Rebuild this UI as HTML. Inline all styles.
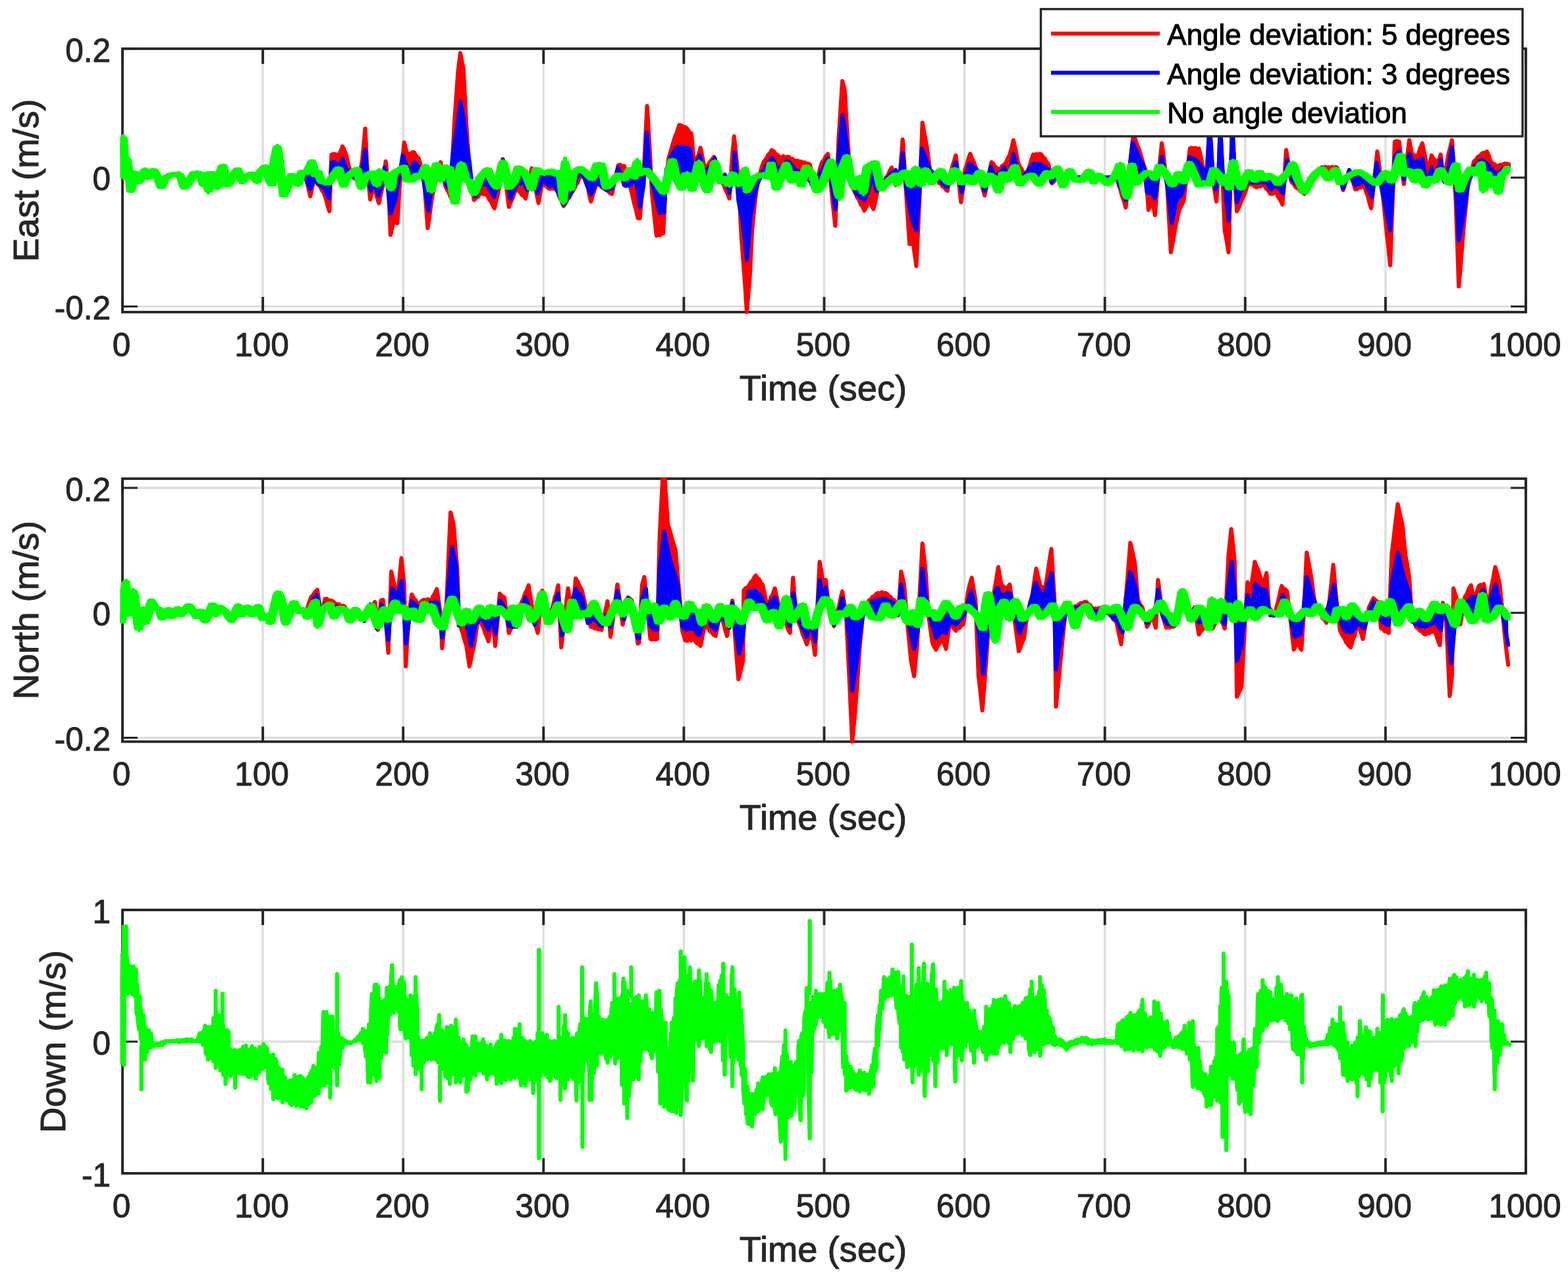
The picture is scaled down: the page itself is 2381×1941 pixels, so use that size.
<!DOCTYPE html><html><head><meta charset="utf-8"><title>Velocity error plot</title><style>html,body{margin:0;padding:0;background:#fff;overflow:hidden}svg{display:block}text{font-family:"Liberation Sans",Arial,Helvetica,sans-serif}</style></head><body>
<svg width="2381" height="1941" viewBox="0 0 2381 1941">
<rect width="2381" height="1941" fill="#fff"/>
<path d="M399.1 74V474M612.2 74V474M825.3 74V474M1038.4 74V474M1251.5 74V474M1464.6 74V474M1677.7 74V474M1890.8 74V474M2103.9 74V474M186 465.4H2317M186 269.7H2317" stroke="#dedede" stroke-width="3.4" fill="none"/>
<path d="M186 474v-22.9M186 74v22.9M399.1 474v-22.9M399.1 74v22.9M612.2 474v-22.9M612.2 74v22.9M825.3 474v-22.9M825.3 74v22.9M1038.4 474v-22.9M1038.4 74v22.9M1251.5 474v-22.9M1251.5 74v22.9M1464.6 474v-22.9M1464.6 74v22.9M1677.7 474v-22.9M1677.7 74v22.9M1890.8 474v-22.9M1890.8 74v22.9M2103.9 474v-22.9M2103.9 74v22.9M2317 474v-22.9M2317 74v22.9" stroke="#262626" stroke-width="3.85" fill="none"/>
<path d="M186 465.4h22.9M2317 465.4h-22.9M186 269.7h22.9M2317 269.7h-22.9M186 74h22.9M2317 74h-22.9" stroke="#262626" stroke-width="3" fill="none"/>
<rect x="186" y="74" width="2131" height="400" stroke="#262626" stroke-width="3.85" fill="none"/>
<clipPath id="c0"><rect x="182.4" y="70.4" width="2138.2" height="407.2"/></clipPath>
<g clip-path="url(#c0)" stroke-linejoin="round" stroke-linecap="round">
<path d="M461.7 270.2 465.4 273.9 468.3 285.4 471.1 298.2 473.9 285.7 476.7 272.1 479.2 274.2 481.7 279 484.2 281.5 486.7 284.3 489.2 289.6 491.7 292.7 494.6 300.9 497.4 312.3 500.2 320.7 502.1 270.2 503.4 234.7 506.9 233.9 510.5 234.5 514.3 236.4 517.1 230 519.9 222.5 522.7 227.4 525.5 234.5 529.3 251.4 531.8 258.8 534.3 263.2 536.8 270.2 539.3 271.4 541.8 270.3 544.3 272.1 547.1 259.1 550 243.9 554.6 195.3 557.5 255.2 562.2 302.9 566.9 281.5 569.7 289.7 572.5 300 575.3 308.5 580 287.1 581.5 281.4 585.7 245.2 589.6 281.4 593 356.7 597.6 336.7 600.5 336.8 603.4 339 606.9 281.4 610.3 250.1 613.8 216.4 618.4 235.3 621 233.6 623.6 234.1 626.2 231.2 628.8 231.4 632.2 237 635.7 240.6 638.4 249.2 641 261 643.7 269.9 646.6 307.5 649.5 346.4 652.4 326.5 655.3 304.4 658.7 287.2 662.2 272.2 665.6 260.4 669.1 246.4 672.5 263.1 676 281.4 678.7 288 681.4 292 684.1 299.1 686.9 245.3 689.8 189.2 692.7 148.3 695.6 108.6 699 80.5 703.6 104 708.2 189.2 712.9 258.3 716.3 281.6 719.8 303.7 722.6 300.4 725.5 299.3 728.4 294.9 731.3 292.9 734.4 295 737.4 295.1 740.5 297.5 743.1 303.4 745.7 306.1 748.3 312.2 750.9 316.4 753.6 304.1 756.3 293.7 758.9 281.4 763.5 241.7 766.6 265.1 769.7 290.6 772.8 314.1 775.6 306.5 778.5 300.8 781.4 292.4 784.3 286 787.1 289.7 789.8 291.6 792.6 296.1 795.3 297.3 798.1 301.4 801.2 286.9 804.3 270.3 807.3 255.6 809.9 269.5 812.5 281.4 815.1 295.7 817.7 308.3 820.6 291.9 823.5 276.8 826.5 281 829.6 282.4 832.7 286 835.6 286.8 838.4 285.5 841.3 286.7 844.2 286 847.1 291.5 850 300.5 852.8 305.4 855.7 312.9 858.5 309.1 861.2 303.3 864 300.4 866.8 294.3 869.5 290.6 872 286.6 874.5 280.7 876.9 277.6 879.4 270.7 881.9 268.4 884.4 261.7 886.8 257.9 889.4 270.7 892 281.4 894.6 295.2 897.2 306 900.3 295.5 903.3 287 906.4 276.8 909.2 277.9 911.9 282.3 914.7 282.7 917.5 286.8 920.2 288.3 923.3 289.7 926.4 293.5 929.4 294.5 932.5 279 935.6 266.3 938.7 251 941.7 250.2 944.8 252.3 947.9 252.1 950.8 261.1 953.6 273.4 956.5 282.1 959.4 292.9 962.5 306.8 965.5 317.4 968.6 331.4 971.5 331.4 974.4 301.7 977.3 269.9 979.9 214.7 982.6 161.1 986.5 223.8 990 292.9 993.4 326.3 996.9 357.9 999.5 356.1 1002.1 357.1 1004.6 354.5 1007.2 354.4 1010.7 281.4 1015.3 239.9 1018.8 228.9 1022.2 216.9 1025.3 207.1 1028.4 199.6 1031.4 189.9 1034.5 190.5 1037.6 192.8 1040.6 193.4 1043.7 195.6 1046.8 200.7 1049.9 203 1054.5 253.7 1057.5 243.4 1060.6 235.3 1063.7 224.5 1067.1 240.9 1070.6 258.3 1073.7 254.1 1076.7 247.9 1079.8 244 1084.4 238.3 1087.9 251.7 1091.3 262.9 1094 268.3 1096.7 276.7 1099.4 281.4 1102.1 289.3 1104.8 293.9 1107.5 301.4 1112.1 235.3 1114.8 207.2 1118.1 239.5 1121.3 269.9 1125.9 362 1128.8 399.4 1131.7 438.1 1134 474 1138.6 419.6 1142 350.5 1146.6 304.4 1151.2 269.9 1154.3 262.5 1157.4 251.9 1160.5 244.5 1163.3 241.5 1166.2 235.5 1169.1 232.9 1172 227.9 1174.9 229.6 1177.7 233.8 1180.6 235 1183.5 238.3 1186.4 239.4 1189.3 237.2 1192.1 239.4 1195 238.3 1197.8 238.4 1200.6 241.5 1203.3 241.2 1206.1 244 1208.8 244 1211.4 244.1 1214 246.4 1216.6 245.3 1219.2 247.6 1221.8 246.7 1224.4 248.9 1227 248.5 1229.6 249.8 1232.7 261.4 1235.7 270.1 1238.8 281.4 1241.9 270.7 1244.9 257.4 1248 246.8 1251.1 243.3 1254.2 237 1257.2 233.7 1261.8 281.4 1265.1 313.2 1268.3 342.9 1270.8 276.9 1273.4 212.2 1276.2 168.2 1279.1 123.1 1282.6 136.2 1287.2 212.2 1291.8 281.4 1295.3 286.3 1298.7 292.9 1301.5 299.4 1304.2 303 1307 310.1 1309.8 313.7 1312.5 319.9 1316 313.3 1319.4 304.4 1322.9 310.5 1326.4 317.5 1329.8 302.4 1333.3 286 1336.3 281.9 1339.4 281 1342.5 276.8 1345.4 270 1348.2 266.7 1351.1 259.3 1354 254.4 1357 268.8 1360 281.4 1363.1 275.1 1366.1 269.9 1370.7 211.8 1375.3 281.4 1378.2 326.8 1381.1 370.5 1384 370.1 1386.9 371.2 1391.5 404 1396.1 304.4 1400.7 186.4 1404.1 205.7 1407.6 223.8 1412.2 258.3 1415.3 262.3 1418.4 268.7 1421.4 272.2 1423.9 273.8 1426.4 278.2 1428.8 278.7 1431.3 283.5 1433.8 283.7 1436.2 288 1438.7 289.9 1441.6 273.2 1444.5 258.3 1447.9 247.7 1451.4 236 1454.1 259.1 1456.8 284.2 1459.4 307.2 1462.3 282.2 1465.2 258.3 1467.9 250.7 1470.6 241 1473.3 233.7 1475.9 240.9 1478.5 245.3 1481 252.8 1483.6 258.3 1486.5 267 1489.4 278.2 1492.3 286.1 1495.2 296.8 1497.8 284.7 1500.3 270.9 1502.9 260.1 1505.5 246.4 1508.1 248.4 1510.7 253 1513.3 254.8 1515.9 258.3 1518.8 256.6 1521.7 252.1 1524.5 250.7 1527.4 247.5 1530.3 240.3 1533.2 235.3 1536.1 224.7 1538.9 212.9 1542.4 228.8 1545.9 246.8 1548.7 253.4 1551.6 257.4 1554.5 264.6 1557.4 269.9 1560.3 260 1563.1 253.5 1566 243.1 1568.9 234.8 1571.4 235.6 1574 233.9 1576.5 235.7 1579 233.7 1581.6 234.8 1584.2 239.1 1586.8 241 1589.3 246.4 1591.9 248.7 1594.8 262.8 1597.7 278.4 1600.4 275.7 1603.1 270.4 1605.8 267.5 1608.4 268.3 1610.9 267.2 1613.5 269.2 1616.1 268.2 1618.7 270.1 1621.3 268.3 1623.9 270.6 1626.5 269.9 1629 269 1631.4 270.8 1633.9 269.2 1636.4 270.7 1638.8 268.9 1641.3 270.7 1643.8 269 1646.2 270.6 1648.7 269.2 1651.2 270.5 1653.7 269.2 1656.1 271 1658.6 269.3 1661.1 270.6 1663.5 269.3 1666 270.6 1668.5 268.9 1670.9 270.5 1673.4 268.7 1675.9 270.6 1678.3 269.3 1680.8 271 1683.3 269.1 1685.7 270.7 1688.2 268.8 1690.7 270.6 1693.2 268.8 1695.6 269.9 1698.4 279.5 1701.2 287.2 1703.9 297.7 1706.7 305 1709.4 315.2 1712.3 287.9 1715.2 258.1 1718.1 232.1 1721 203 1723.8 210.7 1726.7 220.6 1729.6 226.7 1732.5 236 1735.9 247.9 1739.4 258.3 1744 318.7 1747 311 1750 304.4 1753.8 326.8 1758.4 269.9 1761.3 244.9 1764.2 217.5 1766.9 238 1769.6 260.6 1772.3 281.4 1775.1 331.6 1778 383.2 1780.9 367.5 1783.8 350.5 1787.2 333.7 1790.7 318.2 1794.1 312.3 1797.6 304.4 1800.7 277.2 1803.7 252.8 1806.8 225.6 1809.6 224.5 1812.4 226.2 1815.1 224.6 1817.9 226.4 1820.6 225.6 1824.1 241.2 1827.6 258.3 1832.2 269.9 1836.8 189.2 1841.4 269.9 1844.3 289 1847.1 306 1850.6 258.3 1852.9 189.2 1856.4 269.9 1859.8 350.5 1862.7 365.9 1865.6 383.2 1869 258.3 1871.3 189.2 1874.8 269.9 1878.2 321 1881.3 314.7 1884.4 306.3 1887.5 299.8 1890.5 293.2 1893.6 283.4 1896.7 276.8 1899.8 280.1 1902.8 280.2 1905.9 283.7 1908.7 284.4 1911.4 282 1914.2 283.2 1917 280.9 1919.7 281.4 1922.8 286.7 1925.9 289.1 1928.9 294.5 1932 294.5 1935.1 292.6 1938.2 292.9 1941.2 299.6 1944.3 304 1947.4 310.6 1950.3 270 1953.1 227.9 1955.8 243.6 1958.5 261.6 1961.2 276.8 1964.3 278.9 1967.3 284.1 1970.4 286 1973 287.3 1975.6 291.2 1978.2 291.5 1980.8 294.5 1983.3 291.4 1985.9 285.6 1988.4 283 1990.9 277.8 1993.5 274.5 1996.2 271.5 1999 265.4 2001.8 263 2004.5 257.9 2007.3 254.4 2009.8 255.3 2012.4 253.3 2015 255 2017.5 253.8 2020.1 255.5 2022.6 253.5 2025.2 254.9 2027.8 253.8 2030.3 254.4 2033.4 266.4 2036.5 276.3 2039.5 288.7 2042.6 279.4 2045.7 268.1 2048.8 259 2051.8 269.1 2054.9 277.4 2058 287.6 2060.7 286.9 2063.5 284.2 2066.3 284.8 2069 282.1 2071.8 281.4 2074.4 290.9 2077 298.1 2079.6 308.5 2082.2 316.4 2085.2 287 2088.3 259.7 2091.4 230.2 2094.1 250 2096.8 273 2099.4 292.9 2102.3 319.4 2105.2 348.5 2108.1 374.4 2111 402.8 2114.4 309.5 2117.9 215.2 2121.3 214.2 2124.8 215.2 2128.2 248.1 2131.7 279.5 2134.5 256.7 2137.2 235.7 2140 212.9 2143.8 233 2147.2 235.6 2150.7 239.9 2153.8 233.6 2156.8 224.5 2159.9 217.5 2163 233.6 2166.1 246.9 2169.1 262.9 2173.7 236 2176.8 241 2179.9 243.9 2182.9 249.1 2187.6 234.8 2190.4 256 2193.3 276.1 2196.2 255 2199.1 235.3 2202 225.1 2204.8 212.9 2207.7 257.9 2210.6 304.4 2215.2 435.1 2218.7 394 2222.1 350.5 2225.6 314.9 2229 281.4 2232.1 269.9 2235.2 256.7 2238.2 245.2 2241.1 242.9 2244 238.3 2246.9 237.2 2249.8 233.7 2252.5 232 2255.1 232.5 2257.8 230.2 2260.5 235.4 2263.2 243.7 2265.9 249.1 2269 249.1 2272 251.7 2275.1 252.1 2278.2 250.3 2281.3 250.4 2284.3 248.7 2287.8 248.7 2291.2 249.8L2291.2 258.3 2287.8 257.8 2284.3 262.9 2281.3 264.5 2278.2 274.6 2275.1 293.4 2272 277.7 2269 273.4 2265.9 280.4 2263.2 277.6 2260.5 268.3 2257.8 267.6 2255.1 278.6 2252.5 289.5 2249.8 247.5 2246.9 253 2244 258.6 2241.1 264.1 2238.2 262 2235.2 257.7 2232.1 257.9 2229 262.7 2225.6 268.1 2222.1 275.6 2218.7 284.2 2215.2 281.6 2210.6 248.7 2207.7 258.3 2204.8 268 2202 277.6 2199.1 276.3 2196.2 272.3 2193.3 267.7 2190.4 262.2 2187.6 256.7 2182.9 266.4 2179.9 272.8 2176.8 274.7 2173.7 271.9 2169.1 274.2 2166.1 280.1 2163 279.8 2159.9 273.4 2156.8 267 2153.8 260.6 2150.7 267.5 2147.2 273.6 2143.8 266.3 2140 258.3 2137.2 260.6 2134.5 262.9 2131.7 265.2 2128.2 242.4 2124.8 241.7 2121.3 252 2117.9 262.3 2114.4 272.6 2111 272.4 2108.1 267.8 2105.2 263.2 2102.3 263.6 2099.4 267.4 2096.8 270.9 2094.1 274.5 2091.4 278 2088.3 278.1 2085.2 275.9 2082.2 273.5 2079.6 271.5 2077 269.4 2074.4 267.3 2071.8 265.2 2069 263.7 2066.3 262.2 2063.5 260.7 2060.7 261 2058 262.2 2054.9 263.6 2051.8 264.9 2048.8 266.8 2045.7 268.8 2042.6 271.3 2039.5 274.1 2036.5 277 2033.4 273.6 2030.3 263.9 2027.8 257.1 2025.2 260.6 2022.6 264.1 2020.1 267.7 2017.5 271.2 2015 269.8 2012.4 265 2009.8 260.3 2007.3 255.6 2004.5 258.1 2001.8 260.5 1999 263 1996.2 265.5 1993.5 269.5 1990.9 273.5 1988.4 277.6 1985.9 282.5 1983.3 287.4 1980.8 292.2 1978.2 287.2 1975.6 282.2 1973 277.2 1970.4 272.2 1967.3 261.2 1964.3 250.2 1961.2 252.1 1958.5 257.5 1955.8 262 1953.1 264.5 1950.3 267.2 1947.4 269.9 1944.3 274.2 1941.2 278.5 1938.2 275.8 1935.1 271.6 1932 269.6 1928.9 267.5 1925.9 266.6 1922.8 269.4 1919.7 272.2 1917 267.8 1914.2 263.5 1911.4 264 1908.7 269.2 1905.9 274.5 1902.8 269.7 1899.8 264.9 1896.7 260.2 1893.6 265.5 1890.5 270.8 1887.5 279.3 1884.4 284.9 1881.3 278.5 1878.2 272.2 1874.8 255.3 1871.3 252.5 1869 269.5 1865.6 265.2 1862.7 270.3 1859.8 275.4 1856.4 277.1 1852.9 270 1850.6 265.2 1847.1 261.6 1844.3 258.5 1841.4 261.5 1836.8 280.7 1832.2 278.7 1827.6 276.8 1824.1 279.3 1820.6 281.8 1817.9 275.2 1815.1 268.6 1812.4 262.2 1809.6 256.1 1806.8 250 1803.7 254.6 1800.7 265.9 1797.6 277.2 1794.1 270.9 1790.7 264.6 1787.2 267.3 1783.8 274.6 1780.9 280.6 1778 277.6 1775.1 272.4 1772.3 267.1 1769.6 262.5 1766.9 259.3 1764.2 256.2 1761.3 252.8 1758.4 258.6 1753.8 271.5 1750 265.2 1747 263.8 1744 262.4 1739.4 263.5 1735.9 266.7 1732.5 269.9 1729.6 273.3 1726.7 276.8 1723.8 276.6 1721 261.7 1718.1 254 1715.2 275 1712.3 296.1 1709.4 292.7 1706.7 283.6 1703.9 266.6 1701.2 249.2 1698.4 255.7 1695.6 262.2 1693.2 267.7 1690.7 270.3 1688.2 272.9 1685.7 275.4 1683.3 278 1680.8 278.5 1678.3 276 1675.9 273.4 1673.4 270.9 1670.9 268.3 1668.5 265.8 1666 268.7 1663.5 272.9 1661.1 277.2 1658.6 270.7 1656.1 264.2 1653.7 259.7 1651.2 263 1648.7 266.3 1646.2 269.6 1643.8 272.9 1641.3 274.5 1638.8 274.5 1636.4 274.5 1633.9 274.5 1631.4 270.9 1629 266.5 1626.5 262 1623.9 258.6 1621.3 264.8 1618.7 271.1 1616.1 277.4 1613.5 282 1610.9 272.8 1608.4 263.6 1605.8 254.4 1603.1 258 1600.4 261.6 1597.7 265.2 1594.8 269.1 1591.9 265.6 1589.3 261.8 1586.8 266.2 1584.2 270.5 1581.6 274.9 1579 279.1 1576.5 278.5 1574 275.1 1571.4 271.7 1568.9 268.3 1566 265.5 1563.1 267 1560.3 268.4 1557.4 269.9 1554.5 273.2 1551.6 276.6 1548.7 280 1545.9 271.2 1542.4 256.9 1538.9 256.6 1536.1 262.2 1533.2 267.8 1530.3 273.3 1527.4 270.9 1524.5 266.3 1521.7 268.2 1518.8 279.6 1515.9 291.1 1513.3 283.1 1510.7 275.2 1508.1 269.3 1505.5 267.5 1502.9 265.8 1500.3 269.7 1497.8 276.3 1495.2 283 1492.3 273.5 1489.4 264 1486.5 262.9 1483.6 267.5 1481 271.6 1478.5 275.6 1475.9 277 1473.3 273 1470.6 268.8 1467.9 269.8 1465.2 273 1462.3 276.3 1459.4 275.1 1456.8 267.4 1454.1 262.9 1451.4 259.6 1447.9 260.3 1444.5 271.2 1441.6 277.9 1438.7 275.3 1436.2 273 1433.8 269.1 1431.3 264 1428.8 258.9 1426.4 260.6 1423.9 264.1 1421.4 267.5 1418.4 272.4 1415.3 277.2 1412.2 273 1407.6 262.1 1404.1 260.9 1400.7 273.5 1396.1 274 1391.5 258.3 1386.9 268.7 1384 280.6 1381.1 276.5 1378.2 268.3 1375.3 260.2 1370.7 263.6 1366.1 270.4 1363.1 277.2 1360 265.2 1357 267.9 1354 270.6 1351.1 273.2 1348.2 275.7 1345.4 278.8 1342.5 282.2 1339.4 285.8 1336.3 280.7 1333.3 267 1329.8 251.5 1326.4 247.8 1322.9 250 1319.4 252.2 1316 254.4 1312.5 284.5 1309.8 287.2 1307 274.5 1304.2 271.8 1301.5 278.9 1298.7 286 1295.3 279.1 1291.8 272.2 1287.2 244.1 1282.6 246.2 1279.1 255.3 1276.2 280.5 1273.4 296.9 1270.8 284.6 1268.3 272.4 1265.1 258.2 1261.8 244 1257.2 256.5 1254.2 264.8 1251.1 273.1 1248 281.4 1244.9 285.1 1241.9 288.7 1238.8 285.9 1235.7 272.1 1232.7 263.5 1229.6 259.9 1227 256.9 1224.4 253.9 1221.8 261.6 1219.2 272.3 1216.6 281.2 1214 275.1 1211.4 269 1208.8 262.9 1206.1 268.2 1203.3 273.4 1200.6 271.4 1197.8 262 1195 252.6 1192.1 253.2 1189.3 260.8 1186.4 268.3 1183.5 275.4 1180.6 282.3 1177.7 281 1174.9 267.5 1172 254.1 1169.1 259.3 1166.2 269.4 1163.3 268.2 1160.5 267.1 1157.4 265.9 1154.3 265.9 1151.2 267.1 1146.6 268.9 1142 274.3 1138.6 280.9 1134 289.7 1131.7 257.2 1128.8 263.9 1125.9 270.6 1121.3 281.4 1118.1 274.9 1114.8 268.5 1112.1 262.9 1107.5 281.8 1104.8 277.2 1102.1 272.5 1099.4 271 1096.7 273.7 1094 276.4 1091.3 267.7 1087.9 254.2 1084.4 249.8 1079.8 268.1 1076.7 280.4 1073.7 290.2 1070.6 283 1067.1 274.9 1063.7 258.7 1060.6 248.4 1057.5 261.3 1054.5 274.2 1049.9 282.9 1046.8 267.2 1043.7 265.2 1040.6 265.2 1037.6 276.5 1034.5 285.7 1031.4 279.3 1028.4 273 1025.3 262.7 1022.2 248.3 1018.8 250.9 1015.3 262.9 1010.7 283.2 1007.2 291.7 1004.6 288 1002.1 284.2 999.5 280.5 996.9 276.8 993.4 272.4 990 268.1 986.5 264 982.6 259.8 979.9 258.4 977.3 260.2 974.4 262.2 971.5 264.2 968.6 253.1 965.5 257.9 962.5 266.9 959.4 261.1 956.5 257.7 953.6 262.5 950.8 267.3 947.9 272.2 944.8 269.9 941.7 267.5 938.7 265.2 935.6 269.1 932.5 272.9 929.4 276.8 926.4 279.6 923.3 282.4 920.2 285.3 917.5 271.1 914.7 256.9 911.9 249.8 909.2 249.8 906.4 249.8 903.3 259.7 900.3 269.7 897.2 269.9 894.6 267.3 892 264.7 889.4 262.2 886.8 260.2 884.4 258.2 881.9 256.2 879.4 256.6 876.9 258.2 874.5 259.8 872 261.4 869.5 262.9 866.8 286.4 864 279.3 861.2 272.2 858.5 246.4 855.7 308.3 852.8 279 850 262 847.1 263.6 844.2 265.2 841.3 262.7 838.4 260.1 835.6 260.5 832.7 262.9 829.6 262.9 826.5 262.9 823.5 262.9 820.6 261 817.7 259.1 815.1 257.3 812.5 264.4 809.9 276 807.3 287.6 804.3 279.7 801.2 271.8 798.1 265.2 795.3 260.3 792.6 258.5 789.8 256.6 787.1 254.7 784.3 264.4 781.4 275.1 778.5 278.5 775.6 281.9 772.8 285.3 769.7 268.9 766.6 255.5 763.5 245.2 758.9 265.2 756.3 276.9 753.6 284.1 750.9 279.9 748.3 275.8 745.7 270 743.1 263.4 740.5 256.7 737.4 260.2 734.4 263.7 731.3 267.2 728.4 271.4 725.5 279.1 722.6 286.8 719.8 294.5 716.3 284.5 712.9 274.5 708.2 274.5 703.6 258.3 699 253.1 695.6 269.9 692.7 293.9 689.8 302 686.9 286.2 684.1 266.4 681.4 255.5 678.7 254.6 676 253.7 672.5 261.7 669.1 274.5 665.6 259 662.2 252 658.7 261.9 655.3 291.1 652.4 278.9 649.5 266.7 646.6 254.5 643.7 258 641 264.9 638.4 269.2 635.7 267.1 632.2 266.6 628.8 270.5 626.2 273.5 623.6 274.3 621 274 618.4 273.8 613.8 253.3 610.3 255.4 606.9 257.6 603.4 259.7 600.5 261.3 597.6 262.9 593 284.5 589.6 275.3 585.7 264.8 581.5 267.5 580 272.1 575.3 264.2 572.5 282.2 569.7 274.6 566.9 267 562.2 263.3 557.5 265.5 554.6 268.9 550 281.1 547.1 281 544.3 266.2 541.8 256.8 539.3 258.8 536.8 260.8 534.3 262.8 531.8 264.8 529.3 266.8 525.5 272.9 522.7 279.9 519.9 275.5 517.1 265.4 514.3 255.4 510.5 260.5 506.9 265.5 503.4 271 502.1 273.4 500.2 276.8 497.4 278 494.6 277.4 491.7 276.7 489.2 276.1 486.7 272.3 484.2 265.3 481.7 261.1 479.2 265.4 476.7 257.9 473.9 245 471.1 250.9 468.3 256.8 465.4 262.7 461.7 261.7Z" fill="#ff0000"/>
<path d="M461.7 270.2 465.4 273.9 468.3 285.4 471.1 298.2 473.9 285.7 476.7 272.1 479.2 274.2 481.7 279 484.2 281.5 486.7 284.3 489.2 289.6 491.7 292.7 494.6 300.9 497.4 312.3 500.2 320.7 502.1 270.2 503.4 234.7 506.9 233.9 510.5 234.5 514.3 236.4 517.1 230 519.9 222.5 522.7 227.4 525.5 234.5 529.3 251.4 531.8 258.8 534.3 263.2 536.8 270.2 539.3 271.4 541.8 270.3 544.3 272.1 547.1 259.1 550 243.9 554.6 195.3 557.5 255.2 562.2 302.9 566.9 281.5 569.7 289.7 572.5 300 575.3 308.5 580 287.1 581.5 281.4 585.7 245.2 589.6 281.4 593 356.7 597.6 336.7 600.5 336.8 603.4 339 606.9 281.4 610.3 250.1 613.8 216.4 618.4 235.3 621 233.6 623.6 234.1 626.2 231.2 628.8 231.4 632.2 237 635.7 240.6 638.4 249.2 641 261 643.7 269.9 646.6 307.5 649.5 346.4 652.4 326.5 655.3 304.4 658.7 287.2 662.2 272.2 665.6 260.4 669.1 246.4 672.5 263.1 676 281.4 678.7 288 681.4 292 684.1 299.1 686.9 245.3 689.8 189.2 692.7 148.3 695.6 108.6 699 80.5 703.6 104 708.2 189.2 712.9 258.3 716.3 281.6 719.8 303.7 722.6 300.4 725.5 299.3 728.4 294.9 731.3 292.9 734.4 295 737.4 295.1 740.5 297.5 743.1 303.4 745.7 306.1 748.3 312.2 750.9 316.4 753.6 304.1 756.3 293.7 758.9 281.4 763.5 241.7 766.6 265.1 769.7 290.6 772.8 314.1 775.6 306.5 778.5 300.8 781.4 292.4 784.3 286 787.1 289.7 789.8 291.6 792.6 296.1 795.3 297.3 798.1 301.4 801.2 286.9 804.3 270.3 807.3 255.6 809.9 269.5 812.5 281.4 815.1 295.7 817.7 308.3 820.6 291.9 823.5 276.8 826.5 281 829.6 282.4 832.7 286 835.6 286.8 838.4 285.5 841.3 286.7 844.2 286 847.1 291.5 850 300.5 852.8 305.4 855.7 312.9 858.5 309.1 861.2 303.3 864 300.4 866.8 294.3 869.5 290.6 872 286.6 874.5 280.7 876.9 277.6 879.4 270.7 881.9 268.4 884.4 261.7 886.8 257.9 889.4 270.7 892 281.4 894.6 295.2 897.2 306 900.3 295.5 903.3 287 906.4 276.8 909.2 277.9 911.9 282.3 914.7 282.7 917.5 286.8 920.2 288.3 923.3 289.7 926.4 293.5 929.4 294.5 932.5 279 935.6 266.3 938.7 251 941.7 250.2 944.8 252.3 947.9 252.1 950.8 261.1 953.6 273.4 956.5 282.1 959.4 292.9 962.5 306.8 965.5 317.4 968.6 331.4 971.5 331.4 974.4 301.7 977.3 269.9 979.9 214.7 982.6 161.1 986.5 223.8 990 292.9 993.4 326.3 996.9 357.9 999.5 356.1 1002.1 357.1 1004.6 354.5 1007.2 354.4 1010.7 281.4 1015.3 239.9 1018.8 228.9 1022.2 216.9 1025.3 207.1 1028.4 199.6 1031.4 189.9 1034.5 190.5 1037.6 192.8 1040.6 193.4 1043.7 195.6 1046.8 200.7 1049.9 203 1054.5 253.7 1057.5 243.4 1060.6 235.3 1063.7 224.5 1067.1 240.9 1070.6 258.3 1073.7 254.1 1076.7 247.9 1079.8 244 1084.4 238.3 1087.9 251.7 1091.3 262.9 1094 268.3 1096.7 276.7 1099.4 281.4 1102.1 289.3 1104.8 293.9 1107.5 301.4 1112.1 235.3 1114.8 207.2 1118.1 239.5 1121.3 269.9 1125.9 362 1128.8 399.4 1131.7 438.1 1134 474 1138.6 419.6 1142 350.5 1146.6 304.4 1151.2 269.9 1154.3 262.5 1157.4 251.9 1160.5 244.5 1163.3 241.5 1166.2 235.5 1169.1 232.9 1172 227.9 1174.9 229.6 1177.7 233.8 1180.6 235 1183.5 238.3 1186.4 239.4 1189.3 237.2 1192.1 239.4 1195 238.3 1197.8 238.4 1200.6 241.5 1203.3 241.2 1206.1 244 1208.8 244 1211.4 244.1 1214 246.4 1216.6 245.3 1219.2 247.6 1221.8 246.7 1224.4 248.9 1227 248.5 1229.6 249.8 1232.7 261.4 1235.7 270.1 1238.8 281.4 1241.9 270.7 1244.9 257.4 1248 246.8 1251.1 243.3 1254.2 237 1257.2 233.7 1261.8 281.4 1265.1 313.2 1268.3 342.9 1270.8 276.9 1273.4 212.2 1276.2 168.2 1279.1 123.1 1282.6 136.2 1287.2 212.2 1291.8 281.4 1295.3 286.3 1298.7 292.9 1301.5 299.4 1304.2 303 1307 310.1 1309.8 313.7 1312.5 319.9 1316 313.3 1319.4 304.4 1322.9 310.5 1326.4 317.5 1329.8 302.4 1333.3 286 1336.3 281.9 1339.4 281 1342.5 276.8 1345.4 270 1348.2 266.7 1351.1 259.3 1354 254.4 1357 268.8 1360 281.4 1363.1 275.1 1366.1 269.9 1370.7 211.8 1375.3 281.4 1378.2 326.8 1381.1 370.5 1384 370.1 1386.9 371.2 1391.5 404 1396.1 304.4 1400.7 186.4 1404.1 205.7 1407.6 223.8 1412.2 258.3 1415.3 262.3 1418.4 268.7 1421.4 272.2 1423.9 273.8 1426.4 278.2 1428.8 278.7 1431.3 283.5 1433.8 283.7 1436.2 288 1438.7 289.9 1441.6 273.2 1444.5 258.3 1447.9 247.7 1451.4 236 1454.1 259.1 1456.8 284.2 1459.4 307.2 1462.3 282.2 1465.2 258.3 1467.9 250.7 1470.6 241 1473.3 233.7 1475.9 240.9 1478.5 245.3 1481 252.8 1483.6 258.3 1486.5 267 1489.4 278.2 1492.3 286.1 1495.2 296.8 1497.8 284.7 1500.3 270.9 1502.9 260.1 1505.5 246.4 1508.1 248.4 1510.7 253 1513.3 254.8 1515.9 258.3 1518.8 256.6 1521.7 252.1 1524.5 250.7 1527.4 247.5 1530.3 240.3 1533.2 235.3 1536.1 224.7 1538.9 212.9 1542.4 228.8 1545.9 246.8 1548.7 253.4 1551.6 257.4 1554.5 264.6 1557.4 269.9 1560.3 260 1563.1 253.5 1566 243.1 1568.9 234.8 1571.4 235.6 1574 233.9 1576.5 235.7 1579 233.7 1581.6 234.8 1584.2 239.1 1586.8 241 1589.3 246.4 1591.9 248.7 1594.8 262.8 1597.7 278.4 1600.4 275.7 1603.1 270.4 1605.8 267.5 1608.4 268.3 1610.9 267.2 1613.5 269.2 1616.1 268.2 1618.7 270.1 1621.3 268.3 1623.9 270.6 1626.5 269.9 1629 269 1631.4 270.8 1633.9 269.2 1636.4 270.7 1638.8 268.9 1641.3 270.7 1643.8 269 1646.2 270.6 1648.7 269.2 1651.2 270.5 1653.7 269.2 1656.1 271 1658.6 269.3 1661.1 270.6 1663.5 269.3 1666 270.6 1668.5 268.9 1670.9 270.5 1673.4 268.7 1675.9 270.6 1678.3 269.3 1680.8 271 1683.3 269.1 1685.7 270.7 1688.2 268.8 1690.7 270.6 1693.2 268.8 1695.6 269.9 1698.4 279.5 1701.2 287.2 1703.9 297.7 1706.7 305 1709.4 315.2 1712.3 287.9 1715.2 258.1 1718.1 232.1 1721 203 1723.8 210.7 1726.7 220.6 1729.6 226.7 1732.5 236 1735.9 247.9 1739.4 258.3 1744 318.7 1747 311 1750 304.4 1753.8 326.8 1758.4 269.9 1761.3 244.9 1764.2 217.5 1766.9 238 1769.6 260.6 1772.3 281.4 1775.1 331.6 1778 383.2 1780.9 367.5 1783.8 350.5 1787.2 333.7 1790.7 318.2 1794.1 312.3 1797.6 304.4 1800.7 277.2 1803.7 252.8 1806.8 225.6 1809.6 224.5 1812.4 226.2 1815.1 224.6 1817.9 226.4 1820.6 225.6 1824.1 241.2 1827.6 258.3 1832.2 269.9 1836.8 189.2 1841.4 269.9 1844.3 289 1847.1 306 1850.6 258.3 1852.9 189.2 1856.4 269.9 1859.8 350.5 1862.7 365.9 1865.6 383.2 1869 258.3 1871.3 189.2 1874.8 269.9 1878.2 321 1881.3 314.7 1884.4 306.3 1887.5 299.8 1890.5 293.2 1893.6 283.4 1896.7 276.8 1899.8 280.1 1902.8 280.2 1905.9 283.7 1908.7 284.4 1911.4 282 1914.2 283.2 1917 280.9 1919.7 281.4 1922.8 286.7 1925.9 289.1 1928.9 294.5 1932 294.5 1935.1 292.6 1938.2 292.9 1941.2 299.6 1944.3 304 1947.4 310.6 1950.3 270 1953.1 227.9 1955.8 243.6 1958.5 261.6 1961.2 276.8 1964.3 278.9 1967.3 284.1 1970.4 286 1973 287.3 1975.6 291.2 1978.2 291.5 1980.8 294.5 1983.3 291.4 1985.9 285.6 1988.4 283 1990.9 277.8 1993.5 274.5 1996.2 271.5 1999 265.4 2001.8 263 2004.5 257.9 2007.3 254.4 2009.8 255.3 2012.4 253.3 2015 255 2017.5 253.8 2020.1 255.5 2022.6 253.5 2025.2 254.9 2027.8 253.8 2030.3 254.4 2033.4 266.4 2036.5 276.3 2039.5 288.7 2042.6 279.4 2045.7 268.1 2048.8 259 2051.8 269.1 2054.9 277.4 2058 287.6 2060.7 286.9 2063.5 284.2 2066.3 284.8 2069 282.1 2071.8 281.4 2074.4 290.9 2077 298.1 2079.6 308.5 2082.2 316.4 2085.2 287 2088.3 259.7 2091.4 230.2 2094.1 250 2096.8 273 2099.4 292.9 2102.3 319.4 2105.2 348.5 2108.1 374.4 2111 402.8 2114.4 309.5 2117.9 215.2 2121.3 214.2 2124.8 215.2 2128.2 248.1 2131.7 279.5 2134.5 256.7 2137.2 235.7 2140 212.9 2143.8 233 2147.2 235.6 2150.7 239.9 2153.8 233.6 2156.8 224.5 2159.9 217.5 2163 233.6 2166.1 246.9 2169.1 262.9 2173.7 236 2176.8 241 2179.9 243.9 2182.9 249.1 2187.6 234.8 2190.4 256 2193.3 276.1 2196.2 255 2199.1 235.3 2202 225.1 2204.8 212.9 2207.7 257.9 2210.6 304.4 2215.2 435.1 2218.7 394 2222.1 350.5 2225.6 314.9 2229 281.4 2232.1 269.9 2235.2 256.7 2238.2 245.2 2241.1 242.9 2244 238.3 2246.9 237.2 2249.8 233.7 2252.5 232 2255.1 232.5 2257.8 230.2 2260.5 235.4 2263.2 243.7 2265.9 249.1 2269 249.1 2272 251.7 2275.1 252.1 2278.2 250.3 2281.3 250.4 2284.3 248.7 2287.8 248.7 2291.2 249.8" stroke="#ff0000" stroke-width="6.2" fill="none"/>
<path d="M461.7 270.2 465.4 273.9 468.3 279.7 471.1 286.9 473.9 279.6 476.7 270.2 479.2 272.6 481.7 277 484.2 279.6 486.7 280.6 489.2 284.3 491.7 285.2 494.2 289.5 496.7 296.3 499.2 301 502.1 270.2 503.4 246.9 506.9 246.4 510.5 247.7 513.3 250.2 516.2 251.4 519.9 241.3 522.7 247.7 525.5 255.2 528.4 260.1 531.2 262.7 534 264.5 536.8 268.3 539.6 270 542.4 270.2 545.3 267.3 548.1 266.4 551.4 247.9 554.6 227.2 557.5 260.8 560.3 274.8 563.1 289.7 566.9 273.9 569.4 282.5 571.9 288.8 574.4 297.2 577.2 288 580 277.7 583.8 254.4 588.4 281.4 593 324.5 596.5 313.4 600 304.4 604.6 276.8 608 257.5 611.5 236 616.1 249.1 619.5 255.2 623 262.9 625.9 255.7 628.8 246.4 631.4 247.9 634.1 252 636.8 253.7 640.3 264.4 643.7 276.8 647.2 299.4 650.6 319.9 655.3 281.4 658.7 271.5 662.2 262.9 664.9 266.6 667.7 267.9 670.5 272.1 673.2 273 676 276.8 679.4 283 682.9 287.6 687.5 235.3 691 211.7 694.4 189.2 699 154.2 703.6 177.7 708.2 216.9 712.9 246.8 717.5 288.3 722.1 298 725.1 292 728.2 282.8 731.3 276.8 734.4 279.4 737.4 279.2 740.5 281.4 743.6 288.5 746.7 292.4 749.7 299.1 752.8 290 755.9 278.9 758.9 269.9 763.5 242.9 767 256.9 770.5 269.9 775.1 301.4 778.1 292.9 781.2 287.7 784.3 279.1 787.2 277.4 790 278.9 792.9 276.5 795.8 276.8 800.4 288.7 803.5 282.4 806.6 273.7 809.6 267.5 813.1 280.9 816.5 293.4 820 282.2 823.5 272.2 826.5 276.1 829.6 277.6 832.7 281.4 835.7 282.6 838.8 280.4 841.9 281.4 844.7 287.7 847.4 292.2 850.2 299.4 852.9 303.6 855.7 310.6 858.6 307.2 861.5 300.7 864.4 298.1 867.2 292.9 870 285.5 872.8 280.1 875.5 271.2 878.3 266 881.1 258.3 884.5 264.6 888 272.2 891 280.9 894.1 286.8 897.2 295.2 900.3 290 903.3 281.8 906.4 276.8 909.2 280 911.9 280.8 914.7 284.8 917.5 284.8 920.2 288.3 923.3 288.6 926.4 285.8 929.4 286 932.5 276 935.6 264.4 938.7 254.4 941.7 264.4 944.8 271.8 947.9 281.4 951 282.5 954 280.7 957.1 281.4 960.6 276.4 964 269.9 968.6 288.3 971.5 314.1 974.4 297.1 977.3 281.4 981.9 201.4 986.5 258.3 989.4 273.1 992.3 286 995.3 297.5 998.4 311.6 1001.5 323.3 1004.9 322.2 1008.4 322.8 1011.8 258.3 1014.5 251.5 1017.2 242 1019.9 235.3 1023.4 231 1026.8 224.5 1029.7 223.4 1032.6 224.4 1035.5 222.5 1038.3 223.3 1041.4 225.2 1044.5 224.5 1047.6 226.1 1052.2 258.3 1054.8 253.7 1057.4 246.6 1059.9 242.8 1062.5 236 1065.4 248.8 1068.3 262.9 1071.4 260.9 1074.4 256.1 1077.5 253.7 1080.2 250.3 1082.9 244.1 1085.6 240.6 1088.3 253.8 1091 263.9 1093.6 276.8 1097.1 272.1 1100.6 265.2 1104 278.5 1107.5 293.4 1110.9 276.6 1114.4 258.3 1115.5 231.4 1118.4 266.8 1121.3 304.4 1124.7 322.3 1128.2 339 1131.1 366.2 1134 394.7 1136.8 361.8 1139.7 327.5 1143.2 309.3 1146.6 292.9 1151.2 276.8 1154.3 270.7 1157.4 262.3 1160.5 256 1163.3 252.4 1166.2 246.9 1169.1 244.1 1172 239.4 1175.1 244.9 1178.1 253.2 1181.2 258.3 1184 254.4 1186.7 253.2 1189.5 248.8 1192.3 247.6 1195 244 1197.8 245.9 1200.6 250.7 1203.3 251.9 1206.1 256.2 1208.8 258.3 1211.5 259.3 1214.2 262.3 1216.9 262.3 1219.6 265.4 1222.3 264.8 1225 267.5 1227.9 272.9 1230.7 275.8 1233.6 282.4 1236.5 286 1239.4 278.2 1242.3 273.3 1245.1 264.8 1248 258.3 1251.1 253.2 1254.2 245.9 1257.2 240.6 1260.3 262.9 1263.4 282.2 1266.5 304.4 1268.8 317.5 1273.4 235.3 1276.2 206.1 1279.1 174.9 1282 192.7 1284.9 212.2 1288.3 241.5 1291.8 269.9 1294.9 277.8 1297.9 287.5 1301 295.2 1303.9 296.2 1306.8 300 1309.7 301 1312.5 303.7 1315.3 297.3 1318.1 287.8 1320.8 282 1323.6 272.5 1326.4 265.9 1331 289.9 1334.4 286.8 1337.9 281.4 1340.6 277.1 1343.4 276 1346.2 271 1348.9 269.7 1351.7 265.2 1354.5 261.8 1357.2 261.4 1360 258.3 1363.1 263.5 1366.1 269.9 1370.7 232.5 1375.3 281.4 1378.4 299.4 1381.5 315.7 1384.6 333.7 1388 342.4 1391.5 349.8 1396.1 292.9 1399.5 225.6 1402.4 232.1 1405.3 239.9 1408.8 249.9 1412.2 258.3 1415.1 260.4 1418 265.1 1420.9 266 1423.7 269.9 1426.5 273.3 1429.3 275 1432 279.4 1434.8 280.3 1437.6 284.1 1441 278.1 1444.5 269.9 1447.9 257.2 1451.4 246.4 1454.5 262.7 1457.5 276.4 1460.6 292.2 1465.2 269.9 1468.7 260.3 1472.1 248.7 1475 249.9 1477.9 254 1480.8 255.3 1483.6 258.3 1486.5 267.4 1489.4 273.5 1492.3 282.9 1495.2 289.9 1498.2 277.2 1501.3 266.1 1504.4 253.3 1507.8 260.9 1511.3 269.9 1514.1 267.9 1516.8 263 1519.6 261.4 1522.4 256.3 1525.1 254.4 1528.6 262.9 1532 269.9 1535.5 251.2 1538.9 233.7 1542.4 249.5 1545.9 262.9 1549.3 265.6 1552.8 269.9 1555.5 266.9 1558.1 262.3 1560.8 259.8 1563.5 254.9 1566.2 252.7 1568.9 248.7 1571.8 248.2 1574.7 250.1 1577.5 248.6 1580.4 249.8 1583.3 252.6 1586.2 252.7 1589.1 255.8 1591.9 256.7 1596.5 276.8 1599.6 272.2 1602.7 269.7 1605.8 265.2 1608.4 265 1610.9 267.2 1613.5 265.9 1616.1 268.4 1618.7 267.5 1621.3 269.8 1623.9 268.3 1626.5 269.9 1629 270.7 1631.4 268.7 1633.9 270.9 1636.4 269.1 1638.8 271 1641.3 269.3 1643.8 270.4 1646.2 268.9 1648.7 270.9 1651.2 268.9 1653.7 271 1656.1 268.9 1658.6 270.7 1661.1 268.7 1663.5 270.9 1666 268.9 1668.5 270.6 1670.9 269.2 1673.4 270.9 1675.9 268.9 1678.3 270.9 1680.8 269.3 1683.3 270.8 1685.7 268.9 1688.2 270.6 1690.7 269 1693.2 271 1695.6 269.9 1698.4 275.7 1701.2 284.5 1703.9 289.5 1706.7 298 1709.4 303.7 1712 281.4 1714.6 261.1 1717.2 237.6 1719.8 216.4 1722.5 223.4 1725.2 228.4 1727.9 235.3 1731 242.5 1734 246.4 1737.1 253.7 1741.7 292.2 1744.5 293.5 1747.2 292.1 1750 292.9 1753.8 301.4 1758.4 269.9 1761.3 254.8 1764.2 238.3 1766.9 252 1769.6 267.9 1772.3 281.4 1775.7 309.2 1779.2 338.3 1782.6 322.3 1786.1 304.4 1789.2 299.9 1792.2 297.7 1795.3 292.9 1798.8 274.7 1802.2 258.3 1806.8 238.3 1809.7 241 1812.6 240.9 1815.5 244 1818.3 245.2 1821.4 248.9 1824.5 254.6 1827.6 258.3 1832.2 269.9 1836.8 189.2 1841.4 258.3 1846 287.6 1850.6 258.3 1852.9 189.2 1856.4 258.3 1859.8 281.4 1862.7 307.1 1865.6 334.8 1869 258.3 1871.3 189.2 1874.8 258.3 1878.2 307.2 1881.7 297.5 1885.2 286 1888.6 280.7 1892.1 276.8 1895.1 277.5 1898.2 276 1901.3 276.8 1904.1 277.3 1906.8 275.6 1909.6 277.8 1912.4 275.7 1915.1 276.8 1918.2 277.3 1921.3 276.1 1924.3 276.8 1928.9 287.6 1932 286.1 1935.1 282.5 1938.2 281.4 1940.7 285.2 1943.3 286.5 1945.9 291.2 1948.5 293.4 1951.4 267.6 1954.3 242.9 1957.7 258.1 1961.2 272.2 1964.3 274.7 1967.3 279 1970.4 281.4 1973.5 283.9 1976.6 289.7 1979.6 292.2 1982.4 288.2 1985.2 285.7 1987.9 280.9 1990.7 278.9 1993.5 274.5 1996.2 269.8 1999 267.5 2001.8 261.4 2004.5 259.2 2007.3 254.4 2010.4 258.8 2013.4 265.6 2016.5 269.9 2019.3 266.6 2022 265.2 2024.8 261.5 2027.6 260.3 2030.3 256.7 2033.4 265.7 2036.5 277.1 2039.5 286.4 2042.6 275.9 2045.7 268.3 2048.8 258.3 2051.8 265 2054.9 274.7 2058 281.4 2060.7 279.5 2063.5 279.5 2066.3 276.7 2069 276.3 2071.8 274.5 2074.7 280 2077.6 287.9 2080.4 292.3 2083.3 299.1 2086.8 274 2090.2 247.5 2093.7 263.6 2097.1 281.4 2099.9 295.9 2102.7 307.7 2105.4 323.4 2108.2 335.5 2111 349.8 2114.4 295 2117.9 238.3 2121.3 233.2 2124.8 229.1 2128.2 251.3 2131.7 272.2 2134.5 258.5 2137.2 247.4 2140 233.7 2143 240.5 2146.1 249.1 2148.8 248 2151.6 245.1 2154.4 244.7 2157.1 241.8 2159.9 240.6 2163.4 262.9 2166.8 283 2170.3 267.7 2173.7 254.4 2178.3 274.5 2181.4 264.5 2184.5 252.4 2187.6 242.9 2192.2 274.9 2195.6 267.2 2199.1 258.3 2202 240 2204.8 223.3 2207.7 253 2210.6 281.4 2215.2 364.8 2218.7 345.6 2222.1 327.5 2225.6 305.2 2229 281.4 2232.1 271.2 2235.2 263.8 2238.2 253.3 2241.1 250 2244 248.8 2246.9 244.9 2249.8 242.9 2253.2 246.3 2256.7 247.5 2259.8 250.2 2262.8 255.4 2265.9 258.3 2270.5 265.2 2273.6 261.8 2276.7 261.6 2279.7 258.3 2282.6 256 2285.5 256.7 2288.4 253.9 2291.2 253.3L2291.2 258.3 2288.4 257 2285.5 261.2 2282.6 263.8 2279.7 265.2 2276.7 284 2273.6 285.5 2270.5 269.9 2265.9 280.4 2262.8 276.3 2259.8 265.6 2256.7 272.3 2253.2 286.4 2249.8 247.5 2246.9 253 2244 258.6 2241.1 264.1 2238.2 262 2235.2 257.7 2232.1 257.9 2229 262.7 2225.6 268.1 2222.1 275.6 2218.7 284.2 2215.2 281.6 2210.6 248.7 2207.7 258.3 2204.8 268 2202 277.6 2199.1 276.3 2195.6 271.5 2192.2 265.5 2187.6 256.7 2184.5 263.2 2181.4 269.6 2178.3 276.1 2173.7 271.9 2170.3 272 2166.8 278.6 2163.4 280.6 2159.9 273.4 2157.1 267.6 2154.4 261.9 2151.6 264.1 2148.8 274.4 2146.1 271.2 2143 264.8 2140 258.3 2137.2 260.6 2134.5 262.9 2131.7 265.2 2128.2 242.4 2124.8 241.7 2121.3 252 2117.9 262.3 2114.4 272.6 2111 272.4 2108.2 268 2105.4 263.5 2102.7 263.1 2099.9 266.8 2097.1 270.4 2093.7 275 2090.2 279.5 2086.8 277 2083.3 274.5 2080.4 272.2 2077.6 269.9 2074.7 267.5 2071.8 265.2 2069 263.7 2066.3 262.2 2063.5 260.7 2060.7 261 2058 262.2 2054.9 263.6 2051.8 264.9 2048.8 266.8 2045.7 268.8 2042.6 271.3 2039.5 274.1 2036.5 277 2033.4 273.6 2030.3 263.9 2027.6 257.4 2024.8 261.2 2022 265 2019.3 268.8 2016.5 272.6 2013.4 266.9 2010.4 261.3 2007.3 255.6 2004.5 258.1 2001.8 260.5 1999 263 1996.2 265.5 1993.5 269.5 1990.7 273.9 1987.9 278.5 1985.2 283.8 1982.4 289.1 1979.6 290 1976.6 284 1973.5 278.1 1970.4 272.2 1967.3 261.2 1964.3 250.2 1961.2 252.1 1957.7 259 1954.3 263.5 1951.4 266.1 1948.5 268.8 1945.9 271.9 1943.3 275.5 1940.7 279.1 1938.2 275.8 1935.1 271.6 1932 269.6 1928.9 267.5 1924.3 268 1921.3 270.8 1918.2 269.8 1915.1 264.9 1912.4 262.2 1909.6 267.5 1906.8 272.7 1904.1 271.6 1901.3 267.3 1898.2 262.6 1895.1 262.8 1892.1 268.2 1888.6 275.7 1885.2 286.4 1881.7 279.3 1878.2 272.2 1874.8 255.3 1871.3 252.5 1869 269.5 1865.6 265.2 1862.7 270.3 1859.8 275.4 1856.4 277.1 1852.9 270 1850.6 265.2 1846 260.4 1841.4 261.5 1836.8 280.7 1832.2 278.7 1827.6 276.8 1824.5 279 1821.4 281.3 1818.3 276.3 1815.5 269.4 1812.6 262.7 1809.7 256.4 1806.8 250 1802.2 260.2 1798.8 273 1795.3 273 1792.2 267.4 1789.2 263.3 1786.1 269.7 1782.6 277 1779.2 279.7 1775.7 273.4 1772.3 267.1 1769.6 262.5 1766.9 259.3 1764.2 256.2 1761.3 252.8 1758.4 258.6 1753.8 271.5 1750 265.2 1747.2 263.9 1744.5 262.6 1741.7 261.3 1737.1 265.6 1734 268.4 1731 271.7 1727.9 275.4 1725.2 278.6 1722.5 269.6 1719.8 255.8 1717.2 260.3 1714.6 279.2 1712 298.2 1709.4 292.7 1706.7 283.6 1703.9 266.6 1701.2 249.2 1698.4 255.7 1695.6 262.2 1693.2 267.7 1690.7 270.3 1688.2 272.9 1685.7 275.4 1683.3 278 1680.8 278.5 1678.3 276 1675.9 273.4 1673.4 270.9 1670.9 268.3 1668.5 265.8 1666 268.7 1663.5 272.9 1661.1 277.2 1658.6 270.7 1656.1 264.2 1653.7 259.7 1651.2 263 1648.7 266.3 1646.2 269.6 1643.8 272.9 1641.3 274.5 1638.8 274.5 1636.4 274.5 1633.9 274.5 1631.4 270.9 1629 266.5 1626.5 262 1623.9 258.6 1621.3 264.8 1618.7 271.1 1616.1 277.4 1613.5 282 1610.9 272.8 1608.4 263.6 1605.8 254.4 1602.7 258.5 1599.6 262.6 1596.5 266.8 1591.9 265.6 1589.1 262.3 1586.2 267.1 1583.3 272 1580.4 276.8 1577.5 279.9 1574.7 276.1 1571.8 272.2 1568.9 268.3 1566.2 265.4 1563.5 266.8 1560.8 268.1 1558.1 269.5 1555.5 272.1 1552.8 275.3 1549.3 279.3 1545.9 271.2 1542.4 256.9 1538.9 256.6 1535.5 263.3 1532 270 1528.6 272.7 1525.1 267.2 1522.4 265.5 1519.6 276.4 1516.8 287.4 1514.1 285.4 1511.3 276.9 1507.8 269.1 1504.4 266.8 1501.3 267.2 1498.2 275.1 1495.2 283 1492.3 273.5 1489.4 264 1486.5 262.9 1483.6 267.5 1480.8 272 1477.9 276.6 1475 275.7 1472.1 271.2 1468.7 268.9 1465.2 273 1460.6 278.4 1457.5 269.6 1454.5 263.3 1451.4 259.6 1447.9 260.3 1444.5 271.2 1441 277.3 1437.6 274.2 1434.8 271.2 1432 265.5 1429.3 259.8 1426.5 260.5 1423.7 264.3 1420.9 268.5 1418 273 1415.1 277.5 1412.2 273 1408.8 264.8 1405.3 256.7 1402.4 267.2 1399.5 277.6 1396.1 274 1391.5 258.3 1388 263.9 1384.6 278.2 1381.5 277.6 1378.4 268.9 1375.3 260.2 1370.7 263.6 1366.1 270.4 1363.1 277.2 1360 265.2 1357.2 267.7 1354.5 270.2 1351.7 272.7 1348.9 275.1 1346.2 277.8 1343.4 281.1 1340.6 284.3 1337.9 287.6 1334.4 272.1 1331 256.7 1326.4 247.8 1323.6 249.6 1320.8 251.3 1318.1 253.1 1315.3 260.4 1312.5 284.5 1309.7 286.6 1306.8 273.5 1303.9 272.7 1301 280.1 1297.9 284.4 1294.9 278.3 1291.8 272.2 1288.3 251.1 1284.9 240.2 1282 247.7 1279.1 255.3 1276.2 280.5 1273.4 296.9 1268.8 274.5 1266.5 264.3 1263.4 250.8 1260.3 248.2 1257.2 256.5 1254.2 264.8 1251.1 273.1 1248 281.4 1245.1 284.8 1242.3 288.3 1239.4 288.5 1236.5 275.6 1233.6 264.6 1230.7 261.3 1227.9 257.9 1225 254.6 1222.3 259.6 1219.6 270.7 1216.9 281.8 1214.2 275.5 1211.5 269.2 1208.8 262.9 1206.1 268.2 1203.3 273.4 1200.6 271.4 1197.8 262 1195 252.6 1192.3 252.9 1189.5 260.2 1186.7 267.4 1184 274.3 1181.2 280.9 1178.1 282.8 1175.1 268.4 1172 254.1 1169.1 259.3 1166.2 269.4 1163.3 268.2 1160.5 267.1 1157.4 265.9 1154.3 265.9 1151.2 267.1 1146.6 268.9 1143.2 272.1 1139.7 278.7 1136.8 284.2 1134 289.7 1131.1 258.5 1128.2 265.2 1124.7 273.3 1121.3 281.4 1118.4 275.6 1115.5 269.9 1114.4 267.5 1110.9 267.7 1107.5 281.8 1104 275.8 1100.6 269.9 1097.1 273.3 1093.6 276.8 1091 266.2 1088.3 255.7 1085.6 245.2 1082.9 255.9 1080.2 266.6 1077.5 277.3 1074.4 289.5 1071.4 284.8 1068.3 277.6 1065.4 268.8 1062.5 251.9 1059.9 251.2 1057.4 262.1 1054.8 273 1052.2 283.9 1047.6 271.1 1044.5 265.2 1041.4 265.2 1038.3 273.7 1035.5 284.3 1032.6 281.7 1029.7 275.8 1026.8 269.9 1023.4 253.7 1019.9 246.9 1017.2 256.3 1014.5 266.3 1011.8 278.1 1008.4 293.4 1004.9 288.4 1001.5 283.4 998.4 279 995.3 274.8 992.3 271 989.4 267.4 986.5 264 981.9 259.1 977.3 260.2 974.4 262.2 971.5 264.2 968.6 253.1 964 269.9 960.6 263.3 957.1 256.7 954 261.9 951 267 947.9 272.2 944.8 269.9 941.7 267.5 938.7 265.2 935.6 269.1 932.5 272.9 929.4 276.8 926.4 279.6 923.3 282.4 920.2 285.3 917.5 271.1 914.7 256.9 911.9 249.8 909.2 249.8 906.4 249.8 903.3 259.7 900.3 269.7 897.2 269.9 894.1 266.8 891 263.7 888 261.1 884.5 258.3 881.1 255.6 878.3 257.3 875.5 259.1 872.8 260.9 870 262.6 867.2 287.6 864.4 280.2 861.5 272.8 858.6 247.9 855.7 308.3 852.9 280.1 850.2 261.8 847.4 263.4 844.7 265 841.9 263.2 838.8 260.4 835.7 260.3 832.7 262.9 829.6 262.9 826.5 262.9 823.5 262.9 820 260.6 816.5 258.3 813.1 261.9 809.6 277.3 806.6 285.6 803.5 277.7 800.4 269.9 795.8 260.6 792.9 258.7 790 256.7 787.2 254.8 784.3 264.4 781.2 275.4 778.1 279 775.1 282.6 770.5 273 767 256.8 763.5 245.2 758.9 265.2 755.9 278.6 752.8 282.9 749.7 278.1 746.7 272.5 743.6 264.6 740.5 256.7 737.4 260.2 734.4 263.7 731.3 267.2 728.2 271.9 725.1 280.1 722.1 288.3 717.5 287.8 712.9 274.5 708.2 274.5 703.6 258.3 699 253.1 694.4 279.5 691 308.3 687.5 289.4 682.9 256 679.4 254.8 676 253.7 673.2 259.2 670.5 269.4 667.7 268.3 664.9 255.9 662.2 252 658.7 261.9 655.3 291.1 650.6 271.6 647.2 257 643.7 258 640.3 266.9 636.8 268 634.1 265.9 631.4 267.4 628.8 270.5 625.9 273.8 623 274.2 619.5 273.9 616.1 263.5 611.5 254.7 608 256.9 604.6 259 600 261.6 596.5 271.2 593 284.5 588.4 272.2 583.8 264.5 580 272.1 577.2 261.6 574.4 270.2 571.9 280.5 569.4 273.8 566.9 267 563.1 262.8 560.3 264.2 557.5 265.5 554.6 268.9 551.4 277.4 548.1 286 545.3 271.1 542.4 256.3 539.6 258.5 536.8 260.8 534 263.1 531.2 265.3 528.4 267.6 525.5 272.9 522.7 279.9 519.9 275.5 516.2 262.1 513.3 256.6 510.5 260.5 506.9 265.5 503.4 271 502.1 273.4 499.2 278.5 496.7 277.9 494.2 277.3 491.7 276.7 489.2 276.1 486.7 272.3 484.2 265.3 481.7 261.1 479.2 265.4 476.7 257.9 473.9 245 471.1 250.9 468.3 256.8 465.4 262.7 461.7 261.7Z" fill="#0000ff"/>
<path d="M461.7 270.2 465.4 273.9 468.3 279.7 471.1 286.9 473.9 279.6 476.7 270.2 479.2 272.6 481.7 277 484.2 279.6 486.7 280.6 489.2 284.3 491.7 285.2 494.2 289.5 496.7 296.3 499.2 301 502.1 270.2 503.4 246.9 506.9 246.4 510.5 247.7 513.3 250.2 516.2 251.4 519.9 241.3 522.7 247.7 525.5 255.2 528.4 260.1 531.2 262.7 534 264.5 536.8 268.3 539.6 270 542.4 270.2 545.3 267.3 548.1 266.4 551.4 247.9 554.6 227.2 557.5 260.8 560.3 274.8 563.1 289.7 566.9 273.9 569.4 282.5 571.9 288.8 574.4 297.2 577.2 288 580 277.7 583.8 254.4 588.4 281.4 593 324.5 596.5 313.4 600 304.4 604.6 276.8 608 257.5 611.5 236 616.1 249.1 619.5 255.2 623 262.9 625.9 255.7 628.8 246.4 631.4 247.9 634.1 252 636.8 253.7 640.3 264.4 643.7 276.8 647.2 299.4 650.6 319.9 655.3 281.4 658.7 271.5 662.2 262.9 664.9 266.6 667.7 267.9 670.5 272.1 673.2 273 676 276.8 679.4 283 682.9 287.6 687.5 235.3 691 211.7 694.4 189.2 699 154.2 703.6 177.7 708.2 216.9 712.9 246.8 717.5 288.3 722.1 298 725.1 292 728.2 282.8 731.3 276.8 734.4 279.4 737.4 279.2 740.5 281.4 743.6 288.5 746.7 292.4 749.7 299.1 752.8 290 755.9 278.9 758.9 269.9 763.5 242.9 767 256.9 770.5 269.9 775.1 301.4 778.1 292.9 781.2 287.7 784.3 279.1 787.2 277.4 790 278.9 792.9 276.5 795.8 276.8 800.4 288.7 803.5 282.4 806.6 273.7 809.6 267.5 813.1 280.9 816.5 293.4 820 282.2 823.5 272.2 826.5 276.1 829.6 277.6 832.7 281.4 835.7 282.6 838.8 280.4 841.9 281.4 844.7 287.7 847.4 292.2 850.2 299.4 852.9 303.6 855.7 310.6 858.6 307.2 861.5 300.7 864.4 298.1 867.2 292.9 870 285.5 872.8 280.1 875.5 271.2 878.3 266 881.1 258.3 884.5 264.6 888 272.2 891 280.9 894.1 286.8 897.2 295.2 900.3 290 903.3 281.8 906.4 276.8 909.2 280 911.9 280.8 914.7 284.8 917.5 284.8 920.2 288.3 923.3 288.6 926.4 285.8 929.4 286 932.5 276 935.6 264.4 938.7 254.4 941.7 264.4 944.8 271.8 947.9 281.4 951 282.5 954 280.7 957.1 281.4 960.6 276.4 964 269.9 968.6 288.3 971.5 314.1 974.4 297.1 977.3 281.4 981.9 201.4 986.5 258.3 989.4 273.1 992.3 286 995.3 297.5 998.4 311.6 1001.5 323.3 1004.9 322.2 1008.4 322.8 1011.8 258.3 1014.5 251.5 1017.2 242 1019.9 235.3 1023.4 231 1026.8 224.5 1029.7 223.4 1032.6 224.4 1035.5 222.5 1038.3 223.3 1041.4 225.2 1044.5 224.5 1047.6 226.1 1052.2 258.3 1054.8 253.7 1057.4 246.6 1059.9 242.8 1062.5 236 1065.4 248.8 1068.3 262.9 1071.4 260.9 1074.4 256.1 1077.5 253.7 1080.2 250.3 1082.9 244.1 1085.6 240.6 1088.3 253.8 1091 263.9 1093.6 276.8 1097.1 272.1 1100.6 265.2 1104 278.5 1107.5 293.4 1110.9 276.6 1114.4 258.3 1115.5 231.4 1118.4 266.8 1121.3 304.4 1124.7 322.3 1128.2 339 1131.1 366.2 1134 394.7 1136.8 361.8 1139.7 327.5 1143.2 309.3 1146.6 292.9 1151.2 276.8 1154.3 270.7 1157.4 262.3 1160.5 256 1163.3 252.4 1166.2 246.9 1169.1 244.1 1172 239.4 1175.1 244.9 1178.1 253.2 1181.2 258.3 1184 254.4 1186.7 253.2 1189.5 248.8 1192.3 247.6 1195 244 1197.8 245.9 1200.6 250.7 1203.3 251.9 1206.1 256.2 1208.8 258.3 1211.5 259.3 1214.2 262.3 1216.9 262.3 1219.6 265.4 1222.3 264.8 1225 267.5 1227.9 272.9 1230.7 275.8 1233.6 282.4 1236.5 286 1239.4 278.2 1242.3 273.3 1245.1 264.8 1248 258.3 1251.1 253.2 1254.2 245.9 1257.2 240.6 1260.3 262.9 1263.4 282.2 1266.5 304.4 1268.8 317.5 1273.4 235.3 1276.2 206.1 1279.1 174.9 1282 192.7 1284.9 212.2 1288.3 241.5 1291.8 269.9 1294.9 277.8 1297.9 287.5 1301 295.2 1303.9 296.2 1306.8 300 1309.7 301 1312.5 303.7 1315.3 297.3 1318.1 287.8 1320.8 282 1323.6 272.5 1326.4 265.9 1331 289.9 1334.4 286.8 1337.9 281.4 1340.6 277.1 1343.4 276 1346.2 271 1348.9 269.7 1351.7 265.2 1354.5 261.8 1357.2 261.4 1360 258.3 1363.1 263.5 1366.1 269.9 1370.7 232.5 1375.3 281.4 1378.4 299.4 1381.5 315.7 1384.6 333.7 1388 342.4 1391.5 349.8 1396.1 292.9 1399.5 225.6 1402.4 232.1 1405.3 239.9 1408.8 249.9 1412.2 258.3 1415.1 260.4 1418 265.1 1420.9 266 1423.7 269.9 1426.5 273.3 1429.3 275 1432 279.4 1434.8 280.3 1437.6 284.1 1441 278.1 1444.5 269.9 1447.9 257.2 1451.4 246.4 1454.5 262.7 1457.5 276.4 1460.6 292.2 1465.2 269.9 1468.7 260.3 1472.1 248.7 1475 249.9 1477.9 254 1480.8 255.3 1483.6 258.3 1486.5 267.4 1489.4 273.5 1492.3 282.9 1495.2 289.9 1498.2 277.2 1501.3 266.1 1504.4 253.3 1507.8 260.9 1511.3 269.9 1514.1 267.9 1516.8 263 1519.6 261.4 1522.4 256.3 1525.1 254.4 1528.6 262.9 1532 269.9 1535.5 251.2 1538.9 233.7 1542.4 249.5 1545.9 262.9 1549.3 265.6 1552.8 269.9 1555.5 266.9 1558.1 262.3 1560.8 259.8 1563.5 254.9 1566.2 252.7 1568.9 248.7 1571.8 248.2 1574.7 250.1 1577.5 248.6 1580.4 249.8 1583.3 252.6 1586.2 252.7 1589.1 255.8 1591.9 256.7 1596.5 276.8 1599.6 272.2 1602.7 269.7 1605.8 265.2 1608.4 265 1610.9 267.2 1613.5 265.9 1616.1 268.4 1618.7 267.5 1621.3 269.8 1623.9 268.3 1626.5 269.9 1629 270.7 1631.4 268.7 1633.9 270.9 1636.4 269.1 1638.8 271 1641.3 269.3 1643.8 270.4 1646.2 268.9 1648.7 270.9 1651.2 268.9 1653.7 271 1656.1 268.9 1658.6 270.7 1661.1 268.7 1663.5 270.9 1666 268.9 1668.5 270.6 1670.9 269.2 1673.4 270.9 1675.9 268.9 1678.3 270.9 1680.8 269.3 1683.3 270.8 1685.7 268.9 1688.2 270.6 1690.7 269 1693.2 271 1695.6 269.9 1698.4 275.7 1701.2 284.5 1703.9 289.5 1706.7 298 1709.4 303.7 1712 281.4 1714.6 261.1 1717.2 237.6 1719.8 216.4 1722.5 223.4 1725.2 228.4 1727.9 235.3 1731 242.5 1734 246.4 1737.1 253.7 1741.7 292.2 1744.5 293.5 1747.2 292.1 1750 292.9 1753.8 301.4 1758.4 269.9 1761.3 254.8 1764.2 238.3 1766.9 252 1769.6 267.9 1772.3 281.4 1775.7 309.2 1779.2 338.3 1782.6 322.3 1786.1 304.4 1789.2 299.9 1792.2 297.7 1795.3 292.9 1798.8 274.7 1802.2 258.3 1806.8 238.3 1809.7 241 1812.6 240.9 1815.5 244 1818.3 245.2 1821.4 248.9 1824.5 254.6 1827.6 258.3 1832.2 269.9 1836.8 189.2 1841.4 258.3 1846 287.6 1850.6 258.3 1852.9 189.2 1856.4 258.3 1859.8 281.4 1862.7 307.1 1865.6 334.8 1869 258.3 1871.3 189.2 1874.8 258.3 1878.2 307.2 1881.7 297.5 1885.2 286 1888.6 280.7 1892.1 276.8 1895.1 277.5 1898.2 276 1901.3 276.8 1904.1 277.3 1906.8 275.6 1909.6 277.8 1912.4 275.7 1915.1 276.8 1918.2 277.3 1921.3 276.1 1924.3 276.8 1928.9 287.6 1932 286.1 1935.1 282.5 1938.2 281.4 1940.7 285.2 1943.3 286.5 1945.9 291.2 1948.5 293.4 1951.4 267.6 1954.3 242.9 1957.7 258.1 1961.2 272.2 1964.3 274.7 1967.3 279 1970.4 281.4 1973.5 283.9 1976.6 289.7 1979.6 292.2 1982.4 288.2 1985.2 285.7 1987.9 280.9 1990.7 278.9 1993.5 274.5 1996.2 269.8 1999 267.5 2001.8 261.4 2004.5 259.2 2007.3 254.4 2010.4 258.8 2013.4 265.6 2016.5 269.9 2019.3 266.6 2022 265.2 2024.8 261.5 2027.6 260.3 2030.3 256.7 2033.4 265.7 2036.5 277.1 2039.5 286.4 2042.6 275.9 2045.7 268.3 2048.8 258.3 2051.8 265 2054.9 274.7 2058 281.4 2060.7 279.5 2063.5 279.5 2066.3 276.7 2069 276.3 2071.8 274.5 2074.7 280 2077.6 287.9 2080.4 292.3 2083.3 299.1 2086.8 274 2090.2 247.5 2093.7 263.6 2097.1 281.4 2099.9 295.9 2102.7 307.7 2105.4 323.4 2108.2 335.5 2111 349.8 2114.4 295 2117.9 238.3 2121.3 233.2 2124.8 229.1 2128.2 251.3 2131.7 272.2 2134.5 258.5 2137.2 247.4 2140 233.7 2143 240.5 2146.1 249.1 2148.8 248 2151.6 245.1 2154.4 244.7 2157.1 241.8 2159.9 240.6 2163.4 262.9 2166.8 283 2170.3 267.7 2173.7 254.4 2178.3 274.5 2181.4 264.5 2184.5 252.4 2187.6 242.9 2192.2 274.9 2195.6 267.2 2199.1 258.3 2202 240 2204.8 223.3 2207.7 253 2210.6 281.4 2215.2 364.8 2218.7 345.6 2222.1 327.5 2225.6 305.2 2229 281.4 2232.1 271.2 2235.2 263.8 2238.2 253.3 2241.1 250 2244 248.8 2246.9 244.9 2249.8 242.9 2253.2 246.3 2256.7 247.5 2259.8 250.2 2262.8 255.4 2265.9 258.3 2270.5 265.2 2273.6 261.8 2276.7 261.6 2279.7 258.3 2282.6 256 2285.5 256.7 2288.4 253.9 2291.2 253.3" stroke="#0000ff" stroke-width="6.2" fill="none"/>
<path d="M182.8 210.4 184.8 210.4 186.8 210.4 188.8 210.4 190.8 210.4 192.8 242.2 194.8 242.2 196.8 242.2 198.8 254.9 200.8 262.8 202.8 262.8 204.8 262.8 206.8 262.8 208.8 262.8 210.8 267.3 212.8 264.6 214.8 260.4 216.8 258.4 218.8 258.4 220.8 258.4 222.8 258.4 224.8 258.8 226.8 260.8 228.8 258.5 230.8 258.5 232.8 258.5 234.8 258.5 236.8 258.5 238.8 260.9 240.8 263.9 242.8 269 244.8 274 246.8 271.3 248.8 269.3 250.8 268.1 252.8 266.9 254.8 265.7 256.8 265.3 258.8 264.9 260.8 264.5 262.8 264.1 264.8 263.9 266.8 263.9 268.8 263.9 270.8 263.9 272.8 264.1 274.8 265 276.8 265.9 278.8 269.5 280.8 276.1 282.8 276.6 284.8 273.1 286.8 269.5 288.8 266 290.8 262.9 292.8 262.8 294.8 262.8 296.8 262.7 298.8 262.7 300.8 262.7 302.8 262.7 304.8 262.7 306.8 264.6 308.8 269.8 310.8 264.2 312.8 264.2 314.8 264.2 316.8 264.2 318.8 263 320.8 263 322.8 263 324.8 263 326.8 263 328.8 269.2 330.8 260.9 332.8 254.3 334.8 252.4 336.8 252.4 338.8 252.4 340.8 252.4 342.8 252.4 344.8 261.1 346.8 274 348.8 269.1 350.8 264.4 352.8 262.1 354.8 259.9 356.8 257.7 358.8 257.7 360.8 257.7 362.8 257.7 364.8 257.7 366.8 261.9 368.8 267.8 370.8 267.1 372.8 265.9 374.8 265.2 376.8 264.5 378.8 263.8 380.8 263.8 382.8 263.8 384.8 263.8 386.8 263.8 388.8 266.9 390.8 261.2 392.8 259.2 394.8 257.2 396.8 255.2 398.8 253.2 400.8 253.2 402.8 253.2 404.8 253.2 406.8 253.2 408.8 257.6 410.8 261.4 412.8 243 414.8 233.4 416.8 223.9 418.8 223.9 420.8 223.9 422.8 223.9 424.8 223.9 426.8 233.5 428.8 249.5 430.8 265.7 432.8 281.9 434.8 277.3 436.8 271.6 438.8 265.9 440.8 265.9 442.8 265.9 444.8 265.9 446.8 265.9 448.8 268.8 450.8 272.1 452.8 264.9 454.8 261 456.8 261 458.8 261 460.8 261 462.8 259.8 464.8 255.6 466.8 251.5 468.8 247.3 470.8 245.2 472.8 245.2 474.8 245.2 476.8 245.2 478.8 249.2 480.8 258.3 482.8 260.9 484.8 260.9 486.8 261.4 488.8 267 490.8 272.6 492.8 276 494.8 276.5 496.8 275.6 498.8 272 500.8 268.4 502.8 265.6 504.8 262.9 506.8 260.1 508.8 257.4 510.8 256 512.8 256 514.8 256 516.8 256 518.8 257.3 520.8 264.4 522.8 269.8 524.8 267.2 526.8 265.6 528.8 264 530.8 262.4 532.8 260.8 534.8 259.2 536.8 257.6 538.8 256.8 540.8 256.8 542.8 256.8 544.8 256.8 546.8 258.3 548.8 268.8 550.8 268.4 552.8 265.8 554.8 264.9 556.8 263.9 558.8 263 560.8 262 562.8 262 564.8 262 566.8 262 568.8 262 570.8 266.9 572.8 260.3 574.8 260.3 576.8 260.3 578.8 260.3 580.8 260.3 582.8 263.2 584.8 263.2 586.8 263.2 588.8 263.2 590.8 267.9 592.8 268.9 594.8 262.3 596.8 261.1 598.8 260 600.8 258.9 602.8 257.6 604.8 256.4 606.8 255.1 608.8 253.9 610.8 253.4 612.8 253.4 614.8 253.4 616.8 253.4 618.8 257.9 620.8 266.8 622.8 272.7 624.8 270.4 626.8 268.2 628.8 265.9 630.8 265.6 632.8 265.6 634.8 265.6 636.8 265.5 638.8 260.4 640.8 255.2 642.8 252.7 644.8 252.7 646.8 252.7 648.8 252.7 650.8 255.4 652.8 263.9 654.8 261.6 656.8 255.9 658.8 250.1 660.8 250.1 662.8 250.1 664.8 250.1 666.8 250.1 668.8 255.4 670.8 253.3 672.8 253.3 674.8 253.3 676.8 253.3 678.8 253.3 680.8 253.9 682.8 254.6 684.8 255.3 686.8 256 688.8 273.3 690.8 276.2 692.8 263.8 694.8 254.1 696.8 249.3 698.8 249.3 700.8 249.3 702.8 249.3 704.8 249.5 706.8 255.8 708.8 262.4 710.8 269.4 712.8 274.5 714.8 274.5 716.8 274.5 718.8 280.1 720.8 281 722.8 275.7 724.8 270.3 726.8 267.8 728.8 265.5 730.8 263.2 732.8 260.9 734.8 258.6 736.8 257.5 738.8 257.5 740.8 257.5 742.8 257.5 744.8 257.5 746.8 262.6 748.8 267.8 750.8 272.9 752.8 274.5 754.8 265.8 756.8 257.1 758.8 248.4 760.8 246.1 762.8 246.1 764.8 246.1 766.8 246.1 768.8 249.4 770.8 256.1 772.8 264.2 774.8 274.9 776.8 275.8 778.8 270.8 780.8 262.1 782.8 254.6 784.8 254.6 786.8 254.6 788.8 254.6 790.8 254.6 792.8 255.9 794.8 257.3 796.8 258.6 798.8 260 800.8 262.7 802.8 266.7 804.8 270.9 806.8 272 808.8 263.1 810.8 257.1 812.8 257.1 814.8 257.1 816.8 257.1 818.8 257.1 820.8 258.5 822.8 259.8 824.8 261.2 826.8 262.5 828.8 262.8 830.8 261.1 832.8 259.4 834.8 259.4 836.8 259.4 838.8 259.4 840.8 259.4 842.8 260.4 844.8 262.2 846.8 261.5 848.8 261.5 850.8 261.5 852.8 261.5 854.8 246.5 856.8 246.5 858.8 246.5 860.8 246.5 862.8 250.7 864.8 270.7 866.8 262.1 868.8 260.8 870.8 259.6 872.8 258.3 874.8 257 876.8 255.7 878.8 255.7 880.8 255.7 882.8 255.7 884.8 255.7 886.8 257 888.8 258.6 890.8 260.2 892.8 261.8 894.8 263.5 896.8 265.5 898.8 261.4 900.8 254.9 902.8 249.8 904.8 249.8 906.8 249.8 908.8 249.8 910.8 249.8 912.8 249.8 914.8 249.8 916.8 249.8 918.8 257.5 920.8 267.8 922.8 278 924.8 277.3 926.8 275.1 928.8 272.6 930.8 270.1 932.8 267.6 934.8 265.4 936.8 265.4 938.8 265.4 940.8 265.4 942.8 265.4 944.8 266.9 946.8 267.2 948.8 263.9 950.8 260.5 952.8 257.2 954.8 257.2 956.8 257.2 958.8 257.2 960.8 257.2 962.8 248 964.8 246 966.8 246 968.8 246 970.8 246 972.8 254.8 974.8 259.2 976.8 258 978.8 258 980.8 258 982.8 258 984.8 258 986.8 260.1 988.8 262.2 990.8 264.4 992.8 266.7 994.8 269.2 996.8 271.7 998.8 274.2 1000.8 276.7 1002.8 279.6 1004.8 282.5 1006.8 282.7 1008.8 273.9 1010.8 265.1 1012.8 257.7 1014.8 250.7 1016.8 243.7 1018.8 243.7 1020.8 243.7 1022.8 243.7 1024.8 243.7 1026.8 251.1 1028.8 260.5 1030.8 269.8 1032.8 274 1034.8 272 1036.8 265.2 1038.8 265.2 1040.8 265.2 1042.8 265.2 1044.8 265.2 1046.8 265.2 1048.8 265.2 1050.8 267.3 1052.8 264.4 1054.8 256 1056.8 247.6 1058.8 247.6 1060.8 247.6 1062.8 247.6 1064.8 247.6 1066.8 253.6 1068.8 265.3 1070.8 274.1 1072.8 278.8 1074.8 272.1 1076.8 264.1 1078.8 256.2 1080.8 248.2 1082.8 246.1 1084.8 246.1 1086.8 246.1 1088.8 246.1 1090.8 250.1 1092.8 257.9 1094.8 265.7 1096.8 270.3 1098.8 270.3 1100.8 270.3 1102.8 270.3 1104.8 270.3 1106.8 268.1 1108.8 264 1110.8 264 1112.8 264 1114.8 264 1116.8 264.4 1118.8 268.4 1120.8 272.4 1122.8 268.5 1124.8 263.8 1126.8 259.1 1128.8 256.8 1130.8 256.8 1132.8 256.8 1134.8 256.8 1136.8 273.5 1138.8 272.8 1140.8 269.7 1142.8 268.9 1144.8 268.1 1146.8 267.3 1148.8 266.5 1150.8 265.7 1152.8 265.3 1154.8 265.3 1156.8 265.3 1158.8 265.3 1160.8 265.6 1162.8 266.4 1164.8 261 1166.8 248.7 1168.8 248.7 1170.8 248.7 1172.8 248.7 1174.8 248.7 1176.8 258 1178.8 267.3 1180.8 272.2 1182.8 267.2 1184.8 261.9 1186.8 256.7 1188.8 251.4 1190.8 248.8 1192.8 248.8 1194.8 248.8 1196.8 248.8 1198.8 251.9 1200.8 258.7 1202.8 265.5 1204.8 263 1206.8 263 1208.8 263 1210.8 263 1212.8 263 1214.8 267.6 1216.8 265.7 1218.8 257.4 1220.8 253.3 1222.8 253.3 1224.8 253.3 1226.8 253.3 1228.8 254.4 1230.8 256.7 1232.8 259 1234.8 261.3 1236.8 263.7 1238.8 268 1240.8 277 1242.8 282.8 1244.8 279.2 1246.8 273.8 1248.8 268.4 1250.8 263 1252.8 257.6 1254.8 252.2 1256.8 246.8 1258.8 244.1 1260.8 244.1 1262.8 244.1 1264.8 244.1 1266.8 248.3 1268.8 257.1 1270.8 265.9 1272.8 273.1 1274.8 256.1 1276.8 250.9 1278.8 245.6 1280.8 240.3 1282.8 237.7 1284.8 237.7 1286.8 237.7 1288.8 237.7 1290.8 241.9 1292.8 254 1294.8 266.2 1296.8 274.2 1298.8 275.4 1300.8 270.3 1302.8 269.1 1304.8 269.1 1306.8 269.1 1308.8 269.1 1310.8 264.6 1312.8 253.9 1314.8 252.6 1316.8 251.3 1318.8 250.1 1320.8 248.8 1322.8 247.5 1324.8 246.9 1326.8 246.9 1328.8 246.9 1330.8 246.9 1332.8 247 1334.8 256 1336.8 264.9 1338.8 273.9 1340.8 279.4 1342.8 277.1 1344.8 275.2 1346.8 273.4 1348.8 271.7 1350.8 269.9 1352.8 268.1 1354.8 266.3 1356.8 265.4 1358.8 265.4 1360.8 265.4 1362.8 265.4 1364.8 265 1366.8 263.5 1368.8 262 1370.8 260.6 1372.8 260.6 1374.8 260.6 1376.8 260.6 1378.8 260.6 1380.8 264.3 1382.8 268.9 1384.8 260.6 1386.8 256.1 1388.8 256.1 1390.8 256.1 1392.8 256.1 1394.8 256.1 1396.8 262.9 1398.8 265.7 1400.8 258.5 1402.8 257.9 1404.8 257.9 1406.8 257.9 1408.8 257.9 1410.8 260.3 1412.8 265 1414.8 269.7 1416.8 268.5 1418.8 265.6 1420.8 262.8 1422.8 260 1424.8 258.6 1426.8 258.6 1428.8 258.6 1430.8 258.6 1432.8 258.9 1434.8 263 1436.8 267.1 1438.8 271.3 1440.8 270.1 1442.8 263.8 1444.8 257.5 1446.8 257.5 1448.8 257.5 1450.8 257.5 1452.8 257.5 1454.8 258.9 1456.8 261.3 1458.8 263.8 1460.8 267.6 1462.8 271.1 1464.8 268.7 1466.8 267.6 1468.8 267.6 1470.8 267.6 1472.8 267.6 1474.8 269.1 1476.8 271.9 1478.8 268.8 1480.8 265.6 1482.8 262.4 1484.8 260.9 1486.8 260.9 1488.8 260.9 1490.8 260.9 1492.8 262 1494.8 268.6 1496.8 268.5 1498.8 265.7 1500.8 265.7 1502.8 265.7 1504.8 265.7 1506.8 265.7 1508.8 267.1 1510.8 268.4 1512.8 269.7 1514.8 275.5 1516.8 271.5 1518.8 263.6 1520.8 263.6 1522.8 263.6 1524.8 263.6 1526.8 263.6 1528.8 266.8 1530.8 264.6 1532.8 260.7 1534.8 256.8 1536.8 252.9 1538.8 252.9 1540.8 252.9 1542.8 252.9 1544.8 252.9 1546.8 258.6 1548.8 266.9 1550.8 272.9 1552.8 270.5 1554.8 269.1 1556.8 268.1 1558.8 267.1 1560.8 266.1 1562.8 265.5 1564.8 265.5 1566.8 265.5 1568.8 265.5 1570.8 265.5 1572.8 268.2 1574.8 270.9 1576.8 273.6 1578.8 272.8 1580.8 269.4 1582.8 266.1 1584.8 262.7 1586.8 261.7 1588.8 261.7 1590.8 261.7 1592.8 261.7 1594.8 263.5 1596.8 261 1598.8 258.4 1600.8 255.7 1602.8 254.6 1604.8 254.6 1606.8 254.6 1608.8 254.6 1610.8 258.2 1612.8 265.2 1614.8 270.9 1616.8 266 1618.8 261.2 1620.8 258.8 1622.8 258.8 1624.8 258.8 1626.8 258.8 1628.8 259 1630.8 262.6 1632.8 266.2 1634.8 269.8 1636.8 273.4 1638.8 274.2 1640.8 271.5 1642.8 268.8 1644.8 266.2 1646.8 263.5 1648.8 260.8 1650.8 259.5 1652.8 259.5 1654.8 259.5 1656.8 259.5 1658.8 260.8 1660.8 266.1 1662.8 267.2 1664.8 265.5 1666.8 265.5 1668.8 265.5 1670.8 265.5 1672.8 266.1 1674.8 268.2 1676.8 270.3 1678.8 272.3 1680.8 274.4 1682.8 274.3 1684.8 272.2 1686.8 270.1 1688.8 268.1 1690.8 264 1692.8 259.4 1694.8 254.7 1696.8 250 1698.8 250 1700.8 250 1702.8 250 1704.8 250 1706.8 258.8 1708.8 273 1710.8 277.9 1712.8 263.3 1714.8 250.6 1716.8 250.6 1718.8 250.6 1720.8 250.6 1722.8 250.6 1724.8 260.9 1726.8 271.2 1728.8 269.5 1730.8 267.7 1732.8 265.8 1734.8 264 1736.8 262.1 1738.8 261.4 1740.8 261.4 1742.8 261.4 1744.8 261.4 1746.8 261.9 1748.8 262.8 1750.8 263.7 1752.8 263.1 1754.8 257.5 1756.8 252.2 1758.8 252.2 1760.8 252.2 1762.8 252.2 1764.8 252.2 1766.8 254.6 1768.8 256.9 1770.8 259.3 1772.8 261.6 1774.8 264.5 1776.8 268.2 1778.8 271.8 1780.8 272.4 1782.8 268.2 1784.8 264 1786.8 263 1788.8 263 1790.8 263 1792.8 263 1794.8 264.8 1796.8 265.4 1798.8 258 1800.8 250.6 1802.8 247.8 1804.8 247.8 1806.8 247.8 1808.8 247.8 1810.8 250 1812.8 254.4 1814.8 258.8 1816.8 263.2 1818.8 267.8 1820.8 272.6 1822.8 277.3 1824.8 276.9 1826.8 276.9 1828.8 276.9 1830.8 276.9 1832.8 277.3 1834.8 272.2 1836.8 263.9 1838.8 257 1840.8 257 1842.8 257 1844.8 257 1846.8 257 1848.8 259.1 1850.8 261.2 1852.8 263.4 1854.8 265.7 1856.8 269.8 1858.8 270.1 1860.8 266.6 1862.8 266.6 1864.8 266.6 1866.8 256.3 1868.8 245.6 1870.8 245.6 1872.8 245.6 1874.8 245.6 1876.8 245.6 1878.8 255.4 1880.8 265.2 1882.8 273.3 1884.8 275.1 1886.8 270.3 1888.8 266.9 1890.8 263.4 1892.8 260.4 1894.8 260.4 1896.8 260.4 1898.8 260.4 1900.8 260.4 1902.8 263.5 1904.8 266.6 1906.8 265.1 1908.8 261.3 1910.8 261.3 1912.8 261.3 1914.8 261.3 1916.8 261.3 1918.8 264.5 1920.8 267.6 1922.8 266.1 1924.8 266.1 1926.8 266.1 1928.8 266.1 1930.8 266.1 1932.8 267.4 1934.8 268.8 1936.8 270.1 1938.8 271.5 1940.8 273.4 1942.8 270.6 1944.8 268.5 1946.8 266.7 1948.8 264.8 1950.8 263 1952.8 260.9 1954.8 256.9 1956.8 252.9 1958.8 248.9 1960.8 248.6 1962.8 248.6 1964.8 248.6 1966.8 248.6 1968.8 252.2 1970.8 259.3 1972.8 266.5 1974.8 272.9 1976.8 276.8 1978.8 280.7 1980.8 284.5 1982.8 280.7 1984.8 276.8 1986.8 273.7 1988.8 270.5 1990.8 267.4 1992.8 265 1994.8 263.2 1996.8 261.4 1998.8 259.6 2000.8 257.8 2002.8 256 2004.8 256 2006.8 256 2008.8 256 2010.8 256 2012.8 258.4 2014.8 262.1 2016.8 265.8 2018.8 263.9 2020.8 261.1 2022.8 258.4 2024.8 257 2026.8 257 2028.8 257 2030.8 257 2032.8 259.2 2034.8 265.5 2036.8 271.8 2038.8 271.1 2040.8 269.4 2042.8 268.1 2044.8 266.7 2046.8 265.4 2048.8 264.5 2050.8 263.6 2052.8 262.7 2054.8 261.8 2056.8 261 2058.8 260.3 2060.8 260.3 2062.8 260.3 2064.8 260.3 2066.8 260.3 2068.8 261.4 2070.8 262.5 2072.8 263.6 2074.8 264.7 2076.8 266.1 2078.8 267.7 2080.8 269.3 2082.8 270.9 2084.8 272.5 2086.8 274.1 2088.8 275.6 2090.8 273.5 2092.8 270.9 2094.8 268.2 2096.8 265.6 2098.8 263 2100.8 261.6 2102.8 261.6 2104.8 261.6 2106.8 261.6 2108.8 262.5 2110.8 265.7 2112.8 265.5 2114.8 259.5 2116.8 253.6 2118.8 247.6 2120.8 241.6 2122.8 235.7 2124.8 235.7 2126.8 235.7 2128.8 235.7 2130.8 235.7 2132.8 246.2 2134.8 259.3 2136.8 258.5 2138.8 258.5 2140.8 258.5 2142.8 258.5 2144.8 260.1 2146.8 264.3 2148.8 259.7 2150.8 259.7 2152.8 259.7 2154.8 259.7 2156.8 259.7 2158.8 262.8 2160.8 267 2162.8 271.1 2164.8 274.8 2166.8 271 2168.8 270.2 2170.8 270.2 2172.8 270.2 2174.8 270.2 2176.8 270.9 2178.8 266.7 2180.8 262.5 2182.8 258.3 2184.8 257.2 2186.8 257.2 2188.8 257.2 2190.8 257.2 2192.8 259.1 2194.8 262.9 2196.8 266.7 2198.8 270.3 2200.8 268 2202.8 261.3 2204.8 254.6 2206.8 250.2 2208.8 250.2 2210.8 250.2 2212.8 250.2 2214.8 250.2 2216.8 264.5 2218.8 273.8 2220.8 269.2 2222.8 266.1 2224.8 263 2226.8 259.9 2228.8 256.8 2230.8 255.8 2232.8 255.8 2234.8 255.8 2236.8 255.8 2238.8 257.2 2240.8 257 2242.8 253.2 2244.8 249.3 2246.8 248.4 2248.8 248.4 2250.8 248.4 2252.8 248.4 2254.8 263.6 2256.8 263.6 2258.8 263.6 2260.8 263.6 2262.8 263.6 2264.8 269.3 2266.8 271.4 2268.8 271.4 2270.8 271.4 2272.8 271.4 2274.8 270.8 2276.8 264.7 2278.8 263.7 2280.8 262.2 2282.8 259.3 2284.8 256.3 2286.8 254.8 2288.8 254.8 2290.8 254.8L2290.8 259.3 2288.8 262.2 2286.8 263.7 2284.8 264.7 2282.8 270.8 2280.8 283 2278.8 291.8 2276.8 291.8 2274.8 291.8 2272.8 291.8 2270.8 291.8 2268.8 282.8 2266.8 282.8 2264.8 282.8 2262.8 282.8 2260.8 282.8 2258.8 279.9 2256.8 288 2254.8 288 2252.8 288 2250.8 288 2248.8 288 2246.8 267.3 2244.8 264.7 2242.8 264.7 2240.8 264.7 2238.8 264.7 2236.8 264.7 2234.8 262.8 2232.8 263 2230.8 266.1 2228.8 269.2 2226.8 273.8 2224.8 278.8 2222.8 283.8 2220.8 288.8 2218.8 288.8 2216.8 288.8 2214.8 288.8 2212.8 288.8 2210.8 278.9 2208.8 268 2206.8 274.7 2204.8 278.7 2202.8 278.7 2200.8 278.7 2198.8 278.7 2196.8 278.7 2194.8 275.9 2192.8 273.1 2190.8 270.3 2188.8 266.7 2186.8 266.7 2184.8 270.9 2182.8 275.1 2180.8 275.6 2178.8 275.6 2176.8 275.6 2174.8 275.6 2172.8 274.8 2170.8 278.6 2168.8 282.4 2166.8 282.4 2164.8 282.4 2162.8 282.4 2160.8 282.4 2158.8 279.5 2156.8 275.3 2154.8 271.1 2152.8 274.5 2150.8 274.9 2148.8 274.9 2146.8 274.9 2144.8 274.9 2142.8 272.8 2140.8 268.5 2138.8 264.3 2136.8 264.3 2134.8 265.2 2132.8 265.2 2130.8 265.2 2128.8 265.2 2126.8 259.4 2124.8 253.6 2122.8 259.5 2120.8 265.5 2118.8 271.5 2116.8 275.3 2114.8 275.3 2112.8 275.3 2110.8 275.3 2108.8 275.3 2106.8 272.1 2104.8 268.9 2102.8 268.2 2100.8 270.9 2098.8 273.5 2096.8 276.1 2094.8 278.8 2092.8 279.2 2090.8 279.2 2088.8 279.2 2086.8 279.2 2084.8 278.5 2082.8 277 2080.8 275.6 2078.8 274.1 2076.8 272.5 2074.8 270.9 2072.8 269.3 2070.8 267.7 2068.8 266.1 2066.8 264.7 2064.8 263.6 2062.8 262.5 2060.8 262.7 2058.8 263.6 2056.8 264.5 2054.8 265.4 2052.8 266.7 2050.8 268.1 2048.8 269.4 2046.8 271.1 2044.8 272.9 2042.8 274.8 2040.8 276.6 2038.8 278 2036.8 278 2034.8 278 2032.8 278 2030.8 278 2028.8 271.8 2026.8 265.5 2024.8 266.7 2022.8 269.4 2020.8 272.2 2018.8 272.2 2016.8 272.2 2014.8 272.2 2012.8 272.2 2010.8 269.5 2008.8 265.8 2006.8 262.1 2004.8 261.4 2002.8 263.2 2000.8 265 1998.8 267.4 1996.8 270.5 1994.8 273.7 1992.8 276.8 1990.8 280.7 1988.8 284.5 1986.8 288.3 1984.8 292.1 1982.8 292.1 1980.8 292.1 1978.8 292.1 1976.8 292.1 1974.8 288.4 1972.8 284.5 1970.8 280.7 1968.8 276.8 1966.8 272.9 1964.8 266.5 1962.8 259.3 1960.8 260.9 1958.8 263 1956.8 264.8 1954.8 266.7 1952.8 268.5 1950.8 270.6 1948.8 273.4 1946.8 276.2 1944.8 279 1942.8 279 1940.8 279 1938.8 279 1936.8 279 1934.8 276.9 1932.8 273.7 1930.8 271.5 1928.8 270.1 1926.8 269.4 1924.8 271.2 1922.8 272.1 1920.8 272.1 1918.8 272.1 1916.8 272.1 1914.8 270.7 1912.8 268.9 1910.8 272.7 1908.8 274.3 1906.8 274.3 1904.8 274.3 1902.8 274.3 1900.8 272.8 1898.8 269.7 1896.8 266.9 1894.8 270.3 1892.8 275.1 1890.8 281.3 1888.8 285.7 1886.8 285.7 1884.8 285.7 1882.8 285.7 1880.8 285.7 1878.8 281.6 1876.8 277.5 1874.8 273.3 1872.8 271.1 1870.8 285.8 1868.8 285.8 1866.8 285.8 1864.8 285.8 1862.8 285.8 1860.8 279 1858.8 279 1856.8 279 1854.8 279 1852.8 278.1 1850.8 274 1848.8 269.8 1846.8 265.7 1844.8 263.9 1842.8 272.2 1840.8 280.5 1838.8 280.5 1836.8 280.5 1834.8 280.5 1832.8 280.5 1830.8 279.9 1828.8 279 1826.8 280.2 1824.8 281.7 1822.8 281.7 1820.8 281.7 1818.8 281.7 1816.8 281.7 1814.8 277.4 1812.8 272.6 1810.8 267.8 1808.8 263.2 1806.8 258.8 1804.8 265.4 1802.8 272.8 1800.8 276.4 1798.8 276.4 1796.8 276.4 1794.8 276.4 1792.8 275.8 1790.8 272.1 1788.8 272.4 1786.8 276.6 1784.8 280.8 1782.8 280.9 1780.8 280.9 1778.8 280.9 1776.8 280.9 1774.8 279.1 1772.8 275.4 1770.8 271.8 1768.8 268.2 1766.8 264.5 1764.8 261.6 1762.8 259.3 1760.8 263.1 1758.8 268.7 1756.8 271.5 1754.8 271.5 1752.8 271.5 1750.8 271.5 1748.8 269.8 1746.8 266.6 1744.8 264.7 1742.8 264 1740.8 265.8 1738.8 267.7 1736.8 269.5 1734.8 271.9 1732.8 274.3 1730.8 276.7 1728.8 279.1 1726.8 279.1 1724.8 279.1 1722.8 279.1 1720.8 279.1 1718.8 277.9 1716.8 292.5 1714.8 299.8 1712.8 299.8 1710.8 299.8 1708.8 299.8 1706.8 297.2 1704.8 290.6 1702.8 284.1 1700.8 273 1698.8 264 1696.8 268.1 1694.8 270.1 1692.8 272.2 1690.8 274.3 1688.8 276.4 1686.8 278.5 1684.8 279.5 1682.8 279.5 1680.8 279.5 1678.8 279.5 1676.8 278.5 1674.8 276.5 1672.8 274.4 1670.8 272.3 1668.8 270.7 1666.8 274.2 1664.8 276.6 1662.8 276.6 1660.8 276.6 1658.8 276.6 1656.8 276.6 1654.8 271.3 1652.8 266.2 1650.8 268.8 1648.8 271.5 1646.8 274.2 1644.8 274.5 1642.8 274.5 1640.8 274.5 1638.8 274.5 1636.8 274.5 1634.8 274.5 1632.8 274.5 1630.8 274.5 1628.8 273.4 1626.8 269.8 1624.8 266.2 1622.8 270.9 1620.8 275.7 1618.8 280.6 1616.8 283 1614.8 283 1612.8 283 1610.8 283 1608.8 279.4 1606.8 272.3 1604.8 265.2 1602.8 263.7 1600.8 266.4 1598.8 269.1 1596.8 269.1 1594.8 269.1 1592.8 269.1 1590.8 269.1 1588.8 269.4 1586.8 272.8 1584.8 276.1 1582.8 279.5 1580.8 280.3 1578.8 280.3 1576.8 280.3 1574.8 280.3 1572.8 278.9 1570.8 276.3 1568.8 273.6 1566.8 270.9 1564.8 268.2 1562.8 269.1 1560.8 270.5 1558.8 272.9 1556.8 275.2 1554.8 277.6 1552.8 279.9 1550.8 279.9 1548.8 279.9 1546.8 279.9 1544.8 279.9 1542.8 275.1 1540.8 266.9 1538.8 264.6 1536.8 268.5 1534.8 272.3 1532.8 274.3 1530.8 274.3 1528.8 274.3 1526.8 274.3 1524.8 273 1522.8 279.5 1520.8 287.4 1518.8 290.8 1516.8 290.8 1514.8 290.8 1512.8 290.8 1510.8 287.7 1508.8 281.6 1506.8 275.5 1504.8 269.7 1502.8 273.6 1500.8 278.7 1498.8 281.8 1496.8 281.8 1494.8 281.8 1492.8 281.8 1490.8 281.8 1488.8 275.2 1486.8 268.8 1484.8 271.9 1482.8 275.1 1480.8 278.2 1478.8 278.2 1476.8 278.2 1474.8 278.2 1472.8 278.2 1470.8 275.4 1468.8 273.4 1466.8 275.8 1464.8 278.1 1462.8 278.1 1460.8 278.1 1458.8 278.1 1456.8 278.1 1454.8 273.3 1452.8 267.6 1450.8 263.8 1448.8 270.1 1446.8 276.3 1444.8 278.1 1442.8 278.1 1440.8 278.1 1438.8 278.1 1436.8 277.2 1434.8 275.4 1432.8 273.6 1430.8 271.3 1428.8 267.1 1426.8 265.6 1424.8 268.5 1422.8 271.6 1420.8 274.8 1418.8 277.9 1416.8 277.9 1414.8 277.9 1412.8 277.9 1410.8 277.9 1408.8 274.4 1406.8 269.7 1404.8 273 1402.8 280.3 1400.8 280.3 1398.8 280.3 1396.8 280.3 1394.8 280.3 1392.8 276.5 1390.8 269.7 1388.8 277.2 1386.8 281.3 1384.8 281.3 1382.8 281.3 1380.8 281.3 1378.8 281.3 1376.8 275.7 1374.8 270 1372.8 265 1370.8 268.9 1368.8 273.3 1366.8 277.8 1364.8 280 1362.8 280 1360.8 280 1358.8 280 1356.8 273.5 1354.8 273.4 1352.8 275.2 1350.8 277.1 1348.8 279.4 1346.8 281.8 1344.8 284.1 1342.8 286.5 1340.8 287.3 1338.8 287.3 1336.8 287.3 1334.8 287.3 1332.8 282.8 1330.8 273.9 1328.8 264.9 1326.8 256 1324.8 251.3 1322.8 252.6 1320.8 253.9 1318.8 264.6 1316.8 282 1314.8 291.9 1312.8 291.9 1310.8 291.9 1308.8 291.9 1306.8 291.9 1304.8 282.8 1302.8 285.7 1300.8 285.7 1298.8 285.7 1296.8 285.7 1294.8 285.7 1292.8 282.2 1290.8 278.2 1288.8 274.2 1286.8 266.2 1284.8 254 1282.8 256.1 1280.8 273.1 1278.8 298.7 1276.8 299.2 1274.8 299.2 1272.8 299.2 1270.8 299.2 1268.8 294.3 1266.8 284.5 1264.8 274.8 1262.8 265.9 1260.8 257.6 1258.8 263 1256.8 268.4 1254.8 273.8 1252.8 279.2 1250.8 282.8 1248.8 285.2 1246.8 287.6 1244.8 290 1242.8 290.4 1240.8 290.4 1238.8 290.4 1236.8 290.4 1234.8 286 1232.8 277 1230.8 268 1228.8 263.7 1226.8 261.3 1224.8 265.7 1222.8 274 1220.8 281.6 1218.8 281.6 1216.8 281.6 1214.8 281.6 1212.8 281.6 1210.8 276.9 1208.8 272.2 1206.8 274.4 1204.8 275.7 1202.8 275.7 1200.8 275.7 1198.8 275.7 1196.8 272.3 1194.8 265.5 1192.8 261.9 1190.8 267.2 1188.8 272.2 1186.8 277 1184.8 281.8 1182.8 286.1 1180.8 286.1 1178.8 286.1 1176.8 286.1 1174.8 286.1 1172.8 276.7 1170.8 269.6 1168.8 269.6 1166.8 269.6 1164.8 269.6 1162.8 269.6 1160.8 268.8 1158.8 268 1156.8 267.2 1154.8 267.3 1152.8 268.1 1150.8 268.9 1148.8 269.7 1146.8 272.8 1144.8 276.6 1142.8 280.4 1140.8 284.3 1138.8 288.1 1136.8 290 1134.8 290 1132.8 290 1130.8 290 1128.8 273.5 1126.8 277.8 1124.8 280.4 1122.8 280.4 1120.8 280.4 1118.8 280.4 1116.8 280.4 1114.8 276.4 1112.8 276.3 1110.8 280.7 1108.8 280.7 1106.8 280.7 1104.8 280.7 1102.8 280.7 1100.8 277.2 1098.8 275.6 1096.8 276.6 1094.8 276.6 1092.8 276.6 1090.8 276.6 1088.8 273.5 1086.8 265.7 1084.8 264.1 1082.8 272.1 1080.8 280.1 1078.8 288 1076.8 290.5 1074.8 290.5 1072.8 290.5 1070.8 290.5 1068.8 288.1 1066.8 283.5 1064.8 278.8 1062.8 274.1 1060.8 265.3 1058.8 272.8 1056.8 281.2 1054.8 287.7 1052.8 287.7 1050.8 287.7 1048.8 287.7 1046.8 287.7 1044.8 277.5 1042.8 272 1040.8 279.3 1038.8 286.3 1036.8 286.3 1034.8 286.3 1032.8 286.3 1030.8 286.3 1028.8 282.2 1026.8 278.1 1024.8 274 1022.8 269.8 1020.8 260.5 1018.8 265.1 1016.8 273.9 1014.8 282.7 1012.8 291.5 1010.8 292.5 1008.8 292.5 1006.8 292.5 1004.8 292.5 1002.8 291.1 1000.8 288.2 998.8 285.3 996.8 282.5 994.8 279.6 992.8 276.7 990.8 274.2 988.8 271.7 986.8 269.2 984.8 266.7 982.8 264.4 980.8 262.2 978.8 261.9 976.8 263.3 974.8 264.7 972.8 264.7 970.8 264.7 968.8 264.7 966.8 269.5 964.8 269.5 962.8 269.5 960.8 269.5 958.8 267.6 956.8 263.9 954.8 267.2 952.8 270.6 950.8 272.1 948.8 272.1 946.8 272.1 944.8 272.1 942.8 271.4 940.8 269.9 938.8 270.1 936.8 272.6 934.8 275.1 932.8 277.3 930.8 279.2 928.8 281 926.8 282.9 924.8 284.7 922.8 284.7 920.8 284.7 918.8 284.7 916.8 284.7 914.8 278 912.8 267.8 910.8 257.5 908.8 254.9 906.8 261.4 904.8 267.9 902.8 271.5 900.8 271.5 898.8 271.5 896.8 271.5 894.8 271.5 892.8 269.5 890.8 267.5 888.8 265.5 886.8 263.5 884.8 261.8 882.8 260.2 880.8 258.6 878.8 259.6 876.8 260.8 874.8 262.1 872.8 270.7 870.8 286.5 868.8 286.5 866.8 286.5 864.8 286.5 862.8 286.5 860.8 281.4 858.8 305.3 856.8 305.3 854.8 305.3 852.8 305.3 850.8 299.2 848.8 278.8 846.8 264.9 844.8 264.9 842.8 264.9 840.8 264.9 838.8 264 836.8 262.8 834.8 262.9 832.8 262.9 830.8 262.9 828.8 262.9 826.8 262.9 824.8 262.9 822.8 262.9 820.8 262.9 818.8 262.5 816.8 263.1 814.8 272 812.8 280.9 810.8 286.3 808.8 286.3 806.8 286.3 804.8 286.3 802.8 286.3 800.8 281.2 798.8 276 796.8 270.9 794.8 266.7 792.8 262.7 790.8 260 788.8 262.1 786.8 270.8 784.8 275.8 782.8 278.2 780.8 280.5 778.8 282.9 776.8 285.2 774.8 285.2 772.8 285.2 770.8 285.2 768.8 285.2 766.8 274.9 764.8 264.2 762.8 265.8 760.8 274.5 758.8 283.2 756.8 284.5 754.8 284.5 752.8 284.5 750.8 284.5 748.8 282.9 746.8 279.8 744.8 276.7 742.8 272.9 740.8 267.8 738.8 263.2 736.8 265.5 734.8 267.8 732.8 270.3 730.8 275.7 728.8 281 726.8 286.4 724.8 291.7 722.8 294.4 720.8 294.4 718.8 294.4 716.8 294.4 714.8 291.7 712.8 285.9 710.8 280.1 708.8 274.5 706.8 274.5 704.8 274.5 702.8 269.4 700.8 263.8 698.8 276.2 696.8 292.9 694.8 307.5 692.8 307.5 690.8 307.5 688.8 307.5 686.8 307.5 684.8 296.5 682.8 285.6 680.8 273.3 678.8 256 676.8 260.7 674.8 268.1 672.8 273.3 670.8 273.3 668.8 273.3 666.8 273.3 664.8 273.3 662.8 264.3 660.8 273.5 658.8 289.2 656.8 289.2 654.8 289.2 652.8 289.2 650.8 289.2 648.8 280.8 646.8 272.3 644.8 265.5 642.8 269.6 640.8 269.6 638.8 269.6 636.8 269.6 634.8 269.6 632.8 270.4 630.8 272.7 628.8 274.4 626.8 274.4 624.8 274.4 622.8 274.4 620.8 274.4 618.8 274.2 616.8 274 614.8 273.8 612.8 266.8 610.8 257.9 608.8 258.9 606.8 260 604.8 261.1 602.8 262.3 600.8 268.9 598.8 283.1 596.8 286.6 594.8 286.6 592.8 286.6 590.8 286.6 588.8 283.9 586.8 278.6 584.8 273.2 582.8 271.4 580.8 271.4 578.8 271.4 576.8 280.1 574.8 280.4 572.8 280.4 570.8 280.4 568.8 280.4 566.8 277.7 564.8 272.3 562.8 266.9 560.8 265.8 558.8 268.4 556.8 273.6 554.8 278.8 552.8 284 550.8 284.6 548.8 284.6 546.8 284.6 544.8 284.6 542.8 279.3 540.8 268.8 538.8 262.4 536.8 264 534.8 265.6 532.8 267.2 530.8 269.8 528.8 274.7 526.8 279.7 524.8 282.1 522.8 282.1 520.8 282.1 518.8 282.1 516.8 278.7 514.8 271.6 512.8 264.4 510.8 265.6 508.8 268.4 506.8 272 504.8 275.6 502.8 278.3 500.8 278.3 498.8 278.3 496.8 278.3 494.8 278.3 492.8 277.9 490.8 277.4 488.8 276.9 486.8 276.5 484.8 276 482.8 272.6 480.8 267 478.8 266 476.8 266 474.8 266 472.8 258.3 470.8 259.8 468.8 262.5 466.8 262.5 464.8 262.5 462.8 262.5 460.8 264.9 458.8 272.1 456.8 279.4 454.8 280.5 452.8 280.5 450.8 280.5 448.8 280.5 446.8 278.8 444.8 275.5 442.8 277.3 440.8 283 438.8 288.3 436.8 292.7 434.8 297 432.8 297 430.8 297 428.8 297 426.8 297 424.8 281.9 422.8 265.7 420.8 249.5 418.8 261.4 416.8 280.2 414.8 280.2 412.8 280.2 410.8 280.2 408.8 280.2 406.8 276.8 404.8 272.8 402.8 265.2 400.8 259.2 398.8 261.2 396.8 266.9 394.8 274.7 392.8 275.7 390.8 275.7 388.8 275.7 386.8 275.7 384.8 274 382.8 270.6 380.8 267.2 378.8 267.1 376.8 269.8 374.8 272.5 372.8 275.2 370.8 276.5 368.8 276.5 366.8 276.5 364.8 276.5 362.8 273.7 360.8 267.8 358.8 264.4 356.8 269.1 354.8 274 352.8 278.6 350.8 279.6 348.8 280.7 346.8 281.2 344.8 281.2 342.8 281.2 340.8 281.2 338.8 277 336.8 271.8 334.8 282.8 332.8 284.7 330.8 284.7 328.8 284.7 326.8 284.7 324.8 281.6 322.8 280.4 320.8 289.5 318.8 289.5 316.8 289.5 314.8 289.5 312.8 289.5 310.8 281.4 308.8 281.4 306.8 281.4 304.8 280.2 302.8 275 300.8 269.8 298.8 264.6 296.8 266 294.8 269.5 292.8 273.1 290.8 276.6 288.8 279.9 286.8 281.8 284.8 283.8 282.8 284.7 280.8 284.7 278.8 284.7 276.8 284.7 274.8 282.7 272.8 276.1 270.8 269.5 268.8 265.9 266.8 265 264.8 265.3 262.8 265.7 260.8 266.9 258.8 268.1 256.8 269.3 254.8 271.3 252.8 275.6 250.8 279.8 248.8 284 246.8 284 244.8 284 242.8 284 240.8 284 238.8 279.1 236.8 274 234.8 269 232.8 263.9 230.8 266.9 228.8 269.9 226.8 269.9 224.8 269.9 222.8 269.9 220.8 269.9 218.8 268.7 216.8 272.8 214.8 276.2 212.8 276.2 210.8 276.2 208.8 276.2 206.8 276.2 204.8 279.8 202.8 289.7 200.8 289.7 198.8 289.7 196.8 289.7 194.8 289.7 192.8 272.6 190.8 267.8 188.8 267.8 186.8 267.8 184.8 267.8 182.8 232.6Z" fill="#00ff00" stroke="#00ff00" stroke-width="6.2"/>
<path d="M182.8 232.6 187.5 206.5 188.5 270.2 193.1 240.1 196 262.5 198.8 289.9 201.6 277.7 204.4 261.9 207.7 267.1 211 276.6 214.1 272.3 217.2 262.3 220.4 257.2 224.1 270.9 226.9 267.8 229.8 260.4 232.6 258.2 236.3 262.7 239.2 271 242 275.3 244.8 284.1 248.1 279.6 251.4 270.2 253.9 266.3 256.4 268.4 258.9 265.7 262 263.9 265.1 265.8 268.3 263.8 271.1 262.8 273.9 266.4 276.7 276.8 279.5 285 282.3 280.9 285.2 279.6 288.3 275.2 291.4 267.2 294.6 262.9 297.1 264.7 299.6 261.4 302.1 262.7 304.6 270.9 307.1 273.5 309.6 282.2 312.4 274.7 315.2 262.9 316.2 292.5 319.4 275.9 322.7 262.7 325.2 272.7 327.7 276.3 330.2 286 333.1 272.9 335.9 255.2 339.6 251.6 343.4 281.5 346.2 278.5 349 278.5 351.8 273.1 354.6 264.6 357.9 258.9 361.2 257.2 364.5 269.4 367.8 276.6 370.3 271.2 372.8 271.6 375.3 266.4 377.8 264.1 380.3 266.2 382.8 263.8 385.3 266.7 387.8 274.9 390.3 276.6 394.1 261.9 397.2 256.4 400.3 258.1 403.5 252.5 406.3 261.4 409.1 273.9 412.9 280.3 416.6 243.9 421.3 221.5 424.1 243.9 427.4 272.7 430.7 297.2 435.4 287.1 437.9 278.5 440.4 274.6 442.9 265.7 446 269.6 449.2 277.8 452.3 281.3 455.1 269.6 457.9 260.8 460.4 262.6 462.9 259.6 465.4 262.7 468.3 258 471.1 248.6 473.9 245 478.6 266.4 482.3 260 485.2 270.1 488 275.8 490.8 275.3 493.6 278.9 496.4 275.2 499.2 278.5 502.1 276 504.9 268.3 508 262.1 511.1 261.9 514.3 255.4 516.8 262.2 519.3 274.8 521.8 282.2 524.6 273.4 527.4 268.3 530.2 268 533.1 263.8 536.2 259.6 539.3 261.1 542.4 256.3 545.3 269.4 548.1 286 550.6 281.7 553.1 271.8 555.6 266.4 558.7 266.7 561.8 262.3 565 261.9 567.5 270.7 570 273 572.5 282.2 576.2 258.2 580 272.1 581.5 267.5 585 262.9 588 273 591.1 277.5 594.2 287.6 597.6 262.9 601.1 263 604.6 259 607.6 255.7 610.7 256.8 613.8 253.3 618.4 273.8 621.8 272.2 625.3 274.5 628 273.4 630.7 266.7 633.4 265.2 636.2 269.3 639.1 269.9 642.6 259.4 646 252.1 649.1 267 652.2 276 655.3 291.1 657.6 265.2 660.4 258.5 663.3 248.7 666.2 259.4 669.1 274.5 672 266.2 674.8 253.3 677.5 252.3 680.2 257.7 682.9 256 685.2 276.8 688.1 291 691 308.3 695.6 269.9 700.2 247.5 703.6 258.3 708.2 274.5 712.9 274.5 716.3 287 719.8 294.5 722.8 285 725.9 279.7 729 269.9 731.9 264.3 734.7 264.4 737.6 258 740.5 256.7 744 268 747.4 274.5 750.9 277.4 754.3 285.3 757.4 274 760.5 257 763.5 245.2 768.2 260.6 772.8 285.3 775.8 283.2 778.9 276 782 274.5 786.6 254.4 789.7 257.6 792.7 257.5 795.8 260.6 800.4 269.9 803.9 281.1 807.3 287.6 810.8 270.1 814.2 256.7 817.3 260.1 820.4 259.2 823.5 262.9 826.5 264.4 829.6 260.5 832.7 262.9 837.3 259 840.7 263.6 844.2 265.2 847.6 261.1 851.1 261.3 855.7 308.3 858 240.6 860.3 269.9 863.8 280.9 867.2 287.6 869.5 262.9 872.4 259.6 875.3 260.7 878.2 255.6 881.1 255.6 884.1 259.7 887.2 258.5 890.3 262.9 893.3 267.6 896.4 266.8 899.5 272.2 902.9 262.7 906.4 249.8 909.9 248.6 913.3 249.8 916.8 269.8 920.2 285.3 923.3 280 926.4 281.7 929.4 276.8 932.5 271 935.6 271.5 938.7 265.2 941.7 265.1 944.8 270.9 947.9 272.2 951 265.2 954 262.9 957.1 256.7 960.6 261.7 964 269.9 967.5 242.9 970 265.2 972.7 264.8 975.4 259.8 978.1 261.8 980.7 257.9 984.2 259.2 987.6 265.2 990.7 270.5 993.8 271.9 996.9 276.8 999.7 283.5 1002.6 282.8 1005.5 291.1 1008.4 293.4 1011.8 276.9 1015.3 262.9 1018.2 254 1021.1 242.9 1023.9 253.9 1026.8 269.9 1029.5 277.2 1032.2 278.5 1034.9 286.4 1037.8 278.1 1040.6 265.2 1043.5 263 1046.4 265.2 1051 288.7 1053.6 280.2 1056.2 265.5 1058.8 257.5 1061.4 245.2 1066 272.2 1068.7 276.7 1071.4 287 1074.1 291.1 1076.9 277.3 1079.8 270.3 1082.7 254.7 1085.6 245.2 1088.3 257.5 1091 264.9 1093.6 276.8 1097.1 275.4 1100.6 269.9 1104 273.8 1107.5 281.8 1112.1 262.9 1115.1 270.9 1118.2 273.1 1121.3 281.4 1124.1 277.5 1126.8 266 1129.6 263.2 1132.4 255.6 1133.3 291.1 1136 284.3 1138.8 282.4 1141.6 273 1144.3 269.9 1147.2 270.2 1150.1 265.1 1153 268.2 1155.9 265.2 1158.7 264.2 1161.6 268.7 1164.5 267.2 1167.4 269.9 1170.8 248.7 1173.5 262.3 1176.2 271.6 1178.9 286.4 1182.4 280 1185.8 269.9 1188.5 260.3 1191.2 257.7 1193.9 248.7 1196.6 256.2 1199.2 268.5 1201.9 276.1 1205.4 267.9 1208.8 262.9 1211.5 270.6 1214.2 274.3 1216.9 281.8 1220.4 269.6 1223.8 253.3 1226.4 254.7 1229 261 1231.6 260.1 1234.2 265.2 1237.1 279.6 1240 291.1 1242.6 286.1 1245.3 286.1 1248 281.4 1250.8 272.4 1253.5 268.5 1256.3 257.8 1259.1 253.2 1261.8 244 1265.3 258 1268.8 274.5 1271.6 290.6 1274.5 302.6 1278 258.3 1280.7 249.8 1283.3 246.7 1286 237.1 1288.9 252.9 1291.8 272.2 1295.3 281.1 1298.7 286 1302.2 275.3 1305.6 268.2 1308.5 283.7 1311.4 294.5 1316 254.4 1318.5 250.7 1321.1 253.2 1323.6 248.5 1326.1 249.2 1328.7 246.4 1331.7 257.9 1334.8 275.5 1337.9 287.6 1341 281.4 1344 282.4 1347.1 276.8 1349.7 272.1 1352.3 274.4 1354.8 267.3 1357.4 269.6 1360 265.2 1361.5 280.7 1365 270.5 1368.4 265.2 1371.9 264.4 1375.3 260.2 1378 266.3 1380.7 276.6 1383.4 283 1386.9 267.3 1390.3 254.4 1393 266 1395.7 270.6 1398.4 281.8 1401.8 270.4 1405.3 256.7 1408.4 262.9 1411.4 272.9 1414.5 278.4 1418 271.1 1421.4 267.5 1424.9 264.3 1428.3 257.9 1431.8 263.9 1435.3 272.2 1438.7 276.7 1442.2 278.4 1445.6 265.1 1449.1 256.7 1452.5 263.2 1456 265.2 1460.6 278.4 1463.7 272.5 1466.7 272.6 1469.8 267.5 1473.3 270.9 1476.7 278.4 1479.6 275.2 1482.5 267.8 1485.4 267.3 1488.2 260.2 1491.7 270.2 1495.2 283 1498.6 275.6 1502.1 265.2 1505.5 266.2 1509 269.9 1512.4 282.8 1515.9 291.1 1519.4 275.2 1522.8 263.6 1526.3 271 1529.7 274.5 1532.6 266.5 1535.5 265 1538.4 255.2 1541.2 252.1 1544.7 268.6 1548.2 280.7 1551.2 275.6 1554.3 274.9 1557.4 269.9 1560.4 266.4 1563.5 268.5 1566.6 265.2 1569.5 266.8 1572.4 275 1575.2 274.6 1578.1 280.7 1581 277.8 1583.9 269.6 1586.8 268.4 1589.6 261.3 1594.2 269.9 1597.1 263.4 1600 264.2 1602.9 256.1 1605.8 254.4 1608.4 265.3 1611.1 272.2 1613.8 283 1616.4 278.4 1619 268.5 1621.6 266.3 1624.2 257.9 1627.3 261.6 1630.3 270.8 1633.4 274.5 1636.5 273.3 1639.6 275.6 1642.6 274.5 1645.5 269.4 1648.4 268.3 1651.3 261.5 1654.1 259 1657.6 269.4 1661.1 277.2 1664.5 269.7 1668 265.2 1670.7 269.7 1673.5 268.6 1676.3 276.3 1679 274.1 1681.8 279.5 1684.7 278.7 1687.6 272.5 1690.4 272 1693.3 267.5 1696 258.7 1698.7 257.1 1701.4 248.7 1706 281.4 1708.9 288.4 1711.8 300.3 1715.2 276.4 1718.7 249.8 1721.5 263.3 1724.4 279.5 1727.1 277.5 1729.8 271.2 1732.5 269.9 1735.6 268.6 1738.6 262.4 1741.7 261.3 1744.5 263.9 1747.2 262.9 1750 265.2 1753.8 271.5 1757.3 263.4 1760.7 252.1 1763.8 253.2 1766.9 261.4 1770 262.9 1772.5 265.7 1775.1 273.5 1777.7 275.4 1780.3 281.8 1783.4 277 1786.5 266.9 1789.5 262.5 1792.2 269.1 1794.9 270 1797.6 277.2 1800.3 268.8 1803 255.2 1805.7 247.5 1808.4 254.5 1811 258.1 1813.7 265.2 1817.2 275.8 1820.6 281.8 1824.1 276.9 1827.6 276.8 1830.6 279.6 1833.7 278 1836.8 280.7 1839.7 271.2 1842.5 256.7 1845.2 257.6 1847.9 263.6 1850.6 265.2 1854.1 269.8 1857.5 279.5 1860.2 276.7 1862.9 268.5 1865.6 265.2 1866.7 286.4 1869.6 267.1 1872.5 244 1875.4 256.5 1878.2 272.2 1881.7 281.2 1885.2 286.4 1889.8 272.2 1893.2 264.5 1896.7 260.2 1899.8 266.6 1902.8 267.5 1905.9 274.5 1909.4 269.4 1912.8 261.3 1916.3 264.4 1919.7 272.2 1923.2 271.3 1926.6 265.9 1929.7 265.5 1932.8 271.4 1935.9 272.2 1940.5 279.5 1943.9 272.3 1947.4 269.9 1950.4 269.2 1953.5 262.8 1956.6 261.3 1960 256.9 1963.5 247.5 1967 258 1970.4 272.2 1973 278.5 1975.6 280.8 1978.2 289.8 1980.8 292.2 1983.5 284.8 1986.2 283.3 1988.8 276.8 1992.3 268.9 1995.8 265.9 1998.6 264.4 2001.5 258.6 2004.4 260.2 2007.3 255.6 2010.4 258.9 2013.4 269.4 2016.5 272.6 2019.4 266.5 2022.3 267 2025.1 258.9 2028 256.7 2031.5 270 2034.9 278.4 2038 273.8 2041.1 274.9 2044.1 269.9 2047.6 265.3 2051.1 265.2 2053.9 265.6 2056.8 260.4 2059.7 263.6 2062.6 260.2 2065.7 260.6 2068.7 265.5 2071.8 265.2 2074.7 265.8 2077.6 271.8 2080.4 271.1 2083.3 274.5 2086.8 279.1 2090.2 279.5 2093 274.2 2095.8 274.4 2098.5 267.2 2101.3 266 2104.1 261.3 2107.1 264.5 2110.2 273.2 2113.3 276.1 2116 265.6 2118.8 261.5 2121.6 248.9 2124.3 244.4 2127.1 234.8 2131.7 265.2 2134.5 261.7 2137.2 262.3 2140 258.3 2142.8 262.2 2145.6 272.4 2148.4 276.1 2153 259 2155.9 263.9 2158.8 273 2161.6 275.4 2164.5 283 2168 278.3 2171.4 269.9 2174.9 271.8 2178.3 276.1 2181.4 270.9 2184.5 261.1 2187.6 256.7 2191 264.9 2194.5 269.9 2197.9 272.1 2201.4 279.5 2204.5 271.1 2207.5 257.4 2210.6 248.7 2213.5 270.6 2216.4 289.9 2219 281.4 2221.7 278.4 2224.4 269.9 2227.5 263.7 2230.6 262.9 2233.6 255.6 2237.1 258.6 2240.6 265.2 2243.6 261.6 2246.7 251.3 2249.8 247.5 2252.1 291.1 2255.5 279.3 2259 262.9 2261.9 271.8 2264.7 283 2267.6 279 2270.5 269.9 2275.1 293.4 2279.7 265.2 2284.3 262.9 2287.2 256.7 2290.1 254.4 2291.2 258.3" stroke="#00ff00" stroke-width="6.2" fill="none"/>
</g>
<text x="184.5" y="540.6" font-size="49.5" fill="#262626" stroke="#262626" stroke-width="1.0" text-anchor="middle">0</text>
<text x="397.6" y="540.6" font-size="49.5" fill="#262626" stroke="#262626" stroke-width="1.0" text-anchor="middle">100</text>
<text x="610.7" y="540.6" font-size="49.5" fill="#262626" stroke="#262626" stroke-width="1.0" text-anchor="middle">200</text>
<text x="823.8" y="540.6" font-size="49.5" fill="#262626" stroke="#262626" stroke-width="1.0" text-anchor="middle">300</text>
<text x="1036.9" y="540.6" font-size="49.5" fill="#262626" stroke="#262626" stroke-width="1.0" text-anchor="middle">400</text>
<text x="1250" y="540.6" font-size="49.5" fill="#262626" stroke="#262626" stroke-width="1.0" text-anchor="middle">500</text>
<text x="1463.1" y="540.6" font-size="49.5" fill="#262626" stroke="#262626" stroke-width="1.0" text-anchor="middle">600</text>
<text x="1676.2" y="540.6" font-size="49.5" fill="#262626" stroke="#262626" stroke-width="1.0" text-anchor="middle">700</text>
<text x="1889.3" y="540.6" font-size="49.5" fill="#262626" stroke="#262626" stroke-width="1.0" text-anchor="middle">800</text>
<text x="2102.4" y="540.6" font-size="49.5" fill="#262626" stroke="#262626" stroke-width="1.0" text-anchor="middle">900</text>
<text x="2315.5" y="540.6" font-size="49.5" fill="#262626" stroke="#262626" stroke-width="1.0" text-anchor="middle">1000</text>
<text x="168" y="485" font-size="49.5" fill="#262626" stroke="#262626" stroke-width="1.0" text-anchor="end">-0.2</text>
<text x="168" y="289.3" font-size="49.5" fill="#262626" stroke="#262626" stroke-width="1.0" text-anchor="end">0</text>
<text x="168" y="93.6" font-size="49.5" fill="#262626" stroke="#262626" stroke-width="1.0" text-anchor="end">0.2</text>
<text x="1250" y="607.7" font-size="54.3" fill="#262626" stroke="#262626" stroke-width="1.0" text-anchor="middle">Time (sec)</text>
<text transform="translate(58 274) rotate(-90)" font-size="54.3" fill="#262626" stroke="#262626" stroke-width="1.0" text-anchor="middle">East (m/s)</text>
<path d="M399.1 727V1126.4M612.2 727V1126.4M825.3 727V1126.4M1038.4 727V1126.4M1251.5 727V1126.4M1464.6 727V1126.4M1677.7 727V1126.4M1890.8 727V1126.4M2103.9 727V1126.4M186 1120.5H2317M186 930.8H2317M186 741H2317" stroke="#dedede" stroke-width="3.4" fill="none"/>
<path d="M186 1126.4v-22.9M186 727v22.9M399.1 1126.4v-22.9M399.1 727v22.9M612.2 1126.4v-22.9M612.2 727v22.9M825.3 1126.4v-22.9M825.3 727v22.9M1038.4 1126.4v-22.9M1038.4 727v22.9M1251.5 1126.4v-22.9M1251.5 727v22.9M1464.6 1126.4v-22.9M1464.6 727v22.9M1677.7 1126.4v-22.9M1677.7 727v22.9M1890.8 1126.4v-22.9M1890.8 727v22.9M2103.9 1126.4v-22.9M2103.9 727v22.9M2317 1126.4v-22.9M2317 727v22.9" stroke="#262626" stroke-width="3.85" fill="none"/>
<path d="M186 1120.5h22.9M2317 1120.5h-22.9M186 930.8h22.9M2317 930.8h-22.9M186 741h22.9M2317 741h-22.9" stroke="#262626" stroke-width="3" fill="none"/>
<rect x="186" y="727" width="2131" height="399.4" stroke="#262626" stroke-width="3.85" fill="none"/>
<clipPath id="c1"><rect x="182.4" y="723.4" width="2138.2" height="406.6"/></clipPath>
<g clip-path="url(#c1)" stroke-linejoin="round" stroke-linecap="round">
<path d="M465.7 927.5 469.2 915.7 472.6 906.3 475.7 903.7 478.8 898.7 481.8 895.9 485.3 917.5 488.8 936.7 493.4 909.7 496.4 909.7 499.5 912.3 502.6 912 505.7 913.4 508.7 916.5 511.8 917.8 514.7 917.5 517.6 920.6 520.4 919.9 523.3 921.2 526.8 928.6 530.2 934.4 533 932.7 535.8 933.2 538.5 931.1 541.3 931.4 544.1 929.8 547.1 933.6 550.2 939.1 553.3 942.9 556 937 558.6 934.1 561.3 927.9 564 924.6 566.7 918.5 569.4 914.3 574 956.7 578.6 912 581.5 910.9 586.1 945.9 589.6 991.3 594.2 868.2 597.1 881.7 600 892.9 604.6 899.8 607.1 872.8 609.6 847.5 613.8 888.3 616.1 1012 620.7 934.4 625.3 902.8 628.4 908.9 631.4 911.9 634.5 918.2 637.6 916.3 640.7 912.4 643.7 910.9 646.6 911.8 649.5 910.1 652.4 912.1 655.3 911.3 657.9 905 660.6 900.8 663.3 894.7 666.2 913.7 669.1 934.4 671.4 984.4 674.8 948.9 678.3 911.3 681.2 843.7 684.1 778.4 688.7 796.1 691.5 831.5 694.4 865.2 696.7 934.4 699 951 702.1 959.9 705.2 971.7 708.2 980.5 712.9 1012 716.3 995.4 719.8 980.5 723.2 958.2 726.7 934.4 729.2 940 731.7 948.7 734.2 953.2 736.7 961.9 739.2 966.8 741.7 974 744.5 955.1 747.4 934.4 752 980.9 755.5 940.8 758.9 901.7 762.4 905.7 765.9 907.4 769.3 933.7 772.8 961.3 775.6 955.4 778.5 946.9 781.4 941.9 784.3 934.4 786.9 927.1 789.6 922.2 792.2 914 794.8 909.4 797.5 900.9 800.1 896.3 802.7 889 806.2 910.9 809.6 934.4 813.1 948.4 816.5 961.3 820 928.7 823.5 897 826.5 914 829.6 928.4 832.7 945.9 835.2 937.2 837.7 926.3 840.2 918.3 842.7 906.9 845.2 899.5 847.6 889 852.3 983.2 854.9 960.1 857.4 939.3 860 915.5 862.6 893.6 866.1 917.4 869.5 939 874.1 878.6 877.2 883.6 880.3 890.7 883.4 895.9 886.1 906.5 888.9 919.4 891.7 928.5 894.4 941.5 897.2 952.1 899.9 951.7 902.6 954.3 905.3 953.9 907.9 955.7 910.6 955.4 913.3 956.7 916.4 943.2 919.5 926.8 922.5 913.2 927.1 967.1 929.7 948.4 932.3 926.8 934.9 908.2 937.5 887.8 940.2 907 942.9 929.2 945.6 948.7 948.3 934.1 951 922.2 953.6 907.4 956.5 909.2 959.4 912 962.5 934.4 965.5 955.1 968.6 977.5 970.4 976.3 975 888.3 978.4 876.3 983 922.9 987.6 970.5 990.2 971.3 992.8 970 995.4 971.4 998 970.5 1001.5 819.2 1006.1 728.2 1009.5 728.2 1014.1 796.1 1017 805.5 1019.9 816.4 1022.8 826.6 1025.7 835.3 1028.5 866.9 1031.4 899.8 1036 957.4 1040.6 972.9 1043.5 973.2 1046.4 971 1049.3 972.8 1052.2 971.2 1055 972.5 1057.9 976.6 1060.8 977.6 1063.7 980.9 1067.1 964.4 1070.6 945.9 1073.3 949.1 1076 955.5 1078.7 959 1081.4 960.7 1084 964.4 1086.7 965.9 1090.2 946.7 1093.6 929.8 1096.2 939.4 1098.8 947 1101.4 957.6 1104 965.9 1106.7 947.3 1109.4 930.5 1112.1 912 1115.5 957 1119 1003.5 1121.3 1031.6 1124.7 1018.5 1128.2 1003.5 1129.4 897 1132 893.3 1134.7 892.8 1137.4 889 1140 884.5 1142.6 882.2 1145.2 877.2 1147.8 874 1150.4 878.4 1153 880.1 1155.6 885.7 1158.2 888.3 1161.6 904.8 1165.1 922.9 1167.9 916.7 1170.8 907.1 1173.7 902 1176.6 893.6 1180 908.7 1183.5 925.2 1186.2 932.2 1188.9 936.7 1191.6 944.2 1194.3 948.6 1196.9 956.2 1199.6 961.3 1204.2 877.5 1208.8 934.4 1213.5 947.5 1216.3 954.1 1219.2 963.8 1222.1 970.2 1225 978.6 1228.4 969 1231.9 957.4 1234.8 975.5 1237.6 994.7 1241.1 924.7 1244.6 853.3 1247.4 869.7 1250.3 888.3 1253.8 880.9 1256.7 905.9 1259.5 929.8 1263 939.3 1266.5 951 1269 941.2 1271.5 929.1 1274.1 920.4 1276.6 908 1279.1 898.2 1282 916.8 1284.9 934.4 1289.5 1026.5 1294.1 1126.4 1297.6 1090.2 1301 1049.6 1305.6 980.5 1310.2 934.4 1313.3 927.7 1316.4 918.4 1319.4 912 1322.2 910.6 1325 906.4 1327.7 906.1 1330.5 901.9 1333.3 900.5 1336.2 901.6 1339 899.5 1341.9 901.1 1344.8 900.5 1347.3 902.2 1349.9 905.7 1352.4 906.6 1354.9 910.9 1357.5 911.4 1360 914.3 1363.8 934.4 1368.4 868.2 1373 888.3 1376.5 932.1 1380 968.3 1383.4 1003.5 1388 1027 1392.6 980.5 1396.1 911.3 1400.7 825.6 1405.3 865.2 1409.9 934.4 1412.8 954.5 1415.7 975.8 1418.5 982.2 1421.4 986.7 1424.5 979.7 1427.6 976 1430.6 968.9 1433.5 976.7 1436.4 985.5 1439.3 966.3 1442.2 945.9 1445.2 949.1 1448.3 954.7 1451.4 957.9 1454.3 954.3 1457.1 953.8 1460 949.5 1462.9 948.2 1466.4 925.1 1469.8 899.8 1472.7 887.5 1475.6 877.5 1478.5 894.9 1481.3 911.3 1485.9 1026.5 1488.8 1051.7 1491.7 1078.8 1494.6 1041.9 1497.5 1003.5 1502.1 934.4 1505.5 917.1 1509 902.1 1512.4 882.9 1515.9 861.3 1520.5 888.3 1524 891 1527.4 894.7 1530.3 891.8 1533.2 887.8 1535.9 906.4 1538.6 927.4 1541.2 945.9 1544.1 966.9 1547 989 1549.7 982.8 1552.4 975 1555.1 968.9 1559.7 934.4 1563.1 923.6 1566.6 911.3 1570 886.9 1573.5 863.6 1577 878.8 1580.4 892.4 1583.9 891.7 1587.3 892.4 1590.4 873.6 1593.5 852.3 1596.5 833.7 1601.2 911.3 1603.5 1073.1 1606.9 1039 1610.4 1003.5 1613.8 968.4 1617.3 934.4 1620.4 932.1 1623.4 927.2 1626.5 925.2 1629.4 924.5 1632.3 920.8 1635.1 921 1638 918.2 1640.9 916.1 1643.8 916.9 1646.7 914.4 1649.5 914.3 1652.4 917.9 1655.3 918.8 1658.2 923.6 1661.1 925.2 1663.7 924.2 1666.4 925.6 1669.1 923.2 1671.8 924.1 1674.5 922.5 1677.2 922.9 1679.8 927.1 1682.5 928.5 1685.1 933.9 1687.7 935.1 1690.4 940.3 1693 942 1695.6 945.9 1699.1 962.8 1702.5 978.6 1706 944.2 1709.4 911.3 1712.9 868.6 1716.4 824.5 1719.8 839.3 1723.3 856 1727.9 911.3 1731.3 918 1734.8 922.9 1738.2 936.7 1741.7 952.1 1744.5 947.2 1747.2 939.3 1750 934.4 1752.5 944.8 1755 953.3 1758.4 880.9 1761.9 907.1 1765.3 934.4 1768.2 944.5 1771.1 953.3 1773.6 951.9 1776.2 953.2 1778.7 950.9 1781.2 952 1783.8 950.5 1786.7 940.1 1789.5 931.9 1792.4 920.1 1795.3 911.3 1798.1 916.8 1800.8 920 1803.6 925.8 1806.4 928.6 1809.1 934.4 1813.7 922.4 1817.2 943.9 1820.6 963.6 1823.5 958.3 1826.4 955.9 1829.3 949.4 1832.2 945.9 1835.2 949.7 1838.3 950.5 1841.4 954.4 1844.5 948.6 1847.5 940.1 1850.6 934.4 1853.7 941.6 1856.7 946.6 1859.8 954.4 1862.7 899.5 1865.6 842.2 1869.7 803.7 1872.3 828.1 1874.8 853.7 1877.1 980.5 1878.2 1058.1 1881.7 1050.9 1885.2 1042.7 1889.8 957.4 1894.4 884.4 1899 899.8 1902.2 875.6 1905.4 853.3 1907.9 860.5 1910.4 865.5 1912.8 872.9 1917.4 888.3 1920.3 880.2 1923.2 870.5 1926.6 922.9 1929.7 926.2 1932.8 931.2 1935.9 934.4 1938.4 922.2 1941 913.1 1943.6 900.3 1946.2 890.1 1948.9 894 1951.6 894.9 1954.3 898.2 1958.9 934.4 1961.8 961.3 1964.7 986.7 1967.5 980.5 1970.4 975.8 1973.3 982.3 1976.2 986.7 1979.6 934.4 1984.2 839.4 1987.7 857.3 1991.2 876.8 1995.8 911.3 1999.2 921.7 2002.7 929.8 2005.6 932.7 2008.4 938.9 2011.3 941.2 2014.2 945.9 2018.8 911.3 2021.7 885.4 2024.6 857.9 2029.2 911.3 2032.1 933.9 2034.9 957.4 2038 964.3 2041.1 968.7 2044.1 975.2 2047.6 980 2051.1 983.2 2053.9 973 2056.8 965.7 2059.7 954.6 2062.6 945.9 2066 958.8 2069.5 970.5 2072.6 953.7 2075.6 939.3 2078.7 922.9 2082.2 915.2 2085.6 908.6 2089.1 912 2092.5 914.3 2097.1 954.4 2100 955 2102.9 958.8 2105.8 958.8 2108.7 961.3 2113.3 842.2 2116.3 817.4 2119.4 790.5 2122.5 765.7 2125.9 781.8 2129.4 796.1 2134 842.2 2137 858.6 2140 876.8 2143.8 934.4 2147.2 944.3 2150.7 952.8 2153.5 954.4 2156.2 957.9 2159 958.5 2161.8 962.3 2164.5 963.6 2167.3 961.6 2170 961.7 2172.8 958.9 2175.6 959.5 2178.3 957.4 2181 964.3 2183.7 973.1 2186.4 979.8 2191 915.5 2195.6 934.4 2198.5 994.9 2201.4 1057 2204.8 1026.5 2207.1 893.6 2210 903.5 2212.9 911.3 2217.5 948.2 2221 926.8 2224.4 906.7 2227.5 901.9 2230.6 893.8 2233.6 889 2238.2 911.3 2241.7 901.6 2245.2 890.6 2247.8 888.3 2250.5 889.1 2253.2 887.1 2256.1 903.8 2259 922.9 2261.9 908 2264.7 891.5 2267.6 877.3 2270.5 861.3 2274 873.8 2277.4 888.3 2282 934.4 2286.6 980.5 2290.1 1009.7L2290.1 937.8 2286.6 933 2282 927.3 2277.4 922.5 2274 925.2 2270.5 931.1 2267.6 936 2264.7 939.5 2261.9 940.7 2259 941.9 2256.1 938.8 2253.2 918.2 2250.5 903.5 2247.8 916.2 2245.2 928.9 2241.7 937.5 2238.2 942.1 2233.6 940.7 2230.6 934.8 2227.5 928.8 2224.4 922.9 2221 917.4 2217.5 912 2212.9 934.3 2210 948.2 2207.1 944.9 2204.8 938.8 2201.4 929.8 2198.5 925.9 2195.6 922 2191 923.3 2186.4 928 2183.7 923.8 2181 919.6 2178.3 915.5 2175.6 921.2 2172.8 926.9 2170 932.7 2167.3 938.4 2164.5 940 2161.8 935.7 2159 931.5 2156.2 927.3 2153.5 928.6 2150.7 932.7 2147.2 937.8 2143.8 942.9 2140 918.9 2137 922.8 2134 926.8 2129.4 934.5 2125.9 941.6 2122.5 948.7 2119.4 938.6 2116.3 928.5 2113.3 918.4 2108.7 918.7 2105.8 928.5 2102.9 931 2100 922.7 2097.1 914.3 2092.5 925.3 2089.1 933.5 2085.6 941.7 2082.2 935.8 2078.7 929.8 2075.6 935.1 2072.6 940.4 2069.5 939.9 2066 937.1 2062.6 934.4 2059.7 929.2 2056.8 924 2053.9 918.8 2051.1 923.2 2047.6 931.3 2044.1 939.4 2041.1 928.8 2038 923.8 2034.9 924.4 2032.1 924.9 2029.2 929.9 2024.6 943.5 2021.7 942 2018.8 940.6 2014.2 938.3 2011.3 936.2 2008.4 931.7 2005.6 927.1 2002.7 922.6 1999.2 920.9 1995.8 926.7 1991.2 934.4 1987.7 931.2 1984.2 928 1979.6 928.5 1976.2 932.5 1973.3 935.8 1970.4 939.1 1967.5 941.3 1964.7 939 1961.8 936.7 1958.9 934.4 1954.3 921.6 1951.6 914.2 1948.9 917.3 1946.2 924.8 1943.6 932 1941 933.2 1938.4 931.5 1935.9 929.8 1932.8 929.8 1929.7 929.8 1926.6 929.8 1923.2 928.7 1920.3 926.1 1917.4 923.5 1912.8 930.4 1910.4 934 1907.9 937.6 1905.4 939.5 1902.2 931.5 1899 923.5 1894.4 930.8 1889.8 938.1 1885.2 933.9 1881.7 922.2 1878.2 920 1877.1 925.8 1874.8 937.2 1872.3 938.7 1869.7 930.9 1865.6 918.2 1862.7 924 1859.8 929.8 1856.7 919.7 1853.7 912.5 1850.6 925.6 1847.5 938.7 1844.5 935.4 1841.4 915.9 1838.3 928.2 1835.2 954.2 1832.2 943.5 1829.3 933.5 1826.4 926.4 1823.5 923.8 1820.6 921.2 1817.2 927.7 1813.7 934.2 1809.1 942.9 1806.4 934.9 1803.6 926.9 1800.8 917.5 1798.1 906.7 1795.3 895.9 1792.4 912.8 1789.5 929.8 1786.7 939.2 1783.8 948.7 1781.2 943.4 1778.7 938.2 1776.2 933.9 1773.6 932.2 1771.1 930.5 1768.2 925.6 1765.3 918.7 1761.9 915.2 1758.4 921.5 1755 927.7 1752.5 929 1750 927.5 1747.2 932.2 1744.5 937 1741.7 941.7 1738.2 937.3 1734.8 932.8 1731.3 928.6 1727.9 924.9 1723.3 920.1 1719.8 927.3 1716.4 938.4 1712.9 951.3 1709.4 950.3 1706 942.3 1702.5 934.4 1699.1 927.2 1695.6 920.1 1693 922.9 1690.4 925.6 1687.7 928.4 1685.1 928.5 1682.5 926.1 1679.8 923.7 1677.2 921.2 1674.5 928.3 1671.8 935.4 1669.1 939.3 1666.4 939.1 1663.7 938.8 1661.1 938.5 1658.2 937.1 1655.3 931 1652.4 925 1649.5 918.9 1646.7 921.6 1643.8 924.3 1640.9 926.9 1638 934.8 1635.1 944.1 1632.3 953.3 1629.4 941.5 1626.5 929.8 1623.4 922.1 1620.4 916.2 1617.3 921.6 1613.8 927.7 1610.4 932.5 1606.9 936.5 1603.5 940.6 1601.2 929.2 1596.5 920.8 1593.5 924.8 1590.4 928.8 1587.3 931.9 1583.9 935.1 1580.4 938.3 1577 931.5 1573.5 924.6 1570 921.3 1566.6 924.9 1563.1 928.6 1559.7 932.8 1555.1 938.8 1552.4 940.4 1549.7 930.7 1547 922.8 1544.1 916.8 1541.2 910.9 1538.6 921.2 1535.9 931.5 1533.2 941.7 1530.3 931.1 1527.4 920.5 1524 913.8 1520.5 919.2 1515.9 940.3 1512.4 966.4 1509 954.8 1505.5 927.6 1502.1 907.3 1497.5 911.3 1494.6 939 1491.7 952.9 1488.8 946.3 1485.9 939.7 1481.3 932.4 1478.5 929.9 1475.6 927.5 1472.7 924.8 1469.8 922.2 1466.4 920.4 1462.9 921.2 1460 922 1457.1 925 1454.3 931.7 1451.4 938.3 1448.3 932.5 1445.2 926.6 1442.2 922.1 1439.3 918.2 1436.4 914.3 1433.5 920.8 1430.6 927.2 1427.6 932.8 1424.5 937.6 1421.4 938.1 1418.5 931.9 1415.7 929.2 1412.8 931.8 1409.9 934.4 1405.3 916.6 1400.7 912 1396.1 930.3 1392.6 947.7 1388 934.7 1383.4 941.1 1380 945.6 1376.5 942.7 1373 930.3 1368.4 914.8 1363.8 921.2 1360 929.8 1357.5 932.9 1354.9 936 1352.4 933.8 1349.9 928.4 1347.3 923.1 1344.8 917.8 1341.9 924.9 1339 932 1336.2 939.2 1333.3 940.1 1330.5 939.6 1327.7 939 1325 938.5 1322.2 934.6 1319.4 929.2 1316.4 923.1 1313.3 917 1310.2 921.8 1305.6 934.4 1301 937.4 1297.6 935.8 1294.1 926.4 1289.5 923.7 1284.9 930.8 1282 934 1279.1 932.1 1276.6 930.4 1274.1 932.7 1271.5 937.2 1269 941.8 1266.5 946.4 1263 930.3 1259.5 914.3 1256.7 911.9 1253.8 909.5 1250.3 912.7 1247.4 917.9 1244.6 923.1 1241.1 934.1 1237.6 947.6 1234.8 951.9 1231.9 951.7 1228.4 951.3 1225 951 1222.1 934.4 1219.2 917.8 1216.3 922.4 1213.5 927 1208.8 934.4 1204.2 940.8 1199.6 933.3 1196.9 920.7 1194.3 908.1 1191.6 916.7 1188.9 928.9 1186.2 941.1 1183.5 953.3 1180 943.6 1176.6 933.9 1173.7 928.5 1170.8 933.7 1167.9 938.9 1165.1 944.1 1161.6 934.6 1158.2 925.2 1155.6 919.1 1153 920.5 1150.4 921.9 1147.8 923.3 1145.2 924.7 1142.6 921.9 1140 916.9 1137.4 912 1134.7 920 1132 928 1129.4 936.1 1128.2 939.5 1124.7 943.6 1121.3 935.3 1119 929.8 1115.5 925.5 1112.1 921.2 1109.4 938.6 1106.7 941.1 1104 923.4 1101.4 928.4 1098.8 933.3 1096.2 927.6 1093.6 918.9 1090.2 929.2 1086.7 939.5 1084 940.6 1081.4 936.6 1078.7 931.8 1076 925.8 1073.3 919.8 1070.6 928.8 1067.1 943.7 1063.7 938.1 1060.8 927.5 1057.9 927.5 1055 927.5 1052.2 924 1049.3 919.8 1046.4 915.5 1043.5 923.6 1040.6 931.8 1036 937 1031.4 934.4 1028.5 924.4 1025.7 914.3 1022.8 923.3 1019.9 932.3 1017 938.3 1014.1 932.6 1009.5 923.5 1006.1 928.4 1001.5 942.8 998 936.8 995.4 926.1 992.8 918.6 990.2 922.5 987.6 926.3 983 920.9 978.4 920.9 975 935.6 970.4 959 968.6 959 965.5 946 962.5 933 959.4 924.4 956.5 917.6 953.6 910.9 951 918.7 948.3 926.5 945.6 934.4 942.9 928.2 940.2 922 937.5 915.8 934.9 916.6 932.3 922.9 929.7 929.1 927.1 934.5 922.5 943.9 919.5 947.7 916.4 943.9 913.3 940.1 910.6 936.8 907.9 932.1 905.3 924.4 902.6 916.6 899.9 918.5 897.2 924.4 894.4 930.4 891.7 933.8 888.9 931.9 886.1 930.1 883.4 932.6 880.3 936.4 877.2 934.4 874.1 926.6 869.5 914.9 866.1 927.7 862.6 951.2 860 954.6 857.4 946.7 854.9 938.8 852.3 930.8 847.6 916.6 845.2 922.3 842.7 928 840.2 932.9 837.7 937.4 835.2 941.9 832.7 946.4 829.6 933.8 826.5 918.1 823.5 899.4 820 912.5 816.5 925.6 813.1 935.8 809.6 940.1 806.2 939.6 802.7 929.5 800.1 922.7 797.5 921.6 794.8 920.5 792.2 919.4 789.6 926.6 786.9 938.8 784.3 951 781.4 936.1 778.5 921.2 775.6 930.3 772.8 939.4 769.3 934.6 765.9 929.8 762.4 927 758.9 924.2 755.5 925.4 752 934.4 747.4 924.8 744.5 921.6 741.7 929.2 739.2 935.8 736.7 935.8 734.2 931.7 731.7 927.6 729.2 923.4 726.7 923.4 723.2 930 719.8 936.5 716.3 943 712.9 938.8 708.2 925.8 705.2 936 702.1 946.1 699 942.9 696.7 937.2 694.4 930.5 691.5 921.3 688.7 913.6 684.1 913.8 681.2 921.8 678.3 929.8 674.8 944.6 671.4 953.3 669.1 951 666.2 948.1 663.3 942.9 660.6 934.9 657.9 926.9 655.3 918.9 652.4 924.4 649.5 929.8 646.6 920.8 643.7 920 640.7 932.2 637.6 942.8 634.5 942.2 631.4 939.1 628.4 928.5 625.3 929.2 620.7 936 616.1 930.3 613.8 921.2 609.6 926.4 607.1 929.5 604.6 924.2 600 913.2 597.1 920.6 594.2 928 589.6 939.9 586.1 933.2 581.5 927.3 578.6 935.2 574 953.3 569.4 938 566.7 929.1 564 920.2 561.3 923.1 558.6 927.9 556 932.8 553.3 937.6 550.2 940.6 547.1 936.1 544.1 931.5 541.3 927.4 538.5 926.9 535.8 933.5 533 940.2 530.2 940.7 526.8 930.8 523.3 926.3 520.4 924.9 517.6 923.4 514.7 925.7 511.8 930.6 508.7 935.7 505.7 933.5 502.6 923.9 499.5 917.4 496.4 920.2 493.4 923.1 488.8 927.5 485.3 939.8 481.8 952.1 478.8 913.5 475.7 919.2 472.6 925.4 469.2 933.1 465.7 935.7Z" fill="#ff0000"/>
<path d="M465.7 927.5 469.2 915.7 472.6 906.3 475.7 903.7 478.8 898.7 481.8 895.9 485.3 917.5 488.8 936.7 493.4 909.7 496.4 909.7 499.5 912.3 502.6 912 505.7 913.4 508.7 916.5 511.8 917.8 514.7 917.5 517.6 920.6 520.4 919.9 523.3 921.2 526.8 928.6 530.2 934.4 533 932.7 535.8 933.2 538.5 931.1 541.3 931.4 544.1 929.8 547.1 933.6 550.2 939.1 553.3 942.9 556 937 558.6 934.1 561.3 927.9 564 924.6 566.7 918.5 569.4 914.3 574 956.7 578.6 912 581.5 910.9 586.1 945.9 589.6 991.3 594.2 868.2 597.1 881.7 600 892.9 604.6 899.8 607.1 872.8 609.6 847.5 613.8 888.3 616.1 1012 620.7 934.4 625.3 902.8 628.4 908.9 631.4 911.9 634.5 918.2 637.6 916.3 640.7 912.4 643.7 910.9 646.6 911.8 649.5 910.1 652.4 912.1 655.3 911.3 657.9 905 660.6 900.8 663.3 894.7 666.2 913.7 669.1 934.4 671.4 984.4 674.8 948.9 678.3 911.3 681.2 843.7 684.1 778.4 688.7 796.1 691.5 831.5 694.4 865.2 696.7 934.4 699 951 702.1 959.9 705.2 971.7 708.2 980.5 712.9 1012 716.3 995.4 719.8 980.5 723.2 958.2 726.7 934.4 729.2 940 731.7 948.7 734.2 953.2 736.7 961.9 739.2 966.8 741.7 974 744.5 955.1 747.4 934.4 752 980.9 755.5 940.8 758.9 901.7 762.4 905.7 765.9 907.4 769.3 933.7 772.8 961.3 775.6 955.4 778.5 946.9 781.4 941.9 784.3 934.4 786.9 927.1 789.6 922.2 792.2 914 794.8 909.4 797.5 900.9 800.1 896.3 802.7 889 806.2 910.9 809.6 934.4 813.1 948.4 816.5 961.3 820 928.7 823.5 897 826.5 914 829.6 928.4 832.7 945.9 835.2 937.2 837.7 926.3 840.2 918.3 842.7 906.9 845.2 899.5 847.6 889 852.3 983.2 854.9 960.1 857.4 939.3 860 915.5 862.6 893.6 866.1 917.4 869.5 939 874.1 878.6 877.2 883.6 880.3 890.7 883.4 895.9 886.1 906.5 888.9 919.4 891.7 928.5 894.4 941.5 897.2 952.1 899.9 951.7 902.6 954.3 905.3 953.9 907.9 955.7 910.6 955.4 913.3 956.7 916.4 943.2 919.5 926.8 922.5 913.2 927.1 967.1 929.7 948.4 932.3 926.8 934.9 908.2 937.5 887.8 940.2 907 942.9 929.2 945.6 948.7 948.3 934.1 951 922.2 953.6 907.4 956.5 909.2 959.4 912 962.5 934.4 965.5 955.1 968.6 977.5 970.4 976.3 975 888.3 978.4 876.3 983 922.9 987.6 970.5 990.2 971.3 992.8 970 995.4 971.4 998 970.5 1001.5 819.2 1006.1 728.2 1009.5 728.2 1014.1 796.1 1017 805.5 1019.9 816.4 1022.8 826.6 1025.7 835.3 1028.5 866.9 1031.4 899.8 1036 957.4 1040.6 972.9 1043.5 973.2 1046.4 971 1049.3 972.8 1052.2 971.2 1055 972.5 1057.9 976.6 1060.8 977.6 1063.7 980.9 1067.1 964.4 1070.6 945.9 1073.3 949.1 1076 955.5 1078.7 959 1081.4 960.7 1084 964.4 1086.7 965.9 1090.2 946.7 1093.6 929.8 1096.2 939.4 1098.8 947 1101.4 957.6 1104 965.9 1106.7 947.3 1109.4 930.5 1112.1 912 1115.5 957 1119 1003.5 1121.3 1031.6 1124.7 1018.5 1128.2 1003.5 1129.4 897 1132 893.3 1134.7 892.8 1137.4 889 1140 884.5 1142.6 882.2 1145.2 877.2 1147.8 874 1150.4 878.4 1153 880.1 1155.6 885.7 1158.2 888.3 1161.6 904.8 1165.1 922.9 1167.9 916.7 1170.8 907.1 1173.7 902 1176.6 893.6 1180 908.7 1183.5 925.2 1186.2 932.2 1188.9 936.7 1191.6 944.2 1194.3 948.6 1196.9 956.2 1199.6 961.3 1204.2 877.5 1208.8 934.4 1213.5 947.5 1216.3 954.1 1219.2 963.8 1222.1 970.2 1225 978.6 1228.4 969 1231.9 957.4 1234.8 975.5 1237.6 994.7 1241.1 924.7 1244.6 853.3 1247.4 869.7 1250.3 888.3 1253.8 880.9 1256.7 905.9 1259.5 929.8 1263 939.3 1266.5 951 1269 941.2 1271.5 929.1 1274.1 920.4 1276.6 908 1279.1 898.2 1282 916.8 1284.9 934.4 1289.5 1026.5 1294.1 1126.4 1297.6 1090.2 1301 1049.6 1305.6 980.5 1310.2 934.4 1313.3 927.7 1316.4 918.4 1319.4 912 1322.2 910.6 1325 906.4 1327.7 906.1 1330.5 901.9 1333.3 900.5 1336.2 901.6 1339 899.5 1341.9 901.1 1344.8 900.5 1347.3 902.2 1349.9 905.7 1352.4 906.6 1354.9 910.9 1357.5 911.4 1360 914.3 1363.8 934.4 1368.4 868.2 1373 888.3 1376.5 932.1 1380 968.3 1383.4 1003.5 1388 1027 1392.6 980.5 1396.1 911.3 1400.7 825.6 1405.3 865.2 1409.9 934.4 1412.8 954.5 1415.7 975.8 1418.5 982.2 1421.4 986.7 1424.5 979.7 1427.6 976 1430.6 968.9 1433.5 976.7 1436.4 985.5 1439.3 966.3 1442.2 945.9 1445.2 949.1 1448.3 954.7 1451.4 957.9 1454.3 954.3 1457.1 953.8 1460 949.5 1462.9 948.2 1466.4 925.1 1469.8 899.8 1472.7 887.5 1475.6 877.5 1478.5 894.9 1481.3 911.3 1485.9 1026.5 1488.8 1051.7 1491.7 1078.8 1494.6 1041.9 1497.5 1003.5 1502.1 934.4 1505.5 917.1 1509 902.1 1512.4 882.9 1515.9 861.3 1520.5 888.3 1524 891 1527.4 894.7 1530.3 891.8 1533.2 887.8 1535.9 906.4 1538.6 927.4 1541.2 945.9 1544.1 966.9 1547 989 1549.7 982.8 1552.4 975 1555.1 968.9 1559.7 934.4 1563.1 923.6 1566.6 911.3 1570 886.9 1573.5 863.6 1577 878.8 1580.4 892.4 1583.9 891.7 1587.3 892.4 1590.4 873.6 1593.5 852.3 1596.5 833.7 1601.2 911.3 1603.5 1073.1 1606.9 1039 1610.4 1003.5 1613.8 968.4 1617.3 934.4 1620.4 932.1 1623.4 927.2 1626.5 925.2 1629.4 924.5 1632.3 920.8 1635.1 921 1638 918.2 1640.9 916.1 1643.8 916.9 1646.7 914.4 1649.5 914.3 1652.4 917.9 1655.3 918.8 1658.2 923.6 1661.1 925.2 1663.7 924.2 1666.4 925.6 1669.1 923.2 1671.8 924.1 1674.5 922.5 1677.2 922.9 1679.8 927.1 1682.5 928.5 1685.1 933.9 1687.7 935.1 1690.4 940.3 1693 942 1695.6 945.9 1699.1 962.8 1702.5 978.6 1706 944.2 1709.4 911.3 1712.9 868.6 1716.4 824.5 1719.8 839.3 1723.3 856 1727.9 911.3 1731.3 918 1734.8 922.9 1738.2 936.7 1741.7 952.1 1744.5 947.2 1747.2 939.3 1750 934.4 1752.5 944.8 1755 953.3 1758.4 880.9 1761.9 907.1 1765.3 934.4 1768.2 944.5 1771.1 953.3 1773.6 951.9 1776.2 953.2 1778.7 950.9 1781.2 952 1783.8 950.5 1786.7 940.1 1789.5 931.9 1792.4 920.1 1795.3 911.3 1798.1 916.8 1800.8 920 1803.6 925.8 1806.4 928.6 1809.1 934.4 1813.7 922.4 1817.2 943.9 1820.6 963.6 1823.5 958.3 1826.4 955.9 1829.3 949.4 1832.2 945.9 1835.2 949.7 1838.3 950.5 1841.4 954.4 1844.5 948.6 1847.5 940.1 1850.6 934.4 1853.7 941.6 1856.7 946.6 1859.8 954.4 1862.7 899.5 1865.6 842.2 1869.7 803.7 1872.3 828.1 1874.8 853.7 1877.1 980.5 1878.2 1058.1 1881.7 1050.9 1885.2 1042.7 1889.8 957.4 1894.4 884.4 1899 899.8 1902.2 875.6 1905.4 853.3 1907.9 860.5 1910.4 865.5 1912.8 872.9 1917.4 888.3 1920.3 880.2 1923.2 870.5 1926.6 922.9 1929.7 926.2 1932.8 931.2 1935.9 934.4 1938.4 922.2 1941 913.1 1943.6 900.3 1946.2 890.1 1948.9 894 1951.6 894.9 1954.3 898.2 1958.9 934.4 1961.8 961.3 1964.7 986.7 1967.5 980.5 1970.4 975.8 1973.3 982.3 1976.2 986.7 1979.6 934.4 1984.2 839.4 1987.7 857.3 1991.2 876.8 1995.8 911.3 1999.2 921.7 2002.7 929.8 2005.6 932.7 2008.4 938.9 2011.3 941.2 2014.2 945.9 2018.8 911.3 2021.7 885.4 2024.6 857.9 2029.2 911.3 2032.1 933.9 2034.9 957.4 2038 964.3 2041.1 968.7 2044.1 975.2 2047.6 980 2051.1 983.2 2053.9 973 2056.8 965.7 2059.7 954.6 2062.6 945.9 2066 958.8 2069.5 970.5 2072.6 953.7 2075.6 939.3 2078.7 922.9 2082.2 915.2 2085.6 908.6 2089.1 912 2092.5 914.3 2097.1 954.4 2100 955 2102.9 958.8 2105.8 958.8 2108.7 961.3 2113.3 842.2 2116.3 817.4 2119.4 790.5 2122.5 765.7 2125.9 781.8 2129.4 796.1 2134 842.2 2137 858.6 2140 876.8 2143.8 934.4 2147.2 944.3 2150.7 952.8 2153.5 954.4 2156.2 957.9 2159 958.5 2161.8 962.3 2164.5 963.6 2167.3 961.6 2170 961.7 2172.8 958.9 2175.6 959.5 2178.3 957.4 2181 964.3 2183.7 973.1 2186.4 979.8 2191 915.5 2195.6 934.4 2198.5 994.9 2201.4 1057 2204.8 1026.5 2207.1 893.6 2210 903.5 2212.9 911.3 2217.5 948.2 2221 926.8 2224.4 906.7 2227.5 901.9 2230.6 893.8 2233.6 889 2238.2 911.3 2241.7 901.6 2245.2 890.6 2247.8 888.3 2250.5 889.1 2253.2 887.1 2256.1 903.8 2259 922.9 2261.9 908 2264.7 891.5 2267.6 877.3 2270.5 861.3 2274 873.8 2277.4 888.3 2282 934.4 2286.6 980.5 2290.1 1009.7" stroke="#ff0000" stroke-width="6.2" fill="none"/>
<path d="M465.7 929.8 468.8 923.3 471.9 919 474.9 912 477.8 906.9 480.7 904 483.4 914.9 486.1 923.6 488.8 934.4 493.4 916.6 496.4 918 499.5 917.6 502.6 918.9 506 920.7 509.5 921.2 512.4 921.6 515.3 924.3 518.1 923.6 521 925.2 524.1 928.8 527.2 930.2 530.2 934.4 533 934.6 535.8 932 538.5 932.3 541.3 929.5 544.1 929.8 547.1 934.9 550.2 937.6 553.3 942.9 556.3 935.5 559.4 925.2 562.5 917.8 565.6 930.5 568.6 941.2 571.7 954.4 575.2 939.7 578.6 922.9 579.2 917.8 583.8 934.4 586.7 952.2 589.6 971.7 592.5 933.4 595.3 893.6 598.8 899.2 602.3 906.7 604.9 899.7 607.6 889.1 610.3 882.1 613.8 934.4 616.1 977.5 620.7 945.9 625.3 913.2 628.4 917 631.4 918.6 634.5 922.9 637.6 922.1 640.7 918.6 643.7 918.2 646.3 918.9 648.9 916.4 651.5 917.9 654.1 915.2 656.7 916.4 659.3 914.5 661.9 916 664.5 914.3 667.9 940.6 671.4 968.2 674.3 952.1 677.1 934.4 680 898.9 682.9 865.2 686.4 831.4 689.2 844.4 692.1 856 695.6 911.3 696.7 949.8 699.6 947.8 702.5 948.5 705.4 946 708.2 945.9 711.7 964.3 715.2 980.9 718.6 964.1 722.1 948.2 725.1 945.4 728.2 939.5 731.3 936.7 733.9 942.8 736.5 946.1 739.1 952.6 741.7 956.7 744.5 945 747.4 934.4 752 962.5 755.5 938.3 758.9 912 762.4 916.5 765.9 922.9 769.3 938 772.8 951 775.6 950.7 778.5 952.2 781.4 951.3 784.3 952.1 787.1 944.3 789.8 933.3 792.6 925.9 795.3 915.3 798.1 907.4 802.7 922.9 805.8 932.3 808.9 939.3 811.9 948.7 814.8 937.7 817.7 923.6 820.6 913.4 823.5 900.5 826.5 914.9 829.6 931.5 832.7 945.9 835.2 937.8 837.7 931.8 840.2 923.2 842.7 917.3 845.2 907.8 847.6 901.7 850.5 934.1 853.4 964.8 856.5 953.9 859.6 945 862.6 934.4 865.5 923.3 868.4 915.3 871.3 904 874.1 894.7 877.2 900 880.3 902.1 883.4 907.4 886.4 921 889.5 932.8 892.6 946.4 895.7 944.5 898.7 940.2 901.8 939 904.7 942.8 907.6 944.4 910.4 948.9 913.3 951 916.8 941.8 920.2 934.4 923.7 943.8 927.1 952.1 929.7 938.1 932.3 925.9 934.9 910.5 937.5 898.2 940.1 909.6 942.7 918.2 945.3 930.7 947.9 940.6 950.8 923.9 953.6 908.6 956.3 916.2 959 921.8 961.7 929.8 965.2 950.2 968.6 969.4 970.4 969.4 975 911.3 977.9 901.3 980.7 893.6 985.3 945.9 990 953.3 992.6 955.3 995.3 955.1 998 956.7 1001.5 865.2 1004.9 837.1 1008.4 807.2 1011.8 823.9 1015.3 842.2 1018.8 854.5 1022.2 864.8 1025.7 875.6 1029.1 888.3 1033.7 934.4 1036 951 1039.5 954.4 1042.9 956.7 1046 954.6 1049.1 955 1052.2 952.8 1055.2 956.3 1058.3 961.9 1061.4 964.8 1064.8 954.3 1068.3 945.9 1071.8 940.8 1075.2 934.4 1079.8 951 1083.3 953.3 1086.7 956.7 1090.2 946.3 1093.6 934.4 1098.2 939 1101.3 942.8 1104.4 949.4 1107.5 953.3 1112.1 915.5 1116.7 957.4 1119.6 974.4 1122.4 992.4 1125.9 975.8 1129.4 957.4 1130.5 934.4 1134 915.4 1137.4 898.2 1140.5 898.4 1143.6 896.6 1146.6 897 1149.7 901.2 1152.8 902.5 1155.9 906.7 1159.3 915.3 1162.8 922.9 1165.5 919.2 1168.3 917.7 1171.1 912.4 1173.8 911.4 1176.6 907.4 1180 916.3 1183.5 927.5 1187 922.2 1190.4 915.5 1193.5 926.7 1196.6 940.1 1199.6 951 1204.2 900.5 1208.8 922.9 1213.5 941.7 1216.3 947.4 1219.2 955.5 1222.1 959.7 1225 967.1 1228.4 957 1231.9 945.9 1234.8 959.2 1237.6 974 1241.1 928.5 1244.6 880.9 1247.4 895.6 1250.3 911.3 1253.8 892.4 1256.7 911.7 1259.5 929.8 1263 938.7 1266.5 948.7 1269.9 942.5 1273.4 934.4 1276.2 920.3 1279.1 908.6 1282 922.5 1284.9 934.4 1289.5 968.9 1294.1 1048.9 1297.6 1025.1 1301 1003.5 1305.6 968.9 1310.2 934.4 1313.3 929.5 1316.4 922.3 1319.4 917.8 1322.5 917.1 1325.6 912.9 1328.7 912 1331.4 912.3 1334 910.6 1336.7 912 1339.4 909.5 1342.1 910.9 1344.8 909.7 1347.3 910.5 1349.9 913.1 1352.4 912.9 1354.9 916.3 1357.5 916.2 1360 918.2 1363.8 934.4 1368.4 887.8 1371.9 911.7 1375.3 934.4 1378.8 944.7 1382.3 957.4 1385.1 972.6 1388 985.5 1390.9 971 1393.8 957.4 1396.1 934.4 1400.7 863.6 1403.6 888.1 1406.5 911.3 1409.1 921.7 1411.8 935.2 1414.5 945.9 1418 956 1421.4 968.2 1424.5 965.5 1427.6 960.3 1430.6 957.4 1433.5 960.5 1436.4 961.3 1439.3 951.8 1442.2 943.6 1445.2 946.4 1448.3 945.9 1451.4 948.7 1454.3 945.7 1457.1 940.4 1460 939.1 1462.9 934.4 1466.4 924.6 1469.8 915.9 1474.4 898.2 1477.9 911.4 1481.3 922.9 1484.8 950.8 1488.2 980.5 1492.9 1023.5 1496.3 991.1 1499.8 957.4 1503.2 933.4 1506.7 911.3 1509.4 906.2 1512.1 897.6 1514.7 892.4 1518.2 900.6 1521.7 906.7 1524.3 903.6 1527 903.1 1529.7 899.8 1534.3 901.7 1537.8 916.9 1541.2 934.4 1544.7 948.6 1548.2 961.3 1551.6 952.6 1555.1 945.9 1558.5 936.3 1562 925.2 1564.6 914.1 1567.2 906.1 1569.8 894.6 1572.4 885.5 1575 891.9 1577.7 896 1580.4 902.1 1583.9 901.8 1587.3 899.8 1590.4 889 1593.5 881.2 1596.5 870.5 1601.2 922.9 1603.5 1016.6 1606.9 991.6 1610.4 968.9 1613.8 952.7 1617.3 934.4 1620 932 1622.8 931.5 1625.6 928 1628.3 927.5 1631.1 925.2 1633.7 922.9 1636.4 924 1639 921.3 1641.6 921.9 1644.3 918.9 1646.9 919.9 1649.5 917.8 1652.3 919.1 1655.1 923.5 1657.8 924.1 1660.6 928.3 1663.4 929.8 1666.1 928.2 1668.9 928.4 1671.7 926 1674.4 927.1 1677.2 925.2 1679.8 927.2 1682.4 931.1 1685 932.3 1687.6 936.1 1690.1 937.1 1692.7 941.5 1695.3 942.6 1697.9 945.9 1701.4 954 1704.8 960.2 1709.4 911.3 1712.9 888.7 1716.4 868.2 1719.8 878.9 1723.3 888.3 1727.9 915.9 1730.6 921.1 1733.4 928.8 1736.2 933.5 1738.9 940.9 1741.7 946.4 1744.5 941.7 1747.2 939 1750 934.4 1753.8 929.8 1758.4 895.9 1761.9 914.6 1765.3 934.4 1768.8 942.1 1772.3 947.5 1775.1 947.2 1778 949.3 1780.9 948.4 1783.8 949.8 1786.7 941.3 1789.5 930 1792.4 922.1 1795.3 911.3 1798.4 918.3 1801.4 927.2 1804.5 934.4 1807.6 930.3 1810.7 929.4 1813.7 925.8 1817.2 934.4 1820.6 945.2 1823.5 944.8 1826.4 942.7 1829.3 943.2 1832.2 941.3 1835.2 938.4 1838.3 937.7 1841.4 934.4 1844.3 933.6 1847.1 935.5 1850 933.6 1852.9 934.4 1856.4 941.9 1859.8 947.5 1862.7 917.2 1865.6 888.3 1870.2 853.3 1873.1 883 1875.9 911.3 1878.2 1004 1881.7 991.3 1885.2 980.5 1889.8 934.4 1894.4 904 1897.8 914.1 1901.3 922.9 1905.9 886.7 1909 888.9 1912 893.5 1915.1 895.9 1918.6 895 1922 895.9 1925.5 915.7 1928.9 934.4 1931.8 933.7 1934.7 935.1 1937.6 933.5 1940.5 934.4 1943.9 920.4 1947.4 904 1950.4 909.1 1953.5 917.4 1956.6 922.9 1959.7 936.6 1962.7 953.4 1965.8 967.1 1968.9 964.5 1972 964.9 1975 962.5 1979.6 922.9 1984.2 876.3 1987.7 887.5 1991.2 899.8 1994.6 910 1998.1 918.2 2001.1 922.9 2004.2 929.6 2007.3 934.4 2010.4 929.9 2013.4 927.7 2016.5 922.9 2019.6 910.5 2022.6 900.2 2025.7 887.8 2030.3 922.9 2033.4 932.1 2036.5 943.5 2039.5 952.8 2044.1 959 2047.2 958.2 2050.3 959.7 2053.4 959 2056.4 954 2059.5 951.2 2062.6 945.9 2065.7 948.2 2068.7 952.7 2071.8 954.4 2074.9 943.5 2077.9 935.5 2081 925.2 2085.6 914.3 2088.7 920.1 2091.8 928.8 2094.8 934.4 2099.4 945.2 2102.5 945.7 2105.6 948.7 2108.7 948.7 2113.3 888.3 2116.3 871.3 2119.4 856.2 2122.5 839.4 2125.6 851.4 2128.6 865 2131.7 876.8 2134.5 883.8 2137.2 893.1 2140 899.8 2143.8 944.1 2146.7 944.8 2149.5 948.3 2152.4 948 2155.3 950.5 2158.2 951.3 2161.1 950.2 2163.9 951.9 2166.8 951 2169.7 948.4 2172.6 948.4 2175.5 944.9 2178.3 943.6 2181.4 948.6 2184.5 951.2 2187.6 956.7 2192.2 922.9 2196.8 934.4 2200.2 971.9 2203.7 1007.4 2208.3 957.4 2212.9 922.9 2216.4 926.6 2219.8 931.4 2222.7 925.8 2225.6 918.2 2228.3 913.6 2231 912 2233.6 907.4 2236.7 906.4 2239.8 908.1 2242.9 907.4 2245.9 902.8 2249 900.8 2252.1 895.9 2255.5 908.4 2259 922.9 2261.9 914.6 2264.7 904.7 2267.6 897.3 2270.5 887.8 2273.6 898.9 2276.7 911.9 2279.7 922.9 2284.3 945.9 2287.2 962.2 2290.1 979.8L2290.1 937.8 2287.2 933.8 2284.3 929.8 2279.7 924.9 2276.7 921.6 2273.6 925.8 2270.5 931.1 2267.6 936 2264.7 939.5 2261.9 940.7 2259 941.9 2255.5 934.6 2252.1 909.9 2249 910.7 2245.9 925.3 2242.9 935.9 2239.8 940 2236.7 944.2 2233.6 940.7 2231 935.5 2228.3 930.3 2225.6 925.1 2222.7 920.1 2219.8 915.6 2216.4 917.6 2212.9 934.3 2208.3 947.9 2203.7 935.8 2200.2 928.2 2196.8 923.6 2192.2 921.1 2187.6 929.8 2184.5 925 2181.4 920.2 2178.3 915.5 2175.5 921.4 2172.6 927.4 2169.7 933.4 2166.8 939.4 2163.9 939.1 2161.1 934.7 2158.2 930.3 2155.3 925.8 2152.4 930.1 2149.5 934.4 2146.7 938.6 2143.8 942.9 2140 918.9 2137.2 922.5 2134.5 926.2 2131.7 929.8 2128.6 936.1 2125.6 942.4 2122.5 948.7 2119.4 938.6 2116.3 928.5 2113.3 918.4 2108.7 918.7 2105.6 929.2 2102.5 929.9 2099.4 921 2094.8 919.8 2091.8 927.1 2088.7 934.4 2085.6 941.7 2081 933.8 2077.9 931.1 2074.9 936.4 2071.8 941.7 2068.7 939.3 2065.7 936.8 2062.6 934.4 2059.5 928.8 2056.4 923.3 2053.4 917.8 2050.3 925 2047.2 932.2 2044.1 939.4 2039.5 923.5 2036.5 924.1 2033.4 924.6 2030.3 925.2 2025.7 944.1 2022.6 942.5 2019.6 941 2016.5 939.4 2013.4 937.9 2010.4 934.7 2007.3 929.9 2004.2 925 2001.1 920.1 1998.1 922.8 1994.6 928.6 1991.2 934.4 1987.7 931.2 1984.2 928 1979.6 928.5 1975 933.8 1972 937.3 1968.9 940.9 1965.8 939.9 1962.7 937.4 1959.7 935 1956.6 928 1953.5 919.5 1950.4 913.1 1947.4 921.6 1943.9 931.2 1940.5 932.8 1937.6 930.9 1934.7 929.8 1931.8 929.8 1928.9 929.8 1925.5 929.8 1922 927.7 1918.6 924.6 1915.1 927 1912 931.5 1909 936 1905.9 940.6 1901.3 929.2 1897.8 925.4 1894.4 930.8 1889.8 938.1 1885.2 933.9 1881.7 922.2 1878.2 920 1875.9 931.5 1873.1 941.1 1870.2 932.3 1865.6 918.2 1862.7 924 1859.8 929.8 1856.4 918.4 1852.9 915.8 1850 928 1847.1 940.3 1844.3 934.2 1841.4 915.9 1838.3 928.2 1835.2 954.2 1832.2 943.5 1829.3 933.5 1826.4 926.4 1823.5 923.8 1820.6 921.2 1817.2 927.7 1813.7 934.2 1810.7 940 1807.6 938.4 1804.5 929.5 1801.4 919.9 1798.4 907.9 1795.3 895.9 1792.4 912.8 1789.5 929.8 1786.7 939.2 1783.8 948.7 1780.9 942.7 1778 936.8 1775.1 933.2 1772.3 931.3 1768.8 927 1765.3 918.7 1761.9 915.2 1758.4 921.5 1753.8 929.8 1750 927.5 1747.2 932.2 1744.5 937 1741.7 941.7 1738.9 938.2 1736.2 934.6 1733.4 931 1730.6 927.8 1727.9 924.9 1723.3 920.1 1719.8 927.3 1716.4 938.4 1712.9 951.3 1709.4 950.3 1704.8 939.7 1701.4 932 1697.9 924.8 1695.3 920.4 1692.7 923.1 1690.1 925.8 1687.6 928.6 1685 928.4 1682.4 926 1679.8 923.6 1677.2 921.2 1674.4 928.5 1671.7 935.8 1668.9 939.3 1666.1 939 1663.4 938.8 1660.6 938.5 1657.8 936.4 1655.1 930.5 1652.3 924.7 1649.5 918.9 1646.9 921.4 1644.3 923.8 1641.6 926.2 1639 931.7 1636.4 940.1 1633.7 948.5 1631.1 948.6 1628.3 937.3 1625.6 927.5 1622.8 920.6 1620 916.7 1617.3 921.6 1613.8 927.7 1610.4 932.5 1606.9 936.5 1603.5 940.6 1601.2 929.2 1596.5 920.8 1593.5 924.8 1590.4 928.8 1587.3 931.9 1583.9 935.1 1580.4 938.3 1577.7 933 1575 927.7 1572.4 922.4 1569.8 921.6 1567.2 924.3 1564.6 927 1562 929.8 1558.5 934.3 1555.1 938.8 1551.6 937.6 1548.2 925.2 1544.7 918 1541.2 910.9 1537.8 924.1 1534.3 937.3 1529.7 929 1527 919.1 1524.3 913.2 1521.7 917.4 1518.2 922.9 1514.7 949 1512.1 969.3 1509.4 958.2 1506.7 934.4 1503.2 914.1 1499.8 904.1 1496.3 922.4 1492.9 955.6 1488.2 945 1484.8 937 1481.3 932.4 1477.9 929.4 1474.4 926.4 1469.8 922.2 1466.4 920.4 1462.9 921.2 1460 922 1457.1 925 1454.3 931.7 1451.4 938.3 1448.3 932.5 1445.2 926.6 1442.2 922.1 1439.3 918.2 1436.4 914.3 1433.5 920.8 1430.6 927.2 1427.6 932.8 1424.5 937.6 1421.4 938.1 1418 930.6 1414.5 930.2 1411.8 932.6 1409.1 931.4 1406.5 921.1 1403.6 914.9 1400.7 912 1396.1 930.3 1393.8 951 1390.9 942.8 1388 934.7 1385.1 931.4 1382.3 947.5 1378.8 944.6 1375.3 941.7 1371.9 924.6 1368.4 914.8 1363.8 921.2 1360 929.8 1357.5 932.9 1354.9 936 1352.4 933.8 1349.9 928.4 1347.3 923.1 1344.8 917.8 1342.1 924.4 1339.4 931.1 1336.7 937.7 1334 940.3 1331.4 939.7 1328.7 939.2 1325.6 938.6 1322.5 935.2 1319.4 929.2 1316.4 923.1 1313.3 917 1310.2 921.8 1305.6 934.4 1301 937.4 1297.6 935.8 1294.1 926.4 1289.5 923.7 1284.9 930.8 1282 934 1279.1 932.1 1276.2 930.1 1273.4 933.9 1269.9 940.1 1266.5 946.4 1263 930.3 1259.5 914.3 1256.7 911.9 1253.8 909.5 1250.3 912.7 1247.4 917.9 1244.6 923.1 1241.1 934.1 1237.6 947.6 1234.8 951.9 1231.9 951.7 1228.4 951.3 1225 951 1222.1 934.4 1219.2 917.8 1216.3 922.4 1213.5 927 1208.8 934.4 1204.2 940.8 1199.6 933.3 1196.6 918.9 1193.5 908 1190.4 921.9 1187 937.6 1183.5 953.3 1180 943.6 1176.6 933.9 1173.8 928.3 1171.1 933.3 1168.3 938.2 1165.5 943.2 1162.8 937.8 1159.3 928.4 1155.9 918.9 1152.8 920.6 1149.7 922.3 1146.6 923.9 1143.6 923.7 1140.5 917.9 1137.4 912 1134 922.3 1130.5 932.6 1129.4 936.1 1125.9 946.4 1122.4 938.1 1119.6 931.1 1116.7 926.9 1112.1 921.2 1107.5 951 1104.4 922.7 1101.3 928.5 1098.2 934.4 1093.6 918.9 1090.2 929.2 1086.7 939.5 1083.3 939.5 1079.8 934.4 1075.2 924.1 1071.8 923.9 1068.3 938.8 1064.8 943.4 1061.4 927.5 1058.3 927.5 1055.2 927.5 1052.2 924 1049.1 919.5 1046 916.6 1042.9 925.3 1039.5 935 1036 937 1033.7 935.7 1029.1 926.4 1025.7 914.3 1022.2 925.1 1018.8 935.9 1015.3 934.9 1011.8 928.1 1008.4 921.2 1004.9 932 1001.5 942.8 998 936.8 995.3 925.7 992.6 918.9 990 922.9 985.3 929.8 980.7 912 977.9 923.1 975 935.6 970.4 959 968.6 959 965.2 944.4 961.7 929.8 959 923.5 956.3 917.2 953.6 910.9 950.8 919.3 947.9 927.7 945.3 933.7 942.7 927.7 940.1 921.8 937.5 915.8 934.9 916.6 932.3 922.9 929.7 929.1 927.1 934.5 923.7 941.6 920.2 948.7 916.8 944.4 913.3 940.1 910.4 936.5 907.6 931 904.7 922.7 901.8 914.3 898.7 921 895.7 927.7 892.6 934.4 889.5 932.3 886.4 930.3 883.4 932.6 880.3 936.4 877.2 934.4 874.1 926.6 871.3 919.3 868.4 912 865.5 931.6 862.6 951.2 859.6 953.2 856.5 943.8 853.4 934.4 850.5 925.5 847.6 916.6 845.2 922.3 842.7 928 840.2 932.9 837.7 937.4 835.2 941.9 832.7 946.4 829.6 933.8 826.5 918.1 823.5 899.4 820.6 910.3 817.7 921.2 814.8 932.2 811.9 937.2 808.9 941 805.8 938.4 802.7 929.5 798.1 921.9 795.3 920.7 792.6 919.5 789.8 925.3 787.1 938.2 784.3 951 781.4 936.1 778.5 921.2 775.6 930.3 772.8 939.4 769.3 934.6 765.9 929.8 762.4 927 758.9 924.2 755.5 925.4 752 934.4 747.4 924.8 744.5 921.6 741.7 929.2 739.1 936 736.5 935.4 733.9 931.2 731.3 926.9 728.2 921.9 725.1 926.3 722.1 932.1 718.6 938.7 715.2 945.2 711.7 935.5 708.2 925.8 705.4 935.4 702.5 944.9 699.6 944.4 696.7 937.2 695.6 934.4 692.1 922.9 689.2 915.1 686.4 907.4 682.9 917 680 925 677.1 934.7 674.3 947 671.4 953.3 667.9 949.8 664.5 946.4 661.9 938.6 659.3 930.9 656.7 923.2 654.1 921.1 651.5 926 648.9 928 646.3 919.9 643.7 920 640.7 932.2 637.6 942.8 634.5 942.2 631.4 939.1 628.4 928.5 625.3 929.2 620.7 936 616.1 930.3 613.8 921.2 610.3 925.5 607.6 928.8 604.9 925.2 602.3 918.7 598.8 916.1 595.3 925.1 592.5 932.5 589.6 939.9 586.7 935.6 583.8 923.5 579.2 932.8 578.6 935.2 575.2 948.7 571.7 945.6 568.6 935.5 565.6 925.3 562.5 921 559.4 926.5 556.3 932.1 553.3 937.6 550.2 940.6 547.1 936.1 544.1 931.5 541.3 927.4 538.5 926.9 535.8 933.5 533 940.2 530.2 940.7 527.2 931.9 524.1 926.7 521 925.2 518.1 923.7 515.3 924.8 512.4 929.6 509.5 934.4 506 934.7 502.6 923.9 499.5 917.4 496.4 920.2 493.4 923.1 488.8 927.5 486.1 937 483.4 946.6 480.7 932.1 477.8 915.3 474.9 920.7 471.9 927.1 468.8 934 465.7 935.7Z" fill="#0000ff"/>
<path d="M465.7 929.8 468.8 923.3 471.9 919 474.9 912 477.8 906.9 480.7 904 483.4 914.9 486.1 923.6 488.8 934.4 493.4 916.6 496.4 918 499.5 917.6 502.6 918.9 506 920.7 509.5 921.2 512.4 921.6 515.3 924.3 518.1 923.6 521 925.2 524.1 928.8 527.2 930.2 530.2 934.4 533 934.6 535.8 932 538.5 932.3 541.3 929.5 544.1 929.8 547.1 934.9 550.2 937.6 553.3 942.9 556.3 935.5 559.4 925.2 562.5 917.8 565.6 930.5 568.6 941.2 571.7 954.4 575.2 939.7 578.6 922.9 579.2 917.8 583.8 934.4 586.7 952.2 589.6 971.7 592.5 933.4 595.3 893.6 598.8 899.2 602.3 906.7 604.9 899.7 607.6 889.1 610.3 882.1 613.8 934.4 616.1 977.5 620.7 945.9 625.3 913.2 628.4 917 631.4 918.6 634.5 922.9 637.6 922.1 640.7 918.6 643.7 918.2 646.3 918.9 648.9 916.4 651.5 917.9 654.1 915.2 656.7 916.4 659.3 914.5 661.9 916 664.5 914.3 667.9 940.6 671.4 968.2 674.3 952.1 677.1 934.4 680 898.9 682.9 865.2 686.4 831.4 689.2 844.4 692.1 856 695.6 911.3 696.7 949.8 699.6 947.8 702.5 948.5 705.4 946 708.2 945.9 711.7 964.3 715.2 980.9 718.6 964.1 722.1 948.2 725.1 945.4 728.2 939.5 731.3 936.7 733.9 942.8 736.5 946.1 739.1 952.6 741.7 956.7 744.5 945 747.4 934.4 752 962.5 755.5 938.3 758.9 912 762.4 916.5 765.9 922.9 769.3 938 772.8 951 775.6 950.7 778.5 952.2 781.4 951.3 784.3 952.1 787.1 944.3 789.8 933.3 792.6 925.9 795.3 915.3 798.1 907.4 802.7 922.9 805.8 932.3 808.9 939.3 811.9 948.7 814.8 937.7 817.7 923.6 820.6 913.4 823.5 900.5 826.5 914.9 829.6 931.5 832.7 945.9 835.2 937.8 837.7 931.8 840.2 923.2 842.7 917.3 845.2 907.8 847.6 901.7 850.5 934.1 853.4 964.8 856.5 953.9 859.6 945 862.6 934.4 865.5 923.3 868.4 915.3 871.3 904 874.1 894.7 877.2 900 880.3 902.1 883.4 907.4 886.4 921 889.5 932.8 892.6 946.4 895.7 944.5 898.7 940.2 901.8 939 904.7 942.8 907.6 944.4 910.4 948.9 913.3 951 916.8 941.8 920.2 934.4 923.7 943.8 927.1 952.1 929.7 938.1 932.3 925.9 934.9 910.5 937.5 898.2 940.1 909.6 942.7 918.2 945.3 930.7 947.9 940.6 950.8 923.9 953.6 908.6 956.3 916.2 959 921.8 961.7 929.8 965.2 950.2 968.6 969.4 970.4 969.4 975 911.3 977.9 901.3 980.7 893.6 985.3 945.9 990 953.3 992.6 955.3 995.3 955.1 998 956.7 1001.5 865.2 1004.9 837.1 1008.4 807.2 1011.8 823.9 1015.3 842.2 1018.8 854.5 1022.2 864.8 1025.7 875.6 1029.1 888.3 1033.7 934.4 1036 951 1039.5 954.4 1042.9 956.7 1046 954.6 1049.1 955 1052.2 952.8 1055.2 956.3 1058.3 961.9 1061.4 964.8 1064.8 954.3 1068.3 945.9 1071.8 940.8 1075.2 934.4 1079.8 951 1083.3 953.3 1086.7 956.7 1090.2 946.3 1093.6 934.4 1098.2 939 1101.3 942.8 1104.4 949.4 1107.5 953.3 1112.1 915.5 1116.7 957.4 1119.6 974.4 1122.4 992.4 1125.9 975.8 1129.4 957.4 1130.5 934.4 1134 915.4 1137.4 898.2 1140.5 898.4 1143.6 896.6 1146.6 897 1149.7 901.2 1152.8 902.5 1155.9 906.7 1159.3 915.3 1162.8 922.9 1165.5 919.2 1168.3 917.7 1171.1 912.4 1173.8 911.4 1176.6 907.4 1180 916.3 1183.5 927.5 1187 922.2 1190.4 915.5 1193.5 926.7 1196.6 940.1 1199.6 951 1204.2 900.5 1208.8 922.9 1213.5 941.7 1216.3 947.4 1219.2 955.5 1222.1 959.7 1225 967.1 1228.4 957 1231.9 945.9 1234.8 959.2 1237.6 974 1241.1 928.5 1244.6 880.9 1247.4 895.6 1250.3 911.3 1253.8 892.4 1256.7 911.7 1259.5 929.8 1263 938.7 1266.5 948.7 1269.9 942.5 1273.4 934.4 1276.2 920.3 1279.1 908.6 1282 922.5 1284.9 934.4 1289.5 968.9 1294.1 1048.9 1297.6 1025.1 1301 1003.5 1305.6 968.9 1310.2 934.4 1313.3 929.5 1316.4 922.3 1319.4 917.8 1322.5 917.1 1325.6 912.9 1328.7 912 1331.4 912.3 1334 910.6 1336.7 912 1339.4 909.5 1342.1 910.9 1344.8 909.7 1347.3 910.5 1349.9 913.1 1352.4 912.9 1354.9 916.3 1357.5 916.2 1360 918.2 1363.8 934.4 1368.4 887.8 1371.9 911.7 1375.3 934.4 1378.8 944.7 1382.3 957.4 1385.1 972.6 1388 985.5 1390.9 971 1393.8 957.4 1396.1 934.4 1400.7 863.6 1403.6 888.1 1406.5 911.3 1409.1 921.7 1411.8 935.2 1414.5 945.9 1418 956 1421.4 968.2 1424.5 965.5 1427.6 960.3 1430.6 957.4 1433.5 960.5 1436.4 961.3 1439.3 951.8 1442.2 943.6 1445.2 946.4 1448.3 945.9 1451.4 948.7 1454.3 945.7 1457.1 940.4 1460 939.1 1462.9 934.4 1466.4 924.6 1469.8 915.9 1474.4 898.2 1477.9 911.4 1481.3 922.9 1484.8 950.8 1488.2 980.5 1492.9 1023.5 1496.3 991.1 1499.8 957.4 1503.2 933.4 1506.7 911.3 1509.4 906.2 1512.1 897.6 1514.7 892.4 1518.2 900.6 1521.7 906.7 1524.3 903.6 1527 903.1 1529.7 899.8 1534.3 901.7 1537.8 916.9 1541.2 934.4 1544.7 948.6 1548.2 961.3 1551.6 952.6 1555.1 945.9 1558.5 936.3 1562 925.2 1564.6 914.1 1567.2 906.1 1569.8 894.6 1572.4 885.5 1575 891.9 1577.7 896 1580.4 902.1 1583.9 901.8 1587.3 899.8 1590.4 889 1593.5 881.2 1596.5 870.5 1601.2 922.9 1603.5 1016.6 1606.9 991.6 1610.4 968.9 1613.8 952.7 1617.3 934.4 1620 932 1622.8 931.5 1625.6 928 1628.3 927.5 1631.1 925.2 1633.7 922.9 1636.4 924 1639 921.3 1641.6 921.9 1644.3 918.9 1646.9 919.9 1649.5 917.8 1652.3 919.1 1655.1 923.5 1657.8 924.1 1660.6 928.3 1663.4 929.8 1666.1 928.2 1668.9 928.4 1671.7 926 1674.4 927.1 1677.2 925.2 1679.8 927.2 1682.4 931.1 1685 932.3 1687.6 936.1 1690.1 937.1 1692.7 941.5 1695.3 942.6 1697.9 945.9 1701.4 954 1704.8 960.2 1709.4 911.3 1712.9 888.7 1716.4 868.2 1719.8 878.9 1723.3 888.3 1727.9 915.9 1730.6 921.1 1733.4 928.8 1736.2 933.5 1738.9 940.9 1741.7 946.4 1744.5 941.7 1747.2 939 1750 934.4 1753.8 929.8 1758.4 895.9 1761.9 914.6 1765.3 934.4 1768.8 942.1 1772.3 947.5 1775.1 947.2 1778 949.3 1780.9 948.4 1783.8 949.8 1786.7 941.3 1789.5 930 1792.4 922.1 1795.3 911.3 1798.4 918.3 1801.4 927.2 1804.5 934.4 1807.6 930.3 1810.7 929.4 1813.7 925.8 1817.2 934.4 1820.6 945.2 1823.5 944.8 1826.4 942.7 1829.3 943.2 1832.2 941.3 1835.2 938.4 1838.3 937.7 1841.4 934.4 1844.3 933.6 1847.1 935.5 1850 933.6 1852.9 934.4 1856.4 941.9 1859.8 947.5 1862.7 917.2 1865.6 888.3 1870.2 853.3 1873.1 883 1875.9 911.3 1878.2 1004 1881.7 991.3 1885.2 980.5 1889.8 934.4 1894.4 904 1897.8 914.1 1901.3 922.9 1905.9 886.7 1909 888.9 1912 893.5 1915.1 895.9 1918.6 895 1922 895.9 1925.5 915.7 1928.9 934.4 1931.8 933.7 1934.7 935.1 1937.6 933.5 1940.5 934.4 1943.9 920.4 1947.4 904 1950.4 909.1 1953.5 917.4 1956.6 922.9 1959.7 936.6 1962.7 953.4 1965.8 967.1 1968.9 964.5 1972 964.9 1975 962.5 1979.6 922.9 1984.2 876.3 1987.7 887.5 1991.2 899.8 1994.6 910 1998.1 918.2 2001.1 922.9 2004.2 929.6 2007.3 934.4 2010.4 929.9 2013.4 927.7 2016.5 922.9 2019.6 910.5 2022.6 900.2 2025.7 887.8 2030.3 922.9 2033.4 932.1 2036.5 943.5 2039.5 952.8 2044.1 959 2047.2 958.2 2050.3 959.7 2053.4 959 2056.4 954 2059.5 951.2 2062.6 945.9 2065.7 948.2 2068.7 952.7 2071.8 954.4 2074.9 943.5 2077.9 935.5 2081 925.2 2085.6 914.3 2088.7 920.1 2091.8 928.8 2094.8 934.4 2099.4 945.2 2102.5 945.7 2105.6 948.7 2108.7 948.7 2113.3 888.3 2116.3 871.3 2119.4 856.2 2122.5 839.4 2125.6 851.4 2128.6 865 2131.7 876.8 2134.5 883.8 2137.2 893.1 2140 899.8 2143.8 944.1 2146.7 944.8 2149.5 948.3 2152.4 948 2155.3 950.5 2158.2 951.3 2161.1 950.2 2163.9 951.9 2166.8 951 2169.7 948.4 2172.6 948.4 2175.5 944.9 2178.3 943.6 2181.4 948.6 2184.5 951.2 2187.6 956.7 2192.2 922.9 2196.8 934.4 2200.2 971.9 2203.7 1007.4 2208.3 957.4 2212.9 922.9 2216.4 926.6 2219.8 931.4 2222.7 925.8 2225.6 918.2 2228.3 913.6 2231 912 2233.6 907.4 2236.7 906.4 2239.8 908.1 2242.9 907.4 2245.9 902.8 2249 900.8 2252.1 895.9 2255.5 908.4 2259 922.9 2261.9 914.6 2264.7 904.7 2267.6 897.3 2270.5 887.8 2273.6 898.9 2276.7 911.9 2279.7 922.9 2284.3 945.9 2287.2 962.2 2290.1 979.8" stroke="#0000ff" stroke-width="6.2" fill="none"/>
<path d="M184.6 899 186.6 887.4 188.6 884.1 190.6 884.1 192.6 884.1 194.6 884.1 196.6 905.3 198.6 898 200.6 898 202.6 898 204.6 898 206.6 899.1 208.6 908 210.6 924 212.6 928 214.6 924.8 216.6 924.8 218.6 924.8 220.6 924.8 222.6 926.2 224.6 916.5 226.6 912.2 228.6 912.2 230.6 912.2 232.6 912.2 234.6 914 236.6 917.8 238.6 921.6 240.6 923.3 242.6 924 244.6 924.6 246.6 926.8 248.6 929.6 250.6 926.7 252.6 925.3 254.6 925.3 256.6 925.3 258.6 925.3 260.6 926.2 262.6 928.3 264.6 925.4 266.6 923.9 268.6 923.9 270.6 923.9 272.6 923.9 274.6 925.3 276.6 926.9 278.6 924.5 280.6 922 282.6 919.6 284.6 919.6 286.6 919.6 288.6 919.6 290.6 919.6 292.6 921.3 294.6 924.4 296.6 927.6 298.6 930.5 300.6 927.9 302.6 927.9 304.6 927.9 306.6 927.9 308.6 927.9 310.6 932.7 312.6 932 314.6 927.5 316.6 922.9 318.6 918.4 320.6 918.4 322.6 918.4 324.6 918.4 326.6 918.4 328.6 921.6 330.6 921.6 332.6 921.6 334.6 921.6 336.6 921.6 338.6 923 340.6 924.3 342.6 925.7 344.6 927 346.6 929.4 348.6 932.4 350.6 935.4 352.6 931.5 354.6 926.8 356.6 922.2 358.6 919.9 360.6 919.9 362.6 919.9 364.6 919.9 366.6 920.9 368.6 925.9 370.6 923 372.6 921.6 374.6 921.6 376.6 921.6 378.6 921.6 380.6 922.7 382.6 926.5 384.6 925.3 386.6 922.2 388.6 920.7 390.6 920.7 392.6 920.7 394.6 920.7 396.6 921.9 398.6 927.9 400.6 933.8 402.6 934.6 404.6 934.6 406.6 934.6 408.6 934.6 410.6 929.2 412.6 921.1 414.6 912.9 416.6 904.8 418.6 900.7 420.6 900.7 422.6 900.7 424.6 900.7 426.6 900.7 428.6 904.9 430.6 909.1 432.6 917.1 434.6 929.6 436.6 928.8 438.6 923.5 440.6 918.3 442.6 915.2 444.6 915.2 446.6 915.2 448.6 915.2 450.6 915.2 452.6 919.1 454.6 922.9 456.6 925.5 458.6 925.5 460.6 925.5 462.6 925.5 464.6 925.5 466.6 928.6 468.6 925.5 470.6 921.3 472.6 917.5 474.6 913.8 476.6 913.2 478.6 913.2 480.6 913.2 482.6 913.2 484.6 928 486.6 925.7 488.6 923.8 490.6 922 492.6 920.1 494.6 918.2 496.6 917.3 498.6 917.3 500.6 917.3 502.6 917.3 504.6 917.7 506.6 923.9 508.6 929.2 510.6 925.9 512.6 923 514.6 923 516.6 923 518.6 923 520.6 923 522.6 924 524.6 925 526.6 926 528.6 927 530.6 930.3 532.6 931.5 534.6 926.7 536.6 924.9 538.6 924.9 540.6 924.9 542.6 924.9 544.6 926.4 546.6 929.4 548.6 932.3 550.6 935.2 552.6 931.6 554.6 928 556.6 924.4 558.6 920.8 560.6 919 562.6 919 564.6 919 566.6 919 568.6 922.1 570.6 928.8 572.6 935.4 574.6 935.2 576.6 928.8 578.6 925.5 580.6 923.9 582.6 923.9 584.6 923.9 586.6 923.9 588.6 926.8 590.6 927 592.6 921.8 594.6 916.6 596.6 914.1 598.6 914.1 600.6 914.1 602.6 914.1 604.6 914.7 606.6 919.5 608.6 922.7 610.6 921.4 612.6 921.4 614.6 921.4 616.6 921.4 618.6 924.5 620.6 930.3 622.6 927.3 624.6 925.9 626.6 925.9 628.6 925.9 630.6 925.9 632.6 929.3 634.6 936.2 636.6 932.4 638.6 924.5 640.6 916.6 642.6 916.6 644.6 916.6 646.6 916.6 648.6 916.6 650.6 920.1 652.6 920 654.6 920 656.6 920 658.6 920 660.6 923 662.6 928.9 664.6 934.9 666.6 940.8 668.6 946.5 670.6 945.5 672.6 937 674.6 928.9 676.6 923.4 678.6 917.8 680.6 912.3 682.6 908.1 684.6 908.1 686.6 908.1 688.6 908.1 690.6 908.1 692.6 913.4 694.6 918.8 696.6 924.5 698.6 931.1 700.6 936.9 702.6 931.3 704.6 926.9 706.6 926.9 708.6 926.9 710.6 926.9 712.6 926.9 714.6 932.5 716.6 934.9 718.6 931.1 720.6 927.3 722.6 923.6 724.6 921.7 726.6 921.7 728.6 921.7 730.6 921.7 732.6 922.5 734.6 925.8 736.6 929.1 738.6 926.7 740.6 921.4 742.6 921.1 744.6 921.1 746.6 921.1 748.6 921.1 750.6 923.2 752.6 922.5 754.6 922.5 756.6 922.5 758.6 922.5 760.6 922.5 762.6 924 764.6 925.6 766.6 927.2 768.6 928.8 770.6 930.8 772.6 927.3 774.6 921.7 776.6 921.7 778.6 921.7 780.6 921.7 782.6 921.7 784.6 930.9 786.6 921.7 788.6 919.1 790.6 919.1 792.6 919.1 794.6 919.1 796.6 919.5 798.6 920.4 800.6 921.2 802.6 922.1 804.6 923.4 806.6 929.2 808.6 935 810.6 933 812.6 925.4 814.6 917.8 816.6 910.2 818.6 902.6 820.6 900.3 822.6 900.3 824.6 900.3 826.6 900.3 828.6 906.4 830.6 918.6 832.6 929.7 834.6 935.7 836.6 932.1 838.6 928.1 840.6 923.6 842.6 919 844.6 916.7 846.6 916.7 848.6 916.7 850.6 916.7 852.6 919.6 854.6 925.7 856.6 931.9 858.6 938 860.6 937.7 862.6 924.1 864.6 912.6 866.6 912.6 868.6 912.6 870.6 912.6 872.6 912.6 874.6 917.7 876.6 922.7 878.6 927.8 880.6 931.1 882.6 929.8 884.6 929.8 886.6 929.8 888.6 929.8 890.6 930 892.6 925.6 894.6 921.3 896.6 916.9 898.6 914.7 900.6 914.7 902.6 914.7 904.6 914.7 906.6 916.7 908.6 922.5 910.6 928.3 912.6 934.1 914.6 936.7 916.6 939.2 918.6 941.7 920.6 939.7 922.6 935.6 924.6 931.5 926.6 927 928.6 922.2 930.6 917.4 932.6 913.7 934.6 913.7 936.6 913.7 938.6 913.7 940.6 913.7 942.6 918.3 944.6 922.9 946.6 919.7 948.6 913.9 950.6 911 952.6 911 954.6 911 956.6 911 958.6 913.1 960.6 917.8 962.6 922.5 964.6 927.2 966.6 933.6 968.6 942.1 970.6 937.5 972.6 927.9 974.6 920.2 976.6 912.5 978.6 912.5 980.6 912.5 982.6 912.5 984.6 912.5 986.6 919.2 988.6 919 990.6 918.6 992.6 918.6 994.6 918.6 996.6 918.6 998.6 922.7 1000.6 931 1002.6 926.8 1004.6 921.7 1006.6 921.7 1008.6 921.7 1010.6 921.7 1012.6 921.7 1014.6 925.6 1016.6 929.6 1018.6 923.9 1020.6 917.6 1022.6 914.5 1024.6 914.5 1026.6 914.5 1028.6 914.5 1030.6 917.6 1032.6 924.6 1034.6 931.5 1036.6 931.9 1038.6 926.2 1040.6 920.6 1042.6 915.8 1044.6 915.8 1046.6 915.8 1048.6 915.8 1050.6 915.8 1052.6 918.8 1054.6 921.7 1056.6 924.7 1058.6 927.5 1060.6 927.5 1062.6 927.5 1064.6 927.5 1066.6 928.8 1068.6 920.2 1070.6 920.2 1072.6 920.2 1074.6 920.2 1076.6 920.2 1078.6 922.7 1080.6 927.2 1082.6 931.7 1084.6 933.9 1086.6 927.9 1088.6 922 1090.6 919 1092.6 919 1094.6 919 1096.6 919 1098.6 922.2 1100.6 922.3 1102.6 922.3 1104.6 922.3 1106.6 922.3 1108.6 921.9 1110.6 921.9 1112.6 921.9 1114.6 921.9 1116.6 921.9 1118.6 924.4 1120.6 926.8 1122.6 929.3 1124.6 933.7 1126.6 932.3 1128.6 926.4 1130.6 920.4 1132.6 914.4 1134.6 912.4 1136.6 912.4 1138.6 912.4 1140.6 912.4 1142.6 914.3 1144.6 918.1 1146.6 921.8 1148.6 920.7 1150.6 919.6 1152.6 919.1 1154.6 919.1 1156.6 919.1 1158.6 919.1 1160.6 921 1162.6 926.4 1164.6 931.9 1166.6 934.1 1168.6 930.5 1170.6 928.4 1172.6 928.4 1174.6 928.4 1176.6 928.4 1178.6 928.4 1180.6 934 1182.6 939.2 1184.6 930.1 1186.6 921.1 1188.6 912 1190.6 907.5 1192.6 907.5 1194.6 907.5 1196.6 907.5 1198.6 909.7 1200.6 919.1 1202.6 928.5 1204.6 934.7 1206.6 931.6 1208.6 928.4 1210.6 925.2 1212.6 922 1214.6 918.8 1216.6 918.8 1218.6 918.8 1220.6 918.8 1222.6 918.8 1224.6 925.8 1226.6 937.3 1228.6 948.8 1230.6 951.1 1232.6 951.3 1234.6 943.9 1236.6 936.1 1238.6 928.3 1240.6 923 1242.6 919.4 1244.6 915.8 1246.6 912.2 1248.6 908.6 1250.6 908.6 1252.6 908.6 1254.6 908.6 1256.6 908.6 1258.6 910.2 1260.6 911.9 1262.6 913.6 1264.6 919.3 1266.6 928.5 1268.6 935.3 1270.6 931.7 1272.6 929.9 1274.6 929.9 1276.6 929.9 1278.6 929.9 1280.6 930.4 1282.6 928.1 1284.6 925 1286.6 921.9 1288.6 920.4 1290.6 920.4 1292.6 920.4 1294.6 920.4 1296.6 922.3 1298.6 927.8 1300.6 933.2 1302.6 931.7 1304.6 926.2 1306.6 920.7 1308.6 915.6 1310.6 915.6 1312.6 915.6 1314.6 915.6 1316.6 915.6 1318.6 919.6 1320.6 923.5 1322.6 927.5 1324.6 931.5 1326.6 935.4 1328.6 938.4 1330.6 938.8 1332.6 938 1334.6 933.1 1336.6 928.1 1338.6 923.2 1340.6 918.2 1342.6 918.2 1344.6 918.2 1346.6 918.2 1348.6 918.2 1350.6 921.6 1352.6 925.8 1354.6 930 1356.6 928.2 1358.6 923 1360.6 920.1 1362.6 917.3 1364.6 914.5 1366.6 913.3 1368.6 913.3 1370.6 913.3 1372.6 913.3 1374.6 918.2 1376.6 928.2 1378.6 938.1 1380.6 934.3 1382.6 928.7 1384.6 928.7 1386.6 928.7 1388.6 928.7 1390.6 930.7 1392.6 925.6 1394.6 909.9 1396.6 909.9 1398.6 909.9 1400.6 909.9 1402.6 909.9 1404.6 911.9 1406.6 913.9 1408.6 915.9 1410.6 921.7 1412.6 928.3 1414.6 928.3 1416.6 928.3 1418.6 928.3 1420.6 928.3 1422.6 932 1424.6 931.2 1426.6 927.3 1428.6 922.8 1430.6 918.3 1432.6 914.6 1434.6 914.6 1436.6 914.6 1438.6 914.6 1440.6 914.6 1442.6 917.3 1444.6 920 1446.6 922.7 1448.6 925.4 1450.6 929.2 1452.6 926.3 1454.6 922.3 1456.6 921.8 1458.6 921.3 1460.6 920.8 1462.6 920.3 1464.6 920.2 1466.6 920.2 1468.6 920.2 1470.6 920.2 1472.6 921.1 1474.6 922.9 1476.6 924.7 1478.6 926.6 1480.6 928.3 1482.6 930.1 1484.6 931.8 1486.6 933.5 1488.6 936.6 1490.6 938.8 1492.6 919.6 1494.6 907.8 1496.6 901.5 1498.6 901.5 1500.6 901.5 1502.6 901.5 1504.6 901.5 1506.6 910.4 1508.6 922.2 1510.6 933.9 1512.6 934.9 1514.6 922.2 1516.6 919.1 1518.6 916 1520.6 912.8 1522.6 912.8 1524.6 912.8 1526.6 912.8 1528.6 912.8 1530.6 917.5 1532.6 924.9 1534.6 921 1536.6 913.3 1538.6 911.6 1540.6 911.6 1542.6 911.6 1544.6 911.6 1546.6 913.7 1548.6 917.8 1550.6 922 1552.6 926.8 1554.6 934 1556.6 931.6 1558.6 929.1 1560.6 927 1562.6 924.9 1564.6 922.8 1566.6 920.7 1568.6 920.7 1570.6 920.7 1572.6 920.7 1574.6 920.7 1576.6 922.9 1578.6 926.8 1580.6 930.8 1582.6 932.6 1584.6 930.7 1586.6 928.5 1588.6 925.9 1590.6 923.3 1592.6 920.7 1594.6 918.1 1596.6 918.1 1598.6 918.1 1600.6 918.1 1602.6 918.1 1604.6 926.5 1606.6 932.2 1608.6 929.8 1610.6 926.3 1612.6 922.8 1614.6 919.3 1616.6 915.7 1618.6 915.7 1620.6 915.7 1622.6 915.7 1624.6 915.7 1626.6 920.1 1628.6 925.1 1630.6 930.2 1632.6 938.4 1634.6 932.9 1636.6 927.2 1638.6 925.3 1640.6 923.5 1642.6 921.6 1644.6 919.8 1646.6 919.1 1648.6 919.1 1650.6 919.1 1652.6 919.1 1654.6 921.2 1656.6 925.4 1658.6 929.6 1660.6 933.8 1662.6 938 1664.6 938.5 1666.6 938.6 1668.6 933.3 1670.6 928 1672.6 922.8 1674.6 921.6 1676.6 921.6 1678.6 921.6 1680.6 921.6 1682.6 922.6 1684.6 924.4 1686.6 925.4 1688.6 923.3 1690.6 921.2 1692.6 920.1 1694.6 920.1 1696.6 920.1 1698.6 920.1 1700.6 922.1 1702.6 926.3 1704.6 930.4 1706.6 934.5 1708.6 939.1 1710.6 943.7 1712.6 937.4 1714.6 930 1716.6 925.7 1718.6 921.5 1720.6 920.4 1722.6 920.4 1724.6 920.4 1726.6 920.4 1728.6 921.5 1730.6 923.6 1732.6 925.7 1734.6 927.8 1736.6 929.9 1738.6 932.5 1740.6 935.1 1742.6 933.3 1744.6 929.9 1746.6 927.8 1748.6 927.8 1750.6 927.8 1752.6 924.8 1754.6 921.2 1756.6 917.6 1758.6 914 1760.6 914 1762.6 914 1764.6 914 1766.6 914 1768.6 916.9 1770.6 921.7 1772.6 926.5 1774.6 930.2 1776.6 931.5 1778.6 932.9 1780.6 934.2 1782.6 938 1784.6 932.8 1786.6 923.5 1788.6 911.7 1790.6 900 1792.6 897.1 1794.6 897.1 1796.6 897.1 1798.6 897.1 1800.6 901 1802.6 908.8 1804.6 916.6 1806.6 924 1808.6 929.8 1810.6 932.6 1812.6 928.8 1814.6 925.1 1816.6 921.3 1818.6 921.3 1820.6 921.3 1822.6 921.3 1824.6 921.3 1826.6 923 1828.6 924.8 1830.6 926.6 1832.6 931.1 1834.6 925.1 1836.6 911 1838.6 911 1840.6 911 1842.6 911 1844.6 911 1846.6 923.7 1848.6 917 1850.6 912.7 1852.6 912.7 1854.6 912.7 1856.6 912.7 1858.6 912.7 1860.6 919.2 1862.6 918.3 1864.6 918.3 1866.6 918.3 1868.6 918.3 1870.6 921.4 1872.6 927.5 1874.6 918.3 1876.6 915 1878.6 915 1880.6 915 1882.6 915 1884.6 918.4 1886.6 925.2 1888.6 932 1890.6 930.5 1892.6 927.3 1894.6 924.1 1896.6 924.1 1898.6 924.1 1900.6 924.1 1902.6 924.1 1904.6 927.5 1906.6 932.5 1908.6 930.7 1910.6 927.7 1912.6 924.7 1914.6 923.7 1916.6 923.7 1918.6 923.7 1920.6 923.7 1922.6 924.6 1924.6 926.4 1926.6 928.2 1928.6 929.8 1930.6 929.8 1932.6 929.8 1934.6 929.8 1936.6 929.8 1938.6 929.8 1940.6 929.3 1942.6 923.7 1944.6 918.2 1946.6 912.6 1948.6 912.6 1950.6 912.6 1952.6 912.6 1954.6 912.6 1956.6 917 1958.6 922.5 1960.6 928 1962.6 933.6 1964.6 935.7 1966.6 937.3 1968.6 936.6 1970.6 934.3 1972.6 932 1974.6 929.7 1976.6 927.4 1978.6 926.2 1980.6 926.2 1982.6 926.2 1984.6 926.2 1986.6 926.5 1988.6 928.3 1990.6 928.6 1992.6 925.2 1994.6 921.9 1996.6 919.3 1998.6 919.3 2000.6 919.3 2002.6 919.3 2004.6 919.3 2006.6 922.5 2008.6 925.6 2010.6 928.8 2012.6 932 2014.6 935.1 2016.6 937.5 2018.6 938.5 2020.6 939.5 2022.6 940.4 2024.6 932.2 2026.6 925.1 2028.6 924.8 2030.6 924.4 2032.6 924.1 2034.6 923.7 2036.6 923.7 2038.6 923.7 2040.6 923.7 2042.6 923.7 2044.6 927.2 2046.6 924.3 2048.6 919.6 2050.6 918.2 2052.6 918.2 2054.6 918.2 2056.6 918.2 2058.6 920 2060.6 923.6 2062.6 927.2 2064.6 930.8 2066.6 934.4 2068.6 936 2070.6 936.9 2072.6 933.4 2074.6 929.9 2076.6 929.9 2078.6 929.9 2080.6 929.9 2082.6 929.9 2084.6 933.1 2086.6 929.9 2088.6 925.1 2090.6 920.4 2092.6 915.6 2094.6 915.6 2096.6 915.6 2098.6 915.6 2100.6 915.6 2102.6 918.6 2104.6 918.9 2106.6 912.1 2108.6 912.1 2110.6 912.1 2112.6 912.1 2114.6 912.1 2116.6 916.3 2118.6 922.8 2120.6 929.4 2122.6 935.9 2124.6 936.1 2126.6 932 2128.6 928.6 2130.6 926 2132.6 923.4 2134.6 920.8 2136.6 919.4 2138.6 919.4 2140.6 919.4 2142.6 919.4 2144.6 922.8 2146.6 932.8 2148.6 929.8 2150.6 926.9 2152.6 926.3 2154.6 926.3 2156.6 926.3 2158.6 926.3 2160.6 927.9 2162.6 930.9 2164.6 934 2166.6 931.5 2168.6 927.4 2170.6 923.2 2172.6 919.1 2174.6 915.9 2176.6 915.9 2178.6 915.9 2180.6 915.9 2182.6 915.9 2184.6 919 2186.6 922.1 2188.6 920.3 2190.6 919.3 2192.6 919.3 2194.6 919.3 2196.6 919.3 2198.6 920.7 2200.6 923.4 2202.6 926 2204.6 928.7 2206.6 933 2208.6 935.7 2210.6 926 2212.6 916.4 2214.6 912.2 2216.6 912.2 2218.6 912.2 2220.6 912.2 2222.6 913.7 2224.6 916.9 2226.6 920 2228.6 923.2 2230.6 927.1 2232.6 931 2234.6 934.9 2236.6 938.7 2238.6 936.3 2240.6 931.5 2242.6 922.1 2244.6 912.6 2246.6 903.1 2248.6 903.1 2250.6 903.1 2252.6 903.1 2254.6 903.1 2256.6 913.7 2258.6 928.1 2260.6 939.5 2262.6 937.8 2264.6 934.3 2266.6 930.9 2268.6 927.5 2270.6 924.1 2272.6 921.6 2274.6 921.6 2276.6 921.6 2278.6 921.6 2280.6 921.6 2282.6 923.7 2284.6 925.8 2286.6 927.9 2288.6 930.2 2290.6 933L2290.6 938.6 2288.6 938.6 2286.6 938.6 2284.6 935.8 2282.6 933 2280.6 930.2 2278.6 927.9 2276.6 927.5 2274.6 930.9 2272.6 934.3 2270.6 937.8 2268.6 939.5 2266.6 940.4 2264.6 941.2 2262.6 942.1 2260.6 942.5 2258.6 942.5 2256.6 942.5 2254.6 942.5 2252.6 942.4 2250.6 928.1 2248.6 931.5 2246.6 936.3 2244.6 938.9 2242.6 941.6 2240.6 944.3 2238.6 944.6 2236.6 944.6 2234.6 944.6 2232.6 944.6 2230.6 942.6 2228.6 938.7 2226.6 934.9 2224.6 931 2222.6 927.1 2220.6 923.2 2218.6 926 2216.6 935.7 2214.6 945.4 2212.6 950.2 2210.6 950.2 2208.6 950.2 2206.6 950.2 2204.6 948.8 2202.6 943.5 2200.6 938.2 2198.6 933 2196.6 928.7 2194.6 926 2192.6 927.8 2190.6 929.7 2188.6 929.7 2186.6 929.7 2184.6 929.7 2182.6 928.3 2180.6 925.2 2178.6 923.2 2176.6 927.4 2174.6 931.5 2172.6 935.7 2170.6 939.8 2168.6 941.7 2166.6 941.7 2164.6 941.7 2162.6 941.7 2160.6 940.1 2158.6 937.1 2156.6 934 2154.6 932.8 2152.6 935.8 2150.6 938.7 2148.6 941.7 2146.6 941.8 2144.6 941.8 2142.6 941.8 2140.6 941.8 2138.6 935.5 2136.6 928.6 2134.6 932 2132.6 936.1 2130.6 940.2 2128.6 944.3 2126.6 948.4 2124.6 948.4 2122.6 948.4 2120.6 948.4 2118.6 948.4 2116.6 942.5 2114.6 935.9 2112.6 929.4 2110.6 925.7 2108.6 932.5 2106.6 933.1 2104.6 933.1 2102.6 933.1 2100.6 933.1 2098.6 930.2 2096.6 925.1 2094.6 929.9 2092.6 934.6 2090.6 939.4 2088.6 941.7 2086.6 941.7 2084.6 941.7 2082.6 941.7 2080.6 940 2078.6 936.9 2076.6 940.3 2074.6 941.6 2072.6 941.6 2070.6 941.6 2068.6 941.6 2066.6 940.8 2064.6 939.2 2062.6 937.6 2060.6 936 2058.6 934.4 2056.6 930.8 2054.6 927.2 2052.6 929 2050.6 933.7 2048.6 938.4 2046.6 938.4 2044.6 938.4 2042.6 938.4 2040.6 938.4 2038.6 934.1 2036.6 927.2 2034.6 925.1 2032.6 932.2 2030.6 940.4 2028.6 944 2026.6 944 2024.6 944 2022.6 944 2020.6 943.5 2018.6 942.5 2016.6 941.5 2014.6 940.5 2012.6 939.5 2010.6 938.5 2008.6 937.5 2006.6 935.1 2004.6 932 2002.6 928.8 2000.6 925.6 1998.6 928.6 1996.6 931.9 1994.6 933.9 1992.6 933.9 1990.6 933.9 1988.6 933.9 1986.6 933.9 1984.6 932 1982.6 930.2 1980.6 932 1978.6 934.3 1976.6 936.6 1974.6 938.9 1972.6 941.2 1970.6 941.3 1968.6 941.3 1966.6 941.3 1964.6 941.3 1962.6 940.5 1960.6 938.9 1958.6 937.3 1956.6 935.7 1954.6 933.6 1952.6 928 1950.6 923.7 1948.6 929.3 1946.6 934.3 1944.6 934.3 1942.6 934.3 1940.6 934.3 1938.6 934.3 1936.6 932.9 1934.6 931.6 1932.6 930.3 1930.6 929.8 1928.6 929.8 1926.6 929.8 1924.6 929.8 1922.6 929.8 1920.6 929.8 1918.6 928.2 1916.6 930.7 1914.6 933.6 1912.6 936.6 1910.6 939.5 1908.6 939.9 1906.6 939.9 1904.6 939.9 1902.6 939.9 1900.6 937.4 1898.6 932.5 1896.6 933.6 1894.6 936.8 1892.6 939.9 1890.6 941.5 1888.6 941.5 1886.6 941.5 1884.6 941.5 1882.6 938.8 1880.6 932 1878.6 938.1 1876.6 942.8 1874.6 942.8 1872.6 942.8 1870.6 942.8 1868.6 939.7 1866.6 933.6 1864.6 928.2 1862.6 929.1 1860.6 929.1 1858.6 929.1 1856.6 929.1 1854.6 925.8 1852.6 934.1 1850.6 942.6 1848.6 942.8 1846.6 942.8 1844.6 942.8 1842.6 942.8 1840.6 945.5 1838.6 955.5 1836.6 955.5 1834.6 955.5 1832.6 955.5 1830.6 952 1828.6 945.1 1826.6 938.1 1824.6 931.1 1822.6 926.6 1820.6 928.8 1818.6 932.6 1816.6 936.3 1814.6 940.1 1812.6 942 1810.6 942 1808.6 942 1806.6 942 1804.6 941.4 1802.6 935.6 1800.6 929.8 1798.6 924 1796.6 916.6 1794.6 923.5 1792.6 932.8 1790.6 939.4 1788.6 945.9 1786.6 948.3 1784.6 948.3 1782.6 948.3 1780.6 948.3 1778.6 946.2 1776.6 942.1 1774.6 938 1772.6 934.2 1770.6 932.9 1768.6 931.5 1766.6 930.2 1764.6 926.5 1762.6 921.7 1760.6 924.8 1758.6 928.4 1756.6 929.6 1754.6 929.6 1752.6 929.9 1750.6 933.3 1748.6 936.7 1746.6 940.2 1744.6 941.6 1742.6 941.6 1740.6 941.6 1738.6 941.6 1736.6 940.3 1734.6 937.7 1732.6 935.1 1730.6 932.5 1728.6 929.9 1726.6 927.8 1724.6 925.7 1722.6 930 1720.6 937.4 1718.6 944.9 1716.6 952.4 1714.6 955.2 1712.6 955.2 1710.6 955.2 1708.6 955.2 1706.6 952.9 1704.6 948.3 1702.6 943.7 1700.6 939.1 1698.6 934.5 1696.6 930.4 1694.6 926.3 1692.6 927.5 1690.6 929.6 1688.6 929.6 1686.6 929.6 1684.6 929.6 1682.6 929.6 1680.6 928.1 1678.6 928 1676.6 933.3 1674.6 938.6 1672.6 939.4 1670.6 939.4 1668.6 939.4 1666.6 939.4 1664.6 939.3 1662.6 939.1 1660.6 938.9 1658.6 938.7 1656.6 938.5 1654.6 938 1652.6 933.8 1650.6 929.6 1648.6 925.4 1646.6 925.3 1644.6 927.2 1642.6 932.9 1640.6 939.3 1638.6 945.7 1636.6 952.1 1634.6 952.1 1632.6 952.1 1630.6 952.1 1628.6 952.1 1626.6 946.5 1624.6 938.4 1622.6 930.2 1620.6 925.1 1618.6 926.3 1616.6 929.8 1614.6 932.2 1612.6 934.5 1610.6 936.9 1608.6 939.2 1606.6 940.4 1604.6 940.4 1602.6 940.4 1600.6 940.4 1598.6 936.4 1596.6 926.5 1594.6 928.5 1592.6 930.7 1590.6 932.6 1588.6 934.4 1586.6 936.3 1584.6 938.1 1582.6 938.1 1580.6 938.1 1578.6 938.1 1576.6 938.1 1574.6 934.7 1572.6 930.8 1570.6 926.8 1568.6 927 1566.6 929.1 1564.6 931.6 1562.6 934.2 1560.6 936.8 1558.6 939.4 1556.6 941.2 1554.6 941.2 1552.6 941.2 1550.6 941.2 1548.6 941.2 1546.6 934 1544.6 926.8 1542.6 922 1540.6 928.6 1538.6 936.3 1536.6 940.1 1534.6 940.1 1532.6 940.1 1530.6 940.1 1528.6 939.6 1526.6 932.3 1524.6 924.9 1522.6 922.2 1520.6 934.9 1518.6 950.1 1516.6 965.2 1514.6 972.8 1512.6 972.8 1510.6 972.8 1508.6 972.8 1506.6 969.1 1504.6 951.4 1502.6 933.9 1500.6 922.2 1498.6 938.8 1496.6 955 1494.6 955 1492.6 955 1490.6 955 1488.6 955 1486.6 950.4 1484.6 945.8 1482.6 941.2 1480.6 936.6 1478.6 933.5 1476.6 931.8 1474.6 930.1 1472.6 928.3 1470.6 926.6 1468.6 924.7 1466.6 922.9 1464.6 921.8 1462.6 922.3 1460.6 926.3 1458.6 930.9 1456.6 935.5 1454.6 937.8 1452.6 937.8 1450.6 937.8 1448.6 937.8 1446.6 936.8 1444.6 933 1442.6 929.2 1440.6 925.4 1438.6 922.7 1436.6 922.8 1434.6 927.3 1432.6 931.2 1430.6 934.3 1428.6 937.4 1426.6 940.6 1424.6 940.6 1422.6 940.6 1420.6 940.6 1418.6 940.6 1416.6 936.3 1414.6 933.7 1412.6 933.7 1410.6 933.7 1408.6 933.7 1406.6 933.7 1404.6 929.4 1402.6 921.7 1400.6 925.6 1398.6 943.5 1396.6 950.5 1394.6 950.5 1392.6 950.5 1390.6 950.5 1388.6 947.7 1386.6 945.5 1384.6 947 1382.6 947 1380.6 947 1378.6 947 1376.6 946.1 1374.6 944.5 1372.6 942.8 1370.6 938.1 1368.6 928.2 1366.6 923 1364.6 928.2 1362.6 931.5 1360.6 933.9 1358.6 936.4 1356.6 936.4 1354.6 936.4 1352.6 936.4 1350.6 936.4 1348.6 934.2 1346.6 930 1344.6 928.1 1342.6 933.1 1340.6 938 1338.6 940.5 1336.6 940.5 1334.6 940.5 1332.6 940.5 1330.6 940.4 1328.6 940 1326.6 939.6 1324.6 939.2 1322.6 938.8 1320.6 938.4 1318.6 935.4 1316.6 931.5 1314.6 927.5 1312.6 926.2 1310.6 931.7 1308.6 935 1306.6 936.4 1304.6 937.7 1302.6 938.7 1300.6 938.7 1298.6 938.7 1296.6 938.7 1294.6 938.7 1292.6 933.2 1290.6 928.1 1288.6 931.2 1286.6 934.3 1284.6 934.3 1282.6 934.3 1280.6 934.3 1278.6 934.3 1276.6 935.3 1274.6 938.9 1272.6 942.5 1270.6 946.1 1268.6 946.1 1266.6 946.1 1264.6 946.1 1262.6 946.1 1260.6 937.8 1258.6 928.5 1256.6 919.3 1254.6 913.6 1252.6 915.8 1250.6 919.4 1248.6 923 1246.6 928.3 1244.6 936.1 1242.6 943.9 1240.6 951.7 1238.6 952 1236.6 952 1234.6 952 1232.6 952 1230.6 951.9 1228.6 951.7 1226.6 951.5 1224.6 951.3 1222.6 951.1 1220.6 948.8 1218.6 937.3 1216.6 928.4 1214.6 931.6 1212.6 934.7 1210.6 937.5 1208.6 940.3 1206.6 943.1 1204.6 943.1 1202.6 943.1 1200.6 943.1 1198.6 943.1 1196.6 937.8 1194.6 928.5 1192.6 930.1 1190.6 939.2 1188.6 948.3 1186.6 952.8 1184.6 952.8 1182.6 952.8 1180.6 952.8 1178.6 950.8 1176.6 945.2 1174.6 939.6 1172.6 937.7 1170.6 941.3 1168.6 943.1 1166.6 943.1 1164.6 943.1 1162.6 943.1 1160.6 942.8 1158.6 937.3 1156.6 931.9 1154.6 926.4 1152.6 922.8 1150.6 923.9 1148.6 925 1146.6 925 1144.6 925 1142.6 925 1140.6 925 1138.6 921.9 1136.6 926.4 1134.6 932.3 1132.6 938.3 1130.6 944.2 1128.6 945.7 1126.6 945.7 1124.6 945.7 1122.6 945.7 1120.6 943.3 1118.6 938.5 1116.6 933.7 1114.6 930.7 1112.6 943.6 1110.6 950 1108.6 950 1106.6 950 1104.6 950 1102.6 939.9 1100.6 933.7 1098.6 933.7 1096.6 933.7 1094.6 933.7 1092.6 933.9 1090.6 939.8 1088.6 942.8 1086.6 942.8 1084.6 942.8 1082.6 942.8 1080.6 941.5 1078.6 938.5 1076.6 935.5 1074.6 931.7 1072.6 937.4 1070.6 946 1068.6 946.9 1066.6 946.9 1064.6 946.9 1062.6 946.9 1060.6 942.3 1058.6 933.1 1056.6 927.5 1054.6 927.5 1052.6 927.5 1050.6 927.5 1048.6 924.7 1046.6 926.2 1044.6 931.9 1042.6 937.5 1040.6 937.9 1038.6 937.9 1036.6 937.9 1034.6 937.9 1032.6 937.3 1030.6 936.2 1028.6 935 1026.6 931.5 1024.6 930.1 1022.6 936.3 1020.6 939.4 1018.6 939.4 1016.6 939.4 1014.6 939.4 1012.6 937.5 1010.6 933.5 1008.6 933 1006.6 939.2 1004.6 945.5 1002.6 945.5 1000.6 945.5 998.6 945.5 996.6 945.5 994.6 939.3 992.6 931 990.6 927.9 988.6 929.4 986.6 929.4 984.6 929.4 982.6 929.4 980.6 927.9 978.6 937.5 976.6 947.7 974.6 957.8 972.6 959 970.6 959 968.6 959 966.6 959 964.6 959 962.6 950.5 960.6 942.1 958.6 933.6 956.6 927.2 954.6 922.5 952.6 925.5 950.6 931.4 948.6 934.3 946.6 934.3 944.6 934.3 942.6 934.3 940.6 932.1 938.6 927.5 936.6 922.9 934.6 927 932.6 931.5 930.6 935.6 928.6 939.7 926.6 943.8 924.6 947.9 922.6 947.9 920.6 947.9 918.6 947.9 916.6 947.9 914.6 946.6 912.6 944.2 910.6 941.7 908.6 939.2 906.6 936.7 904.6 934.1 902.6 928.3 900.6 925.6 898.6 930 896.6 934.3 894.6 934.3 892.6 934.3 890.6 934.3 888.6 934.3 886.6 933.5 884.6 936 882.6 937.9 880.6 937.9 878.6 937.9 876.6 937.9 874.6 937.9 872.6 932.9 870.6 927.8 868.6 937.7 866.6 951.3 864.6 958.1 862.6 958.1 860.6 958.1 858.6 958.1 856.6 956.4 854.6 950.3 852.6 944.2 850.6 938 848.6 931.9 846.6 928.1 844.6 932.1 842.6 935.7 840.6 939.3 838.6 942.9 836.6 946.1 834.6 946.1 832.6 946.1 830.6 946.1 828.6 946.1 826.6 937.9 824.6 929.7 822.6 918.6 820.6 925.4 818.6 933 816.6 936.4 814.6 938.9 812.6 941.3 810.6 942.6 808.6 942.6 806.6 942.6 804.6 942.6 802.6 940.8 800.6 935 798.6 929.2 796.6 923.4 794.6 922.1 792.6 930.9 790.6 940.2 788.6 949.5 786.6 949.5 784.6 949.5 782.6 949.5 780.6 949.5 778.6 942.3 776.6 939.2 774.6 939.2 772.6 939.2 770.6 939.2 768.6 939.2 766.6 936.4 764.6 933.6 762.6 930.8 760.6 928.8 758.6 927.7 756.6 932.9 754.6 933.5 752.6 933.5 750.6 933.5 748.6 933.5 746.6 931.4 744.6 932 742.6 937.2 740.6 937.3 738.6 937.3 736.6 937.3 734.6 937.3 732.6 935.7 730.6 932.4 728.6 929.1 726.6 931.1 724.6 934.9 722.6 938.7 720.6 942.5 718.6 944.4 716.6 944.4 714.6 944.4 712.6 944.4 710.6 943.7 708.6 938.1 706.6 944.5 704.6 947.8 702.6 947.8 700.6 947.8 698.6 947.8 696.6 946.9 694.6 941.9 692.6 936.9 690.6 931.1 688.6 924.5 686.6 918.8 684.6 923.4 682.6 928.9 680.6 937 678.6 945.5 676.6 954.1 674.6 954.1 672.6 954.1 670.6 954.1 668.6 954.1 666.6 952.5 664.6 950.5 662.6 948.5 660.6 946.5 658.6 940.8 656.6 934.9 654.6 928.9 652.6 929.5 650.6 929.5 648.6 929.5 646.6 929.5 644.6 932.4 642.6 940.4 640.6 942.8 638.6 942.8 636.6 942.8 634.6 942.8 632.6 942.6 630.6 942.2 628.6 941.8 626.6 936.2 624.6 936.2 622.6 939.1 620.6 939.1 618.6 939.1 616.6 939.1 614.6 939.1 612.6 932.4 610.6 929.1 608.6 929.1 606.6 929.1 604.6 929.1 602.6 929.1 600.6 924.3 598.6 927 596.6 932.1 594.6 937.3 592.6 942.4 590.6 942.4 588.6 942.4 586.6 942.4 584.6 942.4 582.6 935.2 580.6 943.1 578.6 950.9 576.6 951.9 574.6 951.9 572.6 951.9 570.6 951.9 568.6 948.6 566.6 942 564.6 935.4 562.6 928.8 560.6 931.6 558.6 935.2 556.6 938.8 554.6 941.2 552.6 941.2 550.6 941.2 548.6 941.2 546.6 941.2 544.6 938.3 542.6 935.3 540.6 932.3 538.6 936.3 536.6 941.1 534.6 943.5 532.6 943.5 530.6 943.5 528.6 943.5 526.6 941.8 524.6 936.1 522.6 930.3 520.6 927 518.6 926 516.6 929.2 514.6 932.6 512.6 935.9 510.6 937.6 508.6 937.6 506.6 937.6 504.6 937.6 502.6 936.5 500.6 930.2 498.6 923.9 496.6 923.8 494.6 925.7 492.6 928 490.6 935.1 488.6 942.3 486.6 949.4 484.6 949.4 482.6 949.4 480.6 949.4 478.6 949.4 476.6 930.6 474.6 929.9 472.6 934.4 470.6 937.7 468.6 937.7 466.6 937.7 464.6 937.7 462.6 937.7 460.6 933.1 458.6 929.5 456.6 929.5 454.6 929.5 452.6 929.5 450.6 929.5 448.6 926.7 446.6 923.5 444.6 928.8 442.6 934 440.6 939.3 438.6 944.5 436.6 947.1 434.6 947.1 432.6 947.1 430.6 947.1 428.6 942.2 426.6 929.6 424.6 917.1 422.6 912.9 420.6 921.1 418.6 929.2 416.6 937.4 414.6 945.6 412.6 945.6 410.6 945.6 408.6 945.6 406.6 945.6 404.6 940.1 402.6 940 400.6 940 398.6 940 396.6 940 394.6 939.7 392.6 933.8 390.6 928.4 388.6 931.5 386.6 934.1 384.6 934.1 382.6 934.1 380.6 934.1 378.6 934.1 376.6 930.3 374.6 928.7 372.6 931.6 370.6 934.3 368.6 934.3 366.6 934.3 364.6 934.3 362.6 934.3 360.6 931.5 358.6 936.1 356.6 940.7 354.6 942.8 352.6 942.8 350.6 942.8 348.6 942.8 346.6 941.3 344.6 938.4 342.6 935.4 340.6 932.4 338.6 929.4 336.6 927 334.6 925.7 332.6 931.1 330.6 934 328.6 934 326.6 934 324.6 934 322.6 931.3 320.6 932 318.6 936.6 316.6 941.2 314.6 943.4 312.6 943.4 310.6 943.4 308.6 943.4 306.6 942.3 304.6 937.5 302.6 937.1 300.6 937.1 298.6 937.1 296.6 937.1 294.6 937.1 292.6 933.9 290.6 930.7 288.6 927.6 286.6 924.5 284.6 926.9 282.6 929.3 280.6 931.8 278.6 934.2 276.6 934.2 274.6 934.2 272.6 934.2 270.6 934.2 268.6 931.3 266.6 934.2 264.6 937 262.6 937 260.6 937 258.6 937 256.6 937 254.6 932.4 252.6 935.3 250.6 938.1 248.6 939.2 246.6 939.2 244.6 939.2 242.6 939.2 240.6 935.1 238.6 926.8 236.6 924.6 234.6 924 232.6 923.3 230.6 926.2 228.6 935.2 226.6 940.4 224.6 945.6 222.6 945.6 220.6 945.6 218.6 945.6 216.6 947 214.6 954.4 212.6 954.4 210.6 954.4 208.6 954.4 206.6 954.4 204.6 944 202.6 924 200.6 930.7 198.6 933.3 196.6 933.3 194.6 933.3 192.6 933.3 190.6 933.3 188.6 943.6 186.6 943.6 184.6 943.6Z" fill="#00ff00" stroke="#00ff00" stroke-width="6.2"/>
<path d="M184.6 943.6 188.1 902.1 191.5 882.1 193.8 934.4 197.3 929.8 201.9 895.9 205.3 911.3 208.8 945.9 211.1 956.7 214.6 934.4 218 923.5 220.3 946.4 224.9 934.4 229.5 912 232.4 916.4 235.3 922.9 238.8 926.4 242.2 925.2 245.7 939.4 248.3 933.6 250.9 933.1 253.4 926.5 256 924.7 260.6 937.1 263.7 934 266.8 925.7 269.9 923.5 274.5 934.4 277 933.7 279.5 926.7 282.1 927.1 284.6 920.2 287.1 918.9 290 925 292.9 926.3 295.8 934.2 298.7 937.1 301.5 930.5 304.4 927.5 307.9 938.3 311.3 944.1 314.2 935.3 317.1 932 320 922.8 322.9 917.8 327.5 934.4 332.1 921.2 335.1 925.9 338.2 923.2 341.3 927.5 343.9 933.3 346.5 933.1 349.1 941.1 351.7 942.9 354.3 935.6 356.8 932.6 359.4 923.5 362 918.9 366.6 934.4 369.7 931.3 372.8 923.5 375.9 921.2 379.3 928.9 382.8 934.4 385.8 928.3 388.9 927 392 920.1 395.4 927.9 398.9 940.6 401.6 940 404.3 934.1 407 934.4 410.4 946.4 413.3 936.9 416.2 921.6 419.1 913.6 421.9 899.4 424.8 904 427.7 911.3 430.6 931.2 433.5 947.5 436 939.7 438.5 935.4 441.1 925.5 443.6 923.3 446.1 914.3 448.8 918.3 451.5 926.2 454.2 929.8 457.6 925.5 461.1 925.2 464 933.7 466.9 938.3 470.3 929.3 473.8 922.9 476.7 919.6 479.5 912 481.8 952.1 485.3 938.6 488.8 927.5 491.6 927.2 494.5 920 497.4 921.4 500.3 916.6 503.7 925 507.2 938.3 510.3 934.6 513.3 926.6 516.4 922.9 519.5 926.4 522.5 923.5 525.6 927.5 528.5 938.2 531.4 944.1 534.1 935.3 536.8 933.1 539.4 924.7 542.3 927.4 545.2 935.5 548.1 935.5 551 941.7 553.5 939.6 556 930.4 558.6 929.9 561.1 921.4 563.6 918.9 566.2 928.9 568.8 934.6 571.4 946.9 574 953.3 577 939.4 580 929.8 583.8 923.5 588.4 942.9 591.3 936.6 594.2 926.7 597.1 922.3 600 913.2 603.4 919.5 606.9 929.8 610.3 927.1 613.8 921.2 618.4 939.4 621.5 933.3 624.5 932.9 627.6 925.8 632.2 941.7 635.1 940.7 638 942.9 641.4 930.9 644.9 915.5 649.5 929.8 652.4 921.8 655.3 918.9 658.3 929.6 661.4 935.4 664.5 946.4 667.2 950.3 669.8 949.4 672.5 954.4 675.4 944.4 678.3 929.8 681 920.9 683.7 916.9 686.4 907.4 689.2 913.7 692.1 922.9 695.6 934.4 698.5 943.9 701.3 948.7 704.8 935.4 708.2 925.8 711.7 937 715.2 945.2 717.7 937.9 720.2 937.4 722.8 928.9 725.3 928.6 727.8 921.2 730.4 924 733 931.5 735.6 931.6 738.2 938.3 741.7 930.8 745.1 920.1 748.6 924.9 752 934.4 756.6 922.4 759.7 926.9 762.8 924.8 765.9 929.8 769.3 936.6 772.8 939.4 775.6 927.9 778.5 921.2 781.4 937.9 784.3 951 787.7 933.6 791.2 918.9 794.3 921.8 797.3 919.7 800.4 922.9 803.9 934.9 807.3 942.9 810.8 936.9 814.2 934.4 817.3 924.3 820.4 909.6 823.5 899.4 828.1 927.5 832.7 946.4 835.7 942.7 838.8 933.2 841.9 929.8 844.8 925.2 847.6 916.6 850.5 924.4 853.4 934.4 856.1 944 858.8 948.7 861.5 959 864.9 937.3 868.4 912 871 917.1 873.6 927.1 876.2 930.6 878.8 938.3 882.2 935.9 885.7 929.8 889.1 929.6 892.6 934.4 895.7 929.3 898.7 919.7 901.8 914.3 905.3 926.5 908.7 934.4 911.6 936 914.5 943.1 917.4 943.7 920.2 948.7 923.3 943.4 926.4 934.9 929.4 929.8 932.9 923.8 936.4 913.2 939.4 918.6 942.5 929.7 945.6 934.4 948.3 924 951 920.9 953.6 910.9 956.3 915.6 959 924.7 961.7 929.8 965.2 941.9 968.6 959 970.4 959 973.2 945.7 976.1 929.8 980.7 912 985.3 929.8 988 924.5 990.7 923.5 993.4 917.8 996.9 930.6 1000.3 946.4 1003 939.5 1005.7 928.3 1008.4 921.2 1011.5 928.4 1014.5 932.3 1017.6 939.4 1020.3 933.6 1023 921.5 1025.7 914.3 1028.5 926.1 1031.4 934.4 1034.9 934.3 1038.3 938.3 1041 932.6 1043.7 920.7 1046.4 915.5 1049.1 922 1051.8 921.5 1054.5 927.5 1057.9 929.2 1061.4 927.5 1066 948.7 1069.4 931.8 1072.9 918.9 1076.4 928.2 1079.8 934.4 1082.7 937.3 1085.6 942.9 1088.3 936.7 1091 925.1 1093.6 918.9 1098.2 934.4 1101.7 929.2 1105.2 921.2 1107.5 951 1112.1 921.2 1115.5 923.8 1119 929.8 1122.4 939.7 1125.9 946.4 1128.8 936.6 1131.7 931.7 1134.5 918.7 1137.4 912 1140.9 920.5 1144.3 925.2 1147.2 922.4 1150.1 923.6 1153 919.4 1155.9 918.9 1158.9 929.7 1162 933.6 1165.1 944.1 1168.1 940.3 1171.2 930.9 1174.3 927.5 1177.4 937.8 1180.4 942.8 1183.5 953.3 1186.1 944.1 1188.7 928.6 1191.3 920.1 1193.9 906.3 1196.6 917.2 1199.2 932.8 1201.9 944.1 1205.4 937.9 1208.8 934.4 1211.4 932.2 1214 924.9 1216.6 924.2 1219.2 917.8 1222.1 932.7 1225 951 1227.9 952.8 1230.7 949.8 1233.6 953.5 1236.5 952.1 1240 936.9 1243.4 925.2 1246.5 921.1 1249.6 912.4 1252.6 908.6 1256.1 912.9 1259.5 914.3 1263 928.1 1266.5 946.4 1269.5 942.8 1272.6 933.7 1275.7 929.8 1279.1 933.6 1282.6 934.4 1285.7 928 1288.7 927.4 1291.8 920.1 1295.3 927.5 1298.7 939 1302.2 939.2 1305.6 934.4 1309.1 922.5 1312.5 915.5 1315.4 923.4 1318.3 924.9 1321.2 934.1 1324.1 938.3 1326.9 936.9 1329.8 940.7 1332.7 938.2 1335.6 940.6 1338.6 935.1 1341.7 923.6 1344.8 917.8 1347.9 926.1 1350.9 928.6 1354 937.1 1357 935.4 1360 929.8 1362.7 922.9 1366.1 916.1 1369.6 913.2 1372.5 929.4 1375.3 941.7 1378.8 943 1382.3 947.5 1385.7 928.2 1388.4 937.7 1391.1 942.3 1393.8 951 1398.4 909.7 1401.8 915.2 1405.3 916.6 1409.9 934.4 1413.4 929.9 1416.8 928.2 1419.7 936.5 1422.6 940.6 1426 934 1429.5 929.8 1432.9 923.9 1436.4 914.3 1439.1 916.4 1441.8 923.3 1444.5 925.2 1447.9 929.4 1451.4 938.3 1454.8 932.5 1458.3 922.4 1461.4 919.3 1464.4 922.8 1467.5 920.1 1470.2 920.1 1472.9 927.6 1475.6 927.5 1478.3 927.4 1481 933.5 1483.6 934.4 1486.7 940.2 1489.8 950.1 1492.9 955.6 1497.5 911.3 1500.9 900.5 1503.8 915.5 1506.7 934.4 1511.3 975.2 1514.7 950.4 1518.2 922.9 1521.7 914.8 1525.1 912 1527.8 923.8 1530.5 929.3 1533.2 941.7 1535.9 932.7 1538.6 920.1 1541.2 910.9 1544.7 919.9 1548.2 925.2 1552.8 941.7 1555.8 935.4 1558.9 935.2 1562 929.8 1565.1 924 1568.1 924.5 1571.2 920.1 1574.3 923.7 1577.3 934.8 1580.4 938.3 1583.5 933.3 1586.6 934.7 1589.6 929.8 1592.7 923.7 1595.8 923.2 1598.8 917.8 1603.5 940.6 1606.5 935.9 1609.6 935.5 1612.7 929.8 1615.4 922.8 1618 921.9 1620.7 915.5 1623.6 921 1626.5 929.8 1629.4 942.7 1632.3 953.3 1634.9 943.5 1637.6 938.3 1640.3 927.5 1643.4 923 1646.5 923.9 1649.5 918.9 1652.6 923 1655.7 932.9 1658.8 938.3 1661.6 937.5 1664.5 941.3 1667.4 937.8 1670.3 939.4 1673.7 931.7 1677.2 921.2 1680.3 922.3 1683.3 929.1 1686.4 929.8 1689.5 924.6 1692.5 925.7 1695.6 920.1 1699.1 924.7 1702.5 934.4 1705.6 942.6 1708.7 946.4 1711.8 955.6 1715.2 944.1 1718.7 929.8 1723.3 920.1 1726.3 921.1 1729.4 928.7 1732.5 929.8 1735.6 931.3 1738.6 939.6 1741.7 941.7 1744.5 935.5 1747.2 934.5 1750 927.5 1753.8 929.8 1756.9 921.6 1760 920.9 1763 913.2 1766.5 919.4 1770 929.8 1773.4 934 1776.9 934.4 1780.3 939.4 1783.8 948.7 1786.7 941.4 1789.5 929.8 1792.4 910.8 1795.3 895.9 1798.8 910.8 1802.2 922.9 1805.7 931.1 1809.1 942.9 1812 939.3 1814.9 930.6 1817.8 928.7 1820.6 921.2 1824.1 922.3 1827.6 927.5 1830.2 939.3 1832.9 944.4 1835.6 955.6 1840.2 908.6 1843.1 929 1846 945.2 1848.7 931.3 1851.4 924.5 1854.1 910.9 1856.9 918.2 1859.8 929.8 1862.7 925.9 1865.6 918.2 1868.3 925.3 1871 935.9 1873.6 942.9 1876.5 926.9 1879.4 914.3 1882.1 925.3 1884.8 931.5 1887.5 941.7 1890.3 939.1 1893.2 931.5 1896.1 929.6 1899 923.5 1902.4 930.5 1905.9 940.6 1908.8 937.9 1911.7 930.9 1914.5 929 1917.4 923.5 1920.9 924.3 1924.3 929.8 1927.2 931.3 1930.1 927.9 1933 931.2 1935.9 929.8 1939.3 930.8 1942.8 934.4 1945.5 928.4 1948.1 918.4 1950.8 912 1953.5 920.8 1956.2 925.6 1958.9 934.4 1962 938 1965 937.1 1968.1 941.7 1970.9 940.9 1973.6 933.9 1976.4 933.5 1979.2 927.7 1981.9 925.8 1985 930.5 1988.1 930.1 1991.2 934.4 1994.2 931.6 1997.3 922.7 2000.4 918.9 2003.2 925.2 2006.1 926.9 2009 933.7 2011.9 937.1 2014.7 936.4 2017.4 941.1 2020.2 939.7 2022.9 943.7 2025.7 944.1 2030.3 925.2 2033.4 923.2 2036.5 926.6 2039.5 923.5 2044.1 939.4 2047.2 929.7 2050.3 926.4 2053.4 917.8 2056.4 921 2059.5 931.4 2062.6 934.4 2065.7 935 2068.7 941 2071.8 941.7 2075.3 933.4 2078.7 929.8 2082.2 937 2085.6 941.7 2088.5 933.6 2091.4 929.9 2094.3 919.4 2097.1 914.3 2100.6 926.1 2104.1 934.4 2107.5 920.1 2111 910.9 2113.8 922.6 2116.7 928.7 2119.6 941.4 2122.5 948.7 2125.6 941 2128.6 937.3 2131.7 929.8 2134.5 924.6 2137.2 924.4 2140 918.9 2143.8 942.9 2146.7 937 2149.5 936.2 2152.4 927.7 2155.3 925.8 2157.9 931.4 2160.5 931.3 2163.1 939.5 2165.7 941.7 2168.2 934.1 2170.7 933 2173.3 924.3 2175.8 922.2 2178.3 915.5 2181.4 918.6 2184.5 927.5 2187.6 929.8 2190.4 922.8 2193.3 918.9 2196 924.8 2198.7 924 2201.4 929.8 2204.1 937.9 2206.8 941.9 2209.4 951 2212.1 939.5 2214.8 923.9 2217.5 912 2221 919.7 2224.4 922.9 2227.3 926.8 2230.2 935.1 2233.1 938.1 2235.9 945.2 2238.6 943.1 2241.3 936.5 2244 934.4 2247.5 919.3 2250.9 901.7 2253.8 920.5 2256.7 942.9 2259.8 943.8 2262.8 938.8 2265.9 939 2268.5 936.1 2271.1 927.5 2273.7 927.6 2276.3 921.2 2279 922.7 2281.6 928.4 2284.3 929.8 2287.8 932.5 2291.2 939.4" stroke="#00ff00" stroke-width="6.2" fill="none"/>
</g>
<text x="184.5" y="1193" font-size="49.5" fill="#262626" stroke="#262626" stroke-width="1.0" text-anchor="middle">0</text>
<text x="397.6" y="1193" font-size="49.5" fill="#262626" stroke="#262626" stroke-width="1.0" text-anchor="middle">100</text>
<text x="610.7" y="1193" font-size="49.5" fill="#262626" stroke="#262626" stroke-width="1.0" text-anchor="middle">200</text>
<text x="823.8" y="1193" font-size="49.5" fill="#262626" stroke="#262626" stroke-width="1.0" text-anchor="middle">300</text>
<text x="1036.9" y="1193" font-size="49.5" fill="#262626" stroke="#262626" stroke-width="1.0" text-anchor="middle">400</text>
<text x="1250" y="1193" font-size="49.5" fill="#262626" stroke="#262626" stroke-width="1.0" text-anchor="middle">500</text>
<text x="1463.1" y="1193" font-size="49.5" fill="#262626" stroke="#262626" stroke-width="1.0" text-anchor="middle">600</text>
<text x="1676.2" y="1193" font-size="49.5" fill="#262626" stroke="#262626" stroke-width="1.0" text-anchor="middle">700</text>
<text x="1889.3" y="1193" font-size="49.5" fill="#262626" stroke="#262626" stroke-width="1.0" text-anchor="middle">800</text>
<text x="2102.4" y="1193" font-size="49.5" fill="#262626" stroke="#262626" stroke-width="1.0" text-anchor="middle">900</text>
<text x="2315.5" y="1193" font-size="49.5" fill="#262626" stroke="#262626" stroke-width="1.0" text-anchor="middle">1000</text>
<text x="168" y="1140.1" font-size="49.5" fill="#262626" stroke="#262626" stroke-width="1.0" text-anchor="end">-0.2</text>
<text x="168" y="950.4" font-size="49.5" fill="#262626" stroke="#262626" stroke-width="1.0" text-anchor="end">0</text>
<text x="168" y="760.6" font-size="49.5" fill="#262626" stroke="#262626" stroke-width="1.0" text-anchor="end">0.2</text>
<text x="1250" y="1260.1" font-size="54.3" fill="#262626" stroke="#262626" stroke-width="1.0" text-anchor="middle">Time (sec)</text>
<text transform="translate(58 926.7) rotate(-90)" font-size="54.3" fill="#262626" stroke="#262626" stroke-width="1.0" text-anchor="middle">North (m/s)</text>
<path d="M399.1 1382V1782M612.2 1382V1782M825.3 1382V1782M1038.4 1382V1782M1251.5 1382V1782M1464.6 1382V1782M1677.7 1382V1782M1890.8 1382V1782M2103.9 1382V1782M186 1582H2317" stroke="#dedede" stroke-width="3.4" fill="none"/>
<path d="M186 1782v-22.9M186 1382v22.9M399.1 1782v-22.9M399.1 1382v22.9M612.2 1782v-22.9M612.2 1382v22.9M825.3 1782v-22.9M825.3 1382v22.9M1038.4 1782v-22.9M1038.4 1382v22.9M1251.5 1782v-22.9M1251.5 1382v22.9M1464.6 1782v-22.9M1464.6 1382v22.9M1677.7 1782v-22.9M1677.7 1382v22.9M1890.8 1782v-22.9M1890.8 1382v22.9M2103.9 1782v-22.9M2103.9 1382v22.9M2317 1782v-22.9M2317 1382v22.9" stroke="#262626" stroke-width="3.85" fill="none"/>
<path d="M186 1782h22.9M2317 1782h-22.9M186 1582h22.9M2317 1582h-22.9M186 1382h22.9M2317 1382h-22.9" stroke="#262626" stroke-width="3" fill="none"/>
<rect x="186" y="1382" width="2131" height="400" stroke="#262626" stroke-width="3.85" fill="none"/>
<clipPath id="c2"><rect x="182.4" y="1378.4" width="2138.2" height="407.2"/></clipPath>
<g clip-path="url(#c2)" stroke-linejoin="round" stroke-linecap="round">
<path d="M182.8 1592.5 182.8 1595.5 184.6 1613.9 185 1492.7 185.8 1449.6 187.2 1613 188.1 1407.1 188.1 1617.4 189.4 1418.6 190.4 1507.9 191.5 1407 191.6 1507.5 192.7 1451.8 193.8 1505.8 193.8 1509.1 195 1465.7 196 1507.5 198.2 1467.6 199.6 1468 200.4 1507.6 200.7 1510.2 202.6 1468.2 203 1468 204.2 1512.5 204.8 1472.8 206.5 1472.7 207 1534.2 207.7 1540.2 208.8 1495.7 209.2 1549.7 211.1 1563.3 211.4 1512.2 212.3 1514.1 213.6 1577.2 214.6 1534.8 215.8 1599.5 216.9 1609.3 218 1543.5 218 1541.8 220.2 1605.1 220.3 1609.3 221.5 1560.2 222.4 1597.8 223.8 1597.8 224.6 1565.6 226.1 1564.8 226.8 1592 228.4 1590.9 229 1571.2 229.5 1569.4 231.2 1589.4 231.8 1583.2 233 1588.6 233.4 1584.3 235.6 1588 237.6 1585.6 237.8 1587.7 239.9 1587.4 240 1584.8 242.2 1587.3 244.4 1583.7 244.5 1583.3 246.6 1587.3 246.8 1587.4 248.8 1582.1 251 1583.8 251.4 1581 253.2 1582.1 253.7 1581.7 255.4 1581 257.6 1581.7 259.8 1581 260.6 1581 262 1581.6 262.9 1581.7 264.2 1580.6 266.4 1582 268.6 1580.1 269.9 1579.8 270.8 1582.4 272.2 1582.8 273 1580 275.2 1582.3 276.8 1579.8 277.4 1581.9 279.6 1579.6 281.4 1581.7 281.8 1579 283.7 1578.6 284 1581.5 286.2 1578.8 288.4 1581.3 290.6 1578.9 290.6 1581.7 290.6 1578.6 292.8 1581.6 295 1580.3 297.2 1581.7 297.5 1581 299.4 1581.4 299.8 1581.7 301.6 1573.7 303.3 1569.4 303.8 1582.1 306 1568.9 306.7 1582.8 307.9 1567.1 308.2 1587 310.4 1563.2 311.3 1557.9 312.5 1600.1 312.6 1562.4 314.8 1603 315.9 1560.2 315.9 1609.3 317 1565.3 319.2 1605.9 320.6 1560.2 320.6 1607 321.4 1561.3 323.6 1606.5 324 1546.4 324 1611.6 325.8 1548 327.5 1622 328 1543.1 328.6 1537.2 330.2 1614.8 332.4 1550.4 333.2 1541.8 334.4 1625.4 334.6 1549.6 336.8 1622.7 339 1556.1 339 1632.4 339 1555.6 341.2 1628.3 343.4 1570 343.6 1637 343.6 1564.8 345.6 1627.9 347.1 1567.1 347.8 1629.6 349.4 1593.6 350 1633.4 350.5 1634.7 352.2 1596 354.4 1627.9 355.1 1594.8 355.1 1630.1 356.6 1594.9 358.8 1628.1 361 1595.5 362 1630.1 363.2 1595.3 364.3 1594.8 365.4 1630.3 367.6 1595.2 368.9 1631.2 368.9 1590.2 369.8 1631 372 1590 373.6 1587.9 374.2 1631.7 375.9 1634.7 376.4 1596.5 378.2 1594.8 378.6 1634.3 380.5 1634.7 380.8 1593.9 382.8 1589 383 1632.4 385.2 1595.6 387.4 1632.6 387.4 1592.5 387.4 1637 389.6 1596.1 391.8 1629.8 394 1592.2 394.3 1627.7 394.3 1590.2 396.2 1624.3 398.4 1590.8 398.9 1623.1 400.1 1585.6 400.6 1618.2 402.8 1589.4 403.5 1620.8 405 1592.2 405.8 1592.5 407.2 1638.8 408.1 1645 409.4 1602.7 410.4 1604 411.6 1654 413.8 1606.7 415 1669.2 415 1601.7 416 1667 418.2 1608 419.6 1610.9 420.4 1665.5 421.9 1668.1 422.6 1620.5 424.2 1622.4 424.8 1667.2 427 1629.3 428.9 1673.8 428.9 1624.7 429.2 1669.7 431.4 1634.8 433.5 1638.6 433.6 1669.8 435.8 1671.5 438 1642.8 440.2 1675.7 440.4 1640.9 442.4 1673.9 442.7 1678.4 444.6 1640 446.8 1674.3 447.3 1632.8 449 1675 449.6 1679.6 451.2 1635.5 453.4 1678 455.6 1634.4 456.5 1680.7 456.5 1634 457.8 1677.6 460 1637.7 462.2 1681.8 463.4 1640.9 464.4 1681.6 465.7 1683 466.6 1638.6 468 1636.2 468.8 1677.2 471 1630.7 472.6 1673.8 472.6 1627 473.2 1672.9 475.4 1621.5 476.1 1619 477.6 1665 479.5 1662.3 479.8 1622.3 481.8 1621.3 482 1661 484.1 1599.4 484.1 1660 484.2 1605.7 486.4 1650 487.6 1590.2 488.6 1647.7 488.8 1648.5 490.8 1545 491.1 1537.2 493 1643.8 493.4 1648.5 495.2 1542 495.7 1537.2 497.4 1642.9 498 1643.9 499.6 1552.5 500.3 1544.1 501.8 1615.3 502.6 1620.8 504 1548.3 504.9 1544.1 506.2 1611.8 507.2 1613.9 508.3 1567.1 508.4 1622.1 510.6 1568.9 511.8 1648.5 512.8 1571.8 514.1 1569.4 515 1616.9 516.4 1604.7 517.2 1576.8 518.7 1576.3 519.4 1592.6 521 1586.3 521.6 1578.3 523.8 1584.9 525.6 1581 525.6 1585.1 526 1581.4 528.2 1584.7 530.4 1583.4 532.5 1584.2 532.5 1584.2 532.6 1584.2 534.8 1582.6 537 1582.3 539.2 1579.2 539.5 1581.7 539.5 1578.6 541.4 1580.7 543.6 1574.7 545.8 1579.2 546.4 1571.7 546.4 1579.4 548 1568.8 550.2 1581.4 551 1562.5 551 1584 552.4 1565.6 554.6 1597 555.6 1567.1 555.6 1604.8 556.8 1566.3 559 1640.8 559 1643.9 560.2 1555.6 561.2 1634.3 562.5 1643.9 563.4 1537.8 564.8 1509.6 565.6 1623 567.1 1632.4 567.8 1513.5 569.4 1495.7 570 1624.1 571.7 1641.6 572.2 1509.9 574 1498 574.4 1635.1 576.3 1637 576.6 1516.6 578.8 1607 580 1523.3 580 1597.8 581 1522.5 581.5 1595.5 583.2 1519.8 583.8 1518.7 585.4 1595.4 586.1 1598.9 587.3 1500.3 587.6 1572.3 589.6 1540.2 589.8 1502.5 591.9 1498 592 1535.3 593 1540.2 594.2 1480.2 595.4 1465.8 596.4 1531.4 597.6 1537.9 598.6 1500.7 598.8 1498 600.8 1532.6 603 1503.6 603.4 1502.6 604.6 1535.6 605.2 1496.8 606.9 1488.8 607.4 1556.1 608 1563.2 609.6 1487 610.3 1484.2 611.5 1560.9 611.8 1489.8 613.8 1493.4 614 1564 616.1 1577 616.2 1516.2 618.4 1570.6 618.4 1523.3 620.6 1571.5 620.7 1574.8 622.8 1518.3 623 1511.8 625 1592 625.3 1602.4 627.2 1514.9 627.6 1618.5 627.6 1514.1 629.4 1615 631.1 1484.2 631.1 1631.2 631.6 1509.5 633.4 1532.5 633.8 1616.9 634.5 1623.1 635.7 1576.3 636 1618.3 638.2 1580.8 639.1 1620.8 640.4 1580.9 641.4 1581 642.6 1612.3 643.7 1613.9 644.8 1580.1 647 1607.5 648.3 1576.3 648.3 1609.3 649.2 1579.1 651.4 1607.5 653 1569.4 653.6 1607.4 655.2 1609.3 655.8 1574 658 1605.8 659.9 1569.4 660.2 1608.5 662.2 1609.3 662.4 1562.7 664.5 1555.6 664.6 1613 666.8 1550.2 666.8 1541.8 669 1616.1 669.1 1623.1 671.2 1564.8 671.4 1564.8 673.4 1623.7 675.6 1570.5 676 1634.7 677.8 1566.6 678.3 1560.2 680 1637.8 682.2 1564.6 682.9 1646.2 684.4 1559.5 685.2 1557.9 686.6 1631.4 687.5 1627.8 688.8 1562.4 691 1632.8 692.1 1548.7 692.1 1643.9 693.2 1560.6 695.4 1635.4 696.7 1576.3 697.6 1640.4 699 1643.9 699.8 1584.2 702 1633 703.6 1578.6 704.2 1633.9 705.9 1632.4 706.4 1585.6 708.2 1587.9 708.6 1644.1 710.5 1656.5 710.8 1592.3 712.9 1592.5 713 1641.4 715.2 1634.7 717.4 1576.3 717.5 1574 719.6 1630.9 721.8 1575 722.1 1633.5 722.1 1574 724 1625.6 726.2 1586.1 726.7 1585.6 728.4 1623.8 729 1625.4 730.6 1584.9 732.8 1623.8 733.6 1578.7 733.6 1630 735 1583.9 737.2 1630.3 738.2 1587.9 739.4 1639.3 739.4 1590.8 741.6 1632.6 743.8 1589.8 745.1 1630.1 745.1 1586.7 746 1630.2 748.2 1594.1 749.7 1594.8 750.4 1631 752 1632.4 752.6 1589.1 754.3 1646.2 754.3 1585.6 754.8 1640.2 757 1581.7 759.2 1641.4 761.2 1571.7 761.2 1645 761.4 1578.2 763.6 1638.9 765.8 1580.3 768 1636.8 768.2 1581 768.2 1640.4 770.2 1584.9 772.4 1634.2 772.8 1581 774.6 1638.6 775.1 1639.3 776.8 1582.4 779 1636.1 779.7 1576.3 781.2 1634.9 782 1562.5 782 1637 783.4 1568.2 785.6 1632.8 787.8 1562.2 788.9 1638.1 788.9 1555.6 790 1635.4 791.2 1648.5 792.2 1578.9 793.5 1576.3 794.4 1644.7 796.6 1584.5 798.1 1648.5 798.1 1581 798.8 1642.3 801 1584.5 802.7 1632.4 803.2 1585.4 805 1581 805.4 1639.6 807.6 1586.3 809.6 1660 809.8 1586.9 811.9 1583.2 812 1642 814.2 1581.9 814.2 1639.3 816.4 1577.1 816.5 1569.4 818.6 1628.8 820.8 1571.5 821.1 1634.7 823 1573.8 823.5 1569.4 825.2 1626.2 827.4 1577 828.1 1632.4 829.6 1572.5 830.4 1571.7 831.8 1636.4 834 1582.2 835 1641.6 835 1581 836.2 1638.7 838.4 1582.5 839.6 1632.4 840.6 1581.4 841.9 1581 842.8 1631.2 844.2 1637 845 1587.8 846.5 1583.3 847.2 1637.3 849.4 1581.7 851.1 1653.1 851.6 1584.6 853.4 1576.3 853.8 1646.8 856 1558.9 858 1653.1 858 1541.8 858.2 1641 860.4 1566.3 862.6 1637.6 862.6 1569.4 862.6 1639.3 864.8 1579.2 867 1634.8 869.2 1579.5 869.5 1637 869.5 1576.3 871.4 1639.2 873.6 1581.2 875.3 1671.5 875.8 1572 876.5 1569.4 878 1644.6 879.9 1632.4 880.2 1562.9 881.1 1555.6 882.4 1627.3 884.6 1552.8 885.7 1627.7 886.8 1550.9 888 1546.4 889 1608.7 890.3 1609.3 891.2 1548.1 892.6 1548.7 893.4 1612.2 894.9 1620.8 895.6 1536.1 897.2 1521.1 897.8 1661.7 898.3 1670.4 900 1540.9 901.8 1630 901.8 1546.3 902.2 1622.5 904.4 1514.3 905.2 1493.4 906.4 1618.5 906.6 1508.6 908.8 1600 909.9 1544.1 911 1595.1 911 1600.1 913.2 1552.8 915.4 1597.3 915.6 1548.7 915.6 1597.8 917.6 1550.9 919.8 1607.2 920.2 1549.8 922 1606.6 922.5 1613.9 924.2 1548 926 1544.1 926.4 1605.3 928.6 1532.4 929.5 1600.1 929.5 1523.3 930.8 1595.4 933 1528.8 934.1 1615.1 935.2 1520.6 936.4 1516.4 937.4 1607.4 939.6 1526.2 941 1602.4 941 1516.4 941.8 1605.8 944 1512.7 944.4 1647.3 946.2 1491.3 946.7 1486.5 947.9 1676.1 948.4 1493 950.6 1673.2 952.5 1504.9 952.5 1698 952.8 1514.9 955 1665.1 957.1 1639.3 957.2 1525.2 959.4 1629.7 961.6 1528.1 961.7 1639.3 961.7 1516.4 963.8 1635 966 1526.5 966.3 1632.4 966.3 1514.1 968.2 1634.8 970 1511.8 970 1639.3 970.4 1525.5 972.6 1611.7 973.8 1521 974.8 1594.9 976.1 1586.3 977 1521.6 979.2 1582.3 980.7 1511.8 980.7 1593.2 981.4 1517.2 983.6 1593.5 985.4 1532.6 985.4 1595.5 985.8 1537 988 1600.1 990 1607 990.2 1538.3 992.3 1539.5 992.4 1597.4 994.6 1590.9 996.8 1508.6 996.9 1507.2 999 1623.2 999.2 1627.7 1001.2 1510.7 1001.5 1504.9 1002.6 1676.1 1003.4 1533 1004.9 1546.4 1005.6 1666.5 1007.8 1554.3 1008.4 1680.7 1010 1560.2 1010.7 1553.3 1012.2 1680.8 1014.4 1593.9 1015.3 1685.4 1015.3 1599.4 1016.6 1685.8 1018.8 1568.5 1019.9 1687.7 1019.9 1553.3 1021 1687.7 1023.2 1546.2 1025.4 1678.2 1025.7 1516.4 1026.8 1690 1027.6 1508.1 1029.1 1493.4 1029.8 1679.8 1032 1489.3 1033.7 1693.4 1033.7 1445 1034.2 1684.7 1036.4 1469.8 1038.3 1632.4 1038.6 1462.1 1039.5 1454.2 1040.8 1641.3 1043 1671.5 1043 1481.8 1045.2 1641.8 1047.4 1478.6 1047.6 1627.8 1047.6 1469.2 1049.6 1620.7 1051.8 1501.1 1052.2 1641.5 1054 1494.7 1054.5 1491.1 1056.2 1577.6 1056.8 1579.4 1058.4 1489.9 1060.6 1578.5 1061.4 1473.8 1061.4 1588.6 1062.8 1488.6 1065 1576.9 1067.2 1515.6 1068.3 1572.5 1068.3 1523.3 1069.4 1575.2 1071.6 1493.1 1072.9 1588.6 1072.9 1479.6 1073.8 1580.2 1076 1493.9 1078.2 1593.7 1079.8 1504.9 1079.8 1597.8 1080.4 1507.6 1082.6 1583.5 1084.8 1527.6 1085.6 1523.3 1086.7 1581.7 1087 1522.2 1089.2 1579.1 1091.3 1496.8 1091.4 1579.2 1093.6 1489.5 1093.6 1581.7 1095.8 1482.2 1098 1610.5 1098.2 1463.5 1100.2 1621.7 1100.5 1632.3 1102.4 1511 1104 1525.6 1104.6 1570 1105.2 1567.9 1106.8 1515.8 1109 1604.8 1111.2 1480.4 1112.1 1649.6 1112.1 1469.2 1113.4 1614.9 1115.6 1502.7 1116.7 1588.6 1117.8 1520.8 1119 1527.9 1120 1603.3 1121.3 1609.3 1122.2 1513.7 1122.4 1507.2 1124.4 1618.8 1125.9 1534.9 1125.9 1632.4 1126.6 1555.4 1128.2 1587.8 1128.8 1658 1130.5 1676.2 1131 1622.7 1131.7 1627 1133.2 1693.3 1135.1 1650.1 1135.1 1706.1 1135.4 1652.5 1137.6 1707.2 1139.7 1661.6 1139.8 1706.9 1142 1661.8 1142 1710.7 1144.2 1661.7 1146.4 1692.2 1146.6 1661.6 1146.6 1692.3 1148.6 1655.9 1150.8 1685.3 1151.2 1645.5 1151.2 1687.7 1153 1646 1155.2 1682.2 1157.4 1641.1 1158.2 1685.3 1158.2 1636.3 1159.6 1675.3 1161.8 1638.1 1162.8 1664.6 1164 1634.8 1166.2 1661.7 1167.4 1631.6 1167.4 1662.3 1168.4 1634.8 1170.6 1672.7 1172 1678.4 1172.8 1631 1175 1680.8 1176.6 1622.4 1177.2 1690.5 1177.7 1692.3 1179.4 1631.2 1181.2 1676.2 1181.6 1633.1 1183.5 1629.3 1183.8 1702.1 1185.8 1733.8 1186 1626.3 1188.1 1604 1188.2 1729.2 1190.4 1587.7 1192.6 1747.5 1192.7 1564.8 1192.7 1760.2 1194.8 1600.8 1197 1693.9 1197.3 1627 1197.3 1696.9 1199.2 1627.1 1200.8 1613.2 1201.4 1686.8 1201.9 1694.6 1203.6 1618.7 1205.8 1679 1206.5 1685.4 1208 1618.5 1208.8 1613.2 1210.2 1662 1211.2 1662.3 1212.4 1590.9 1213.5 1580.9 1214.6 1690.9 1215.8 1701.5 1216.8 1574.6 1218.1 1569.4 1219 1664.9 1220.4 1655.4 1221.2 1549 1222.7 1537.2 1223.4 1602.1 1225 1500.3 1225 1586.4 1225.6 1508.1 1227.8 1659.9 1229.6 1729 1230 1523.4 1232.2 1628.6 1234.2 1514.1 1234.2 1568 1234.4 1516.9 1236.6 1561.9 1238.8 1509.9 1238.8 1556.3 1238.8 1504.9 1241 1545.9 1243.2 1510 1243.4 1542.5 1245.4 1511.6 1245.7 1509.5 1247.6 1545 1249.8 1509.9 1250.3 1551.7 1252 1513.6 1252.6 1509.5 1254.2 1559.5 1256.4 1492.8 1258.6 1569.4 1259.5 1477.3 1259.5 1574.8 1260.8 1490.2 1263 1570.5 1265.2 1506.1 1266.5 1570.1 1266.5 1504.9 1267.4 1563.6 1269.6 1506.1 1271.1 1577.1 1271.8 1503.1 1274 1564.3 1275.7 1495.7 1275.7 1563.2 1276.2 1503 1278 1558.6 1278.4 1512.2 1280.3 1620.9 1280.6 1523.2 1282.6 1523.3 1282.8 1631.6 1284.9 1603.8 1284.9 1656.5 1285 1604.9 1287.2 1654 1287.2 1615.5 1289.4 1651.7 1291.6 1622.7 1291.8 1650.8 1291.8 1620.1 1293.8 1650.7 1296 1628.2 1298.2 1653.9 1300.4 1633.1 1301 1655.4 1301 1633.9 1302.6 1655.4 1304.8 1629.8 1305.6 1657.7 1305.6 1625.9 1307 1654.7 1309.2 1630 1311.4 1654.8 1312.5 1629.3 1312.5 1655.4 1313.6 1631.3 1315.8 1656.5 1318 1632.8 1319.5 1661.2 1319.5 1631.6 1320.2 1659.4 1322.4 1626.4 1324.1 1617.8 1324.6 1650.9 1326.4 1648.5 1326.8 1608 1328.7 1592.5 1329 1628 1331 1620.8 1331.2 1565.1 1333.3 1541.8 1333.4 1588.2 1335.6 1527.4 1335.6 1563.2 1337.8 1510.8 1337.9 1504.9 1340 1531.9 1342.2 1486.7 1342.5 1517.1 1342.5 1484.2 1344.4 1515.4 1346.6 1487.7 1348.8 1513.3 1351 1486.2 1351.7 1512.5 1351.7 1484.2 1353.2 1512 1355.2 1472.7 1355.4 1510 1357.6 1479.2 1359.8 1512 1360 1477.3 1360 1512.5 1361.5 1531 1362 1482.2 1363.8 1476.1 1364.2 1540.1 1366.1 1554 1366.4 1499.1 1367.3 1498 1368.4 1590.8 1368.6 1502.1 1370.8 1597 1371.9 1483 1373 1596.4 1373 1609.3 1375.2 1516.4 1375.3 1511.8 1377.4 1619.8 1377.7 1620.8 1379.6 1514 1380 1514.1 1381.8 1613 1382.3 1618.5 1384 1533.1 1385.7 1643.8 1386.2 1538.6 1386.9 1537.1 1388.4 1619.7 1390.3 1604.7 1390.6 1508.1 1391.5 1495.7 1392.8 1614.3 1394.9 1470.4 1394.9 1632.4 1395 1487 1397.2 1626.8 1398.4 1509.5 1399.4 1610.3 1399.5 1620.8 1401.6 1494.1 1403 1463.5 1403.8 1658.2 1404.2 1664.6 1406 1501.3 1407.6 1493.4 1408.2 1620.6 1408.8 1627.7 1410.4 1508.2 1412.2 1495.7 1412.6 1602.5 1414.5 1595.5 1414.8 1483.8 1416.8 1464.6 1417 1611.3 1419.2 1502.5 1420.3 1649.6 1421.4 1511.7 1421.4 1502.6 1423.6 1612.9 1425.8 1525.9 1426 1593.2 1426 1523.3 1428 1589.9 1430.2 1521.7 1430.7 1590.9 1430.7 1521 1432.4 1592.7 1434.1 1491.1 1434.6 1586.9 1436.8 1505.1 1437.6 1602.4 1438.7 1509.5 1439 1587.6 1441.2 1509 1442.2 1586.3 1443.3 1503.8 1443.4 1583.6 1445.6 1507.6 1446.8 1586.3 1447.8 1503.4 1449.1 1500.3 1450 1626.3 1450.7 1642.7 1452.2 1515.4 1454.4 1602.7 1454.8 1500.3 1456 1602.4 1456.6 1506.9 1458.8 1598.5 1459.5 1490 1460.6 1610.5 1461 1512.7 1463.2 1590.2 1464.1 1523.3 1465.2 1590.9 1465.4 1527.8 1467.6 1580.8 1468.7 1523.3 1469.8 1581.5 1469.8 1581.7 1472 1539.1 1472.1 1534.9 1474.2 1591.5 1474.4 1595.5 1476.4 1541 1478.6 1606.1 1479 1534.9 1479 1613.9 1480.8 1549.5 1482.5 1560.2 1483 1590.2 1483.6 1586.3 1485.2 1566 1487.4 1586 1488.2 1567.1 1488.2 1586.3 1489.6 1566.9 1491.8 1593.7 1492.9 1597.8 1494 1561.7 1494 1560.2 1496.2 1600.3 1497.5 1529.1 1497.5 1609.3 1498.4 1538.9 1500.6 1600.9 1502.1 1532.6 1502.1 1600.1 1502.8 1536.6 1505 1597.5 1507.2 1527.6 1509 1600.1 1509 1518.7 1509.4 1596.2 1511.6 1520.4 1513.6 1600.1 1513.8 1520.3 1515.9 1518.7 1516 1591.1 1518.2 1525.6 1518.2 1586.3 1520.4 1521.7 1520.5 1517.6 1522.6 1583 1524.8 1521.8 1525.1 1584 1526.3 1513 1527 1575.6 1529.2 1521.7 1531.4 1582.9 1532 1523.4 1532 1584 1533.6 1530.9 1534.3 1597.8 1535.8 1538.8 1536.6 1541.8 1538 1577.9 1538.9 1574.8 1540.2 1531.7 1541.2 1528 1542.4 1571.2 1544.6 1529.3 1545.8 1570.1 1546.8 1530.9 1548.2 1528 1549 1566.5 1551.2 1529.2 1552.8 1572.4 1552.8 1523.4 1553.4 1570.5 1555.6 1521.9 1557.4 1577.1 1557.4 1516.4 1557.8 1574.6 1560 1518.4 1562 1514.1 1562.2 1591.3 1564.3 1602.4 1564.4 1503 1566.6 1597.2 1566.6 1491.1 1568.8 1588.2 1571 1516.4 1571.2 1597.8 1571.2 1516.4 1573.2 1594.1 1574.7 1514.1 1575.4 1593.9 1577.6 1506.3 1579.3 1603.6 1579.3 1484.2 1579.8 1599.1 1582 1496.7 1584.2 1586.2 1585 1503.8 1585 1586.3 1586.4 1516.3 1588.6 1581.5 1589.6 1534.9 1589.6 1584 1590.8 1543 1593 1579.1 1594.2 1546.4 1594.2 1582.8 1595.2 1552.7 1597.4 1584.8 1598.8 1560.2 1599.6 1586.3 1601.2 1587.4 1601.8 1573.2 1603.5 1578.6 1604 1586.1 1606.2 1579.1 1608.1 1586.3 1608.4 1579.2 1610.4 1578.6 1610.6 1587.3 1612.8 1580.8 1613.8 1588.6 1615 1582.9 1617.2 1591.1 1619.4 1586.3 1619.6 1594.3 1619.6 1585.6 1621.6 1591.5 1623.8 1583.7 1626 1587.9 1626.5 1582.1 1626.5 1587.4 1628.2 1581.6 1630.4 1586.1 1632.6 1580.3 1634.8 1584.6 1635.7 1578.6 1635.7 1585.1 1637 1578.8 1639.2 1583.3 1641.4 1577.3 1642.6 1576.3 1643.6 1581.9 1644.9 1581.7 1645.8 1576.7 1648 1583.1 1649.5 1576.3 1650.2 1583.6 1651.8 1585.1 1652.4 1578 1654.6 1584.8 1656.8 1580.4 1658.8 1586.3 1658.8 1581 1659 1586 1661.2 1580.7 1663.4 1585 1665.6 1580.4 1667.8 1583.7 1668 1579.8 1668 1584 1670 1579.6 1672.2 1583.9 1674.4 1579.3 1676.6 1583.6 1677.2 1578.6 1677.2 1584 1678.8 1579.3 1681 1583.9 1683.2 1580.4 1685.4 1584 1686.4 1581 1686.4 1584 1687.6 1581.1 1689.8 1583.8 1692 1581.3 1693.3 1580.9 1694.2 1583.4 1695.6 1584 1696.4 1566.4 1697.9 1555.6 1698.6 1584.2 1700.8 1554.2 1702.5 1588.6 1703 1552.5 1704.8 1549.8 1705.2 1586.4 1707.4 1551.6 1708.3 1594.3 1709.6 1547.7 1711.8 1544.1 1711.8 1593.5 1714 1544.4 1714.1 1593.2 1716.2 1543.1 1716.4 1538.3 1718.4 1591.8 1720.6 1542.1 1721 1595.5 1722.8 1545.8 1723.3 1541.8 1725 1588.7 1727.2 1539.4 1727.9 1594.3 1729.4 1535.9 1730.2 1534.9 1731.6 1592.9 1733.8 1526.1 1734.8 1596.6 1734.8 1518.7 1736 1589.9 1738.2 1538.6 1739.4 1544.1 1740.4 1587.4 1741.7 1590.9 1742.6 1548.7 1744.8 1587.7 1746.3 1545.2 1747 1589.1 1749.2 1551.2 1750 1589.7 1750 1546.4 1751.4 1589.2 1752.7 1521.1 1753.6 1586.9 1753.8 1594.3 1755.8 1524.3 1758 1597 1758.4 1523.3 1760.2 1595 1761.9 1603.6 1762.4 1539.4 1763 1539.5 1764.6 1591.6 1766.8 1553.1 1767.7 1590.9 1767.7 1553.3 1769 1589.2 1771.2 1552.5 1772.3 1551 1773.4 1585.6 1774.6 1586.3 1775.6 1570.1 1775.7 1569.4 1777.8 1586.9 1780 1582.3 1780.3 1583.2 1781.5 1590.9 1782.2 1581 1784.4 1590.1 1784.9 1576.3 1786.6 1588.3 1788.4 1589.7 1788.8 1574.7 1789.5 1574 1791 1590.9 1793.2 1570.6 1794.2 1569.4 1795.3 1593.2 1795.4 1567.7 1797.6 1591.7 1798.8 1557.9 1799.8 1593.8 1802 1571.3 1802.2 1600.1 1802.2 1569.4 1804.2 1598.8 1805.7 1553.3 1806.4 1602.2 1806.8 1609.3 1808.6 1555 1810.8 1642.7 1811.4 1551 1811.4 1650.8 1813 1586.7 1813.7 1592.4 1815.2 1646.7 1817.4 1592 1818.3 1653.1 1819.5 1591.3 1819.6 1648.6 1821.8 1610.9 1824 1653.7 1824.1 1627 1825.2 1655.4 1826.2 1629.8 1828.4 1661 1829.9 1631.6 1829.9 1664.6 1830.6 1632.7 1832.2 1680.7 1832.8 1637.5 1834.5 1638.6 1835 1678 1837.2 1633.7 1839.1 1678.4 1839.1 1620.1 1839.4 1676.7 1841.6 1621.6 1843.7 1664.6 1843.8 1612.1 1846 1665.4 1846 1606.3 1848.2 1660.9 1848.3 1562.6 1848.3 1671.5 1850.4 1559.4 1852.6 1666.2 1852.9 1528 1852.9 1673.8 1854.8 1506.8 1855.2 1500.3 1856.4 1726.8 1857 1513.3 1859.2 1725.8 1859.8 1500.3 1861.4 1716.3 1862.1 1491.1 1862.1 1746.4 1863.6 1504.3 1865.6 1632.4 1865.6 1512 1865.8 1627.5 1867.9 1583.3 1868 1629.2 1870.2 1583.5 1871.3 1638.1 1872.4 1586.1 1873.6 1583.3 1874.6 1638.6 1876.8 1603.4 1878.2 1650.8 1878.2 1606.3 1879 1655.8 1881.2 1603.7 1881.7 1676.1 1882.9 1601.7 1883.4 1672.9 1885.6 1599.6 1887.5 1666.9 1887.8 1584.8 1888.6 1578.7 1890 1674.1 1890.9 1688.8 1892.1 1599.4 1892.2 1679.6 1894.4 1600.9 1896.6 1688.1 1896.7 1594.8 1898.8 1680.9 1899 1692.2 1901 1598.6 1901.3 1592.5 1903.2 1648.3 1903.6 1646.2 1905.4 1572.1 1905.9 1562.5 1907.6 1621.3 1908.2 1620.9 1909.8 1521 1910.5 1509.5 1912 1583.2 1912.8 1574.8 1914.2 1505.2 1916.4 1559.3 1917.4 1488.8 1917.4 1565.5 1918.6 1497.1 1920.8 1553.8 1922 1500.3 1923 1558 1924.3 1556.3 1925.2 1504.9 1927.4 1550.6 1928.9 1507.2 1929.6 1546.2 1931.2 1549.4 1931.8 1517.1 1934 1548.2 1934.7 1518.7 1936.2 1548.8 1938.4 1499.5 1940.5 1550.6 1940.5 1484.2 1940.6 1546.6 1942.8 1496.5 1945 1545.7 1945.1 1495.7 1947.2 1541.3 1947.4 1544.8 1948.5 1514.1 1949.4 1543.8 1951.6 1515.4 1952 1549.4 1953.8 1513.9 1954.3 1509.5 1956 1553.9 1958.2 1512.8 1958.9 1563.2 1960.4 1513.9 1961.2 1511.8 1962.6 1583.8 1963.5 1593.2 1964.8 1521.8 1967 1596.4 1968.1 1516.4 1969.2 1597.8 1970.4 1601.2 1971.4 1522.3 1973.6 1599.4 1975 1602.4 1975.8 1512.4 1977.3 1510.7 1978 1607.9 1978.5 1609.3 1980.2 1559.7 1980.8 1567.1 1981.9 1586.3 1982.4 1573.9 1984.2 1581 1984.6 1586.8 1986.8 1582.9 1988.8 1589.7 1989 1584.1 1991.2 1589 1993.4 1585.5 1993.5 1585.6 1995.6 1588 1997.8 1584.7 1998.1 1587.4 2000 1584.2 2002.2 1586.7 2002.7 1583.3 2004.4 1586.5 2006.6 1583 2007.3 1586.3 2008.8 1582.8 2011 1585.9 2011.9 1582.1 2013.2 1585.6 2015.4 1575.5 2016.5 1586.3 2016.5 1571.7 2017.6 1585 2019.8 1561.2 2022 1583.6 2023.4 1548.7 2024.2 1585.9 2025.7 1587.4 2026.4 1554.7 2028.6 1589.1 2029.2 1555.6 2030.8 1589.9 2032.6 1595.5 2033 1555.8 2035.2 1607.4 2037.4 1555.8 2039.5 1632.4 2039.5 1553.3 2039.6 1630.9 2041.8 1570.6 2044 1633.7 2046.2 1584.3 2046.5 1641.6 2046.5 1583.2 2048.4 1638.3 2050.6 1592.5 2052.8 1636.3 2053.4 1587.9 2053.4 1639.3 2055 1587.8 2057.2 1637.3 2058 1583.3 2059.4 1639.9 2060.3 1646.2 2061.6 1575.5 2063.8 1634.8 2064.9 1551 2064.9 1632.4 2066 1561.7 2068.2 1626.3 2069.5 1578.6 2070.4 1626.6 2071.8 1632.4 2072.6 1573.8 2074.1 1560.2 2074.8 1638.9 2077 1565.9 2078.7 1648.5 2079.2 1566.4 2081 1567.1 2081.4 1638 2083.6 1579.2 2085.6 1625.5 2085.6 1576.3 2085.8 1622 2088 1576.8 2090.2 1622.8 2091.4 1562.5 2092.4 1619.1 2092.5 1625.4 2094.6 1571 2096 1643.9 2096 1569.4 2096.8 1641.6 2099 1576.4 2101.2 1635.4 2101.8 1643.9 2102.9 1569.4 2103.4 1636.5 2105.6 1558.9 2106.4 1625.4 2106.4 1548.7 2107.8 1622.7 2110 1550.3 2112.2 1634.9 2113.3 1547.5 2113.3 1641.6 2114.4 1549.2 2116.6 1620 2117.9 1613.9 2118.8 1550.5 2120.2 1548.7 2121 1617.2 2123.2 1551.7 2123.6 1630.1 2125.4 1544.4 2125.9 1541.8 2127.6 1611.1 2129.4 1602.4 2129.8 1538.3 2131.7 1532.6 2132 1592.1 2134.2 1539.9 2136.3 1588.6 2136.3 1544.1 2136.4 1586.9 2138.6 1546.5 2140 1588.6 2140 1546.4 2140.8 1583.7 2143 1547.3 2143.8 1544.1 2145.2 1582.4 2146.1 1581.7 2147.4 1528.7 2148.4 1523.3 2149.5 1588.6 2149.6 1526.1 2151.8 1567.6 2154 1523.9 2154.2 1551.7 2155.3 1521 2156.2 1550.6 2158.4 1515.6 2159.9 1549.4 2160.6 1513.8 2162.2 1507.2 2162.8 1547 2165 1513.9 2166.8 1516.4 2167.2 1547.3 2169.1 1548.3 2169.4 1521.2 2171.4 1518.7 2171.6 1546.7 2173.8 1515 2176 1545.4 2176 1547.1 2177.2 1503.8 2178.2 1550.3 2179.5 1556.3 2180.4 1509.2 2182.6 1550 2182.9 1503.8 2184.8 1553.9 2187 1501.1 2187.6 1556.3 2188.7 1498 2189.2 1551.2 2191.4 1498.9 2193.6 1556.3 2194.5 1496.9 2194.5 1556.3 2195.8 1501.4 2198 1548.6 2200.2 1494.3 2201.4 1547.1 2201.4 1486.5 2202.4 1543.2 2204.6 1490.2 2206 1542.5 2206.8 1485.1 2208.3 1480.7 2209 1525.3 2210.6 1517.1 2211.2 1484.1 2213.4 1515.1 2215.2 1488.8 2215.2 1517.1 2215.6 1490.8 2217.8 1512.8 2219.8 1514.9 2220 1487.5 2222.1 1486.5 2222.2 1519.2 2224.4 1484.8 2224.4 1528.7 2226.6 1482 2228.8 1526.3 2229 1475 2231 1524.9 2231.3 1526.4 2233.2 1487.9 2233.6 1486.5 2235.4 1522.9 2237.6 1482.2 2238.2 1528.7 2238.2 1480.7 2239.8 1521 2242 1488 2242.9 1512.5 2244.2 1490.7 2245.2 1488.8 2246.4 1516 2248.6 1488.6 2249.8 1520.6 2250.8 1491.4 2250.9 1487.6 2253 1515.8 2255.2 1482.3 2256.7 1519.5 2256.7 1477.3 2257.4 1522.2 2259.6 1492.3 2261.3 1540.2 2261.3 1493.4 2261.8 1543.5 2264 1515 2264.8 1581.7 2265.9 1518.7 2266.2 1591.5 2268.4 1539.2 2269.3 1632.3 2269.3 1534.8 2270.6 1625.8 2272.8 1551.4 2274 1613.9 2275 1552.2 2275.1 1551 2277.2 1600.8 2277.4 1602.4 2279.4 1558.6 2280.9 1555.6 2281.6 1585.1 2282 1586.3 2283.8 1571.3 2284.3 1574 2286 1585.1 2286.6 1585.1 2288.2 1583.7 2288.9 1585.3 2290.4 1585.8 2292.4 1586.5 2292.4 1586.5" stroke="#00ff00" stroke-width="6.2" fill="none"/>
<path d="M327.5 1540.4V1504.8M337.8 1553.7V1509.4M345.4 1567V1564.7M511.8 1569.4V1479.5M571.7 1497.8V1495.6M818.4 1570.3V1442.6M848.3 1582.3V1529M883.8 1552.8V1469.1M932.9 1520.8V1479.5M958.5 1513.3V1469.1M1229.6 1508.1V1398.8M1384.6 1530.4V1434.5M1858 1501.2V1448.4M2034.9 1555.2V1530.2M2099.9 1570.3V1511.7M214.6 1590V1654.3M342.4 1634.9V1646.3M357 1629.2V1652M378.2 1633.8V1635.9M388.5 1634.5V1638.2M501.4 1625.7V1667M640.3 1618.2V1654.3M667.9 1619.9V1671.6M818.4 1635.6V1759.2M884.5 1627.8V1741.9M851.1 1652.2V1670.5M708.2 1643.6V1657.8M894.9 1619.9V1670.5M1977.3 1606.1V1644M2061.4 1641.8V1664.7M2099.4 1643V1687.8M2269.8 1629.6V1654.3" stroke="#00ff00" stroke-width="6.2" fill="none"/>
</g>
<text x="184.5" y="1848.6" font-size="49.5" fill="#262626" stroke="#262626" stroke-width="1.0" text-anchor="middle">0</text>
<text x="397.6" y="1848.6" font-size="49.5" fill="#262626" stroke="#262626" stroke-width="1.0" text-anchor="middle">100</text>
<text x="610.7" y="1848.6" font-size="49.5" fill="#262626" stroke="#262626" stroke-width="1.0" text-anchor="middle">200</text>
<text x="823.8" y="1848.6" font-size="49.5" fill="#262626" stroke="#262626" stroke-width="1.0" text-anchor="middle">300</text>
<text x="1036.9" y="1848.6" font-size="49.5" fill="#262626" stroke="#262626" stroke-width="1.0" text-anchor="middle">400</text>
<text x="1250" y="1848.6" font-size="49.5" fill="#262626" stroke="#262626" stroke-width="1.0" text-anchor="middle">500</text>
<text x="1463.1" y="1848.6" font-size="49.5" fill="#262626" stroke="#262626" stroke-width="1.0" text-anchor="middle">600</text>
<text x="1676.2" y="1848.6" font-size="49.5" fill="#262626" stroke="#262626" stroke-width="1.0" text-anchor="middle">700</text>
<text x="1889.3" y="1848.6" font-size="49.5" fill="#262626" stroke="#262626" stroke-width="1.0" text-anchor="middle">800</text>
<text x="2102.4" y="1848.6" font-size="49.5" fill="#262626" stroke="#262626" stroke-width="1.0" text-anchor="middle">900</text>
<text x="2315.5" y="1848.6" font-size="49.5" fill="#262626" stroke="#262626" stroke-width="1.0" text-anchor="middle">1000</text>
<text x="168" y="1801.6" font-size="49.5" fill="#262626" stroke="#262626" stroke-width="1.0" text-anchor="end">-1</text>
<text x="168" y="1601.6" font-size="49.5" fill="#262626" stroke="#262626" stroke-width="1.0" text-anchor="end">0</text>
<text x="168" y="1401.6" font-size="49.5" fill="#262626" stroke="#262626" stroke-width="1.0" text-anchor="end">1</text>
<text x="1250" y="1915.7" font-size="54.3" fill="#262626" stroke="#262626" stroke-width="1.0" text-anchor="middle">Time (sec)</text>
<text transform="translate(99 1582) rotate(-90)" font-size="54.3" fill="#262626" stroke="#262626" stroke-width="1.0" text-anchor="middle">Down (m/s)</text>
<rect x="1580.5" y="13.8" width="731.5" height="193.2" fill="#fff" stroke="#262626" stroke-width="3.4"/>
<path d="M1596 51H1761" stroke="#ff0000" stroke-width="6"/>
<text x="1772.3" y="68.4" font-size="44.0" fill="#000" stroke="#000" stroke-width="1.0">Angle deviation: 5 degrees</text>
<path d="M1596 110.5H1761" stroke="#0000ff" stroke-width="6"/>
<text x="1772.3" y="127.9" font-size="44.0" fill="#000" stroke="#000" stroke-width="1.0">Angle deviation: 3 degrees</text>
<path d="M1596 170H1761" stroke="#00ff00" stroke-width="6"/>
<text x="1772.3" y="187.4" font-size="44.0" fill="#000" stroke="#000" stroke-width="1.0">No angle deviation</text>
</svg></body></html>
